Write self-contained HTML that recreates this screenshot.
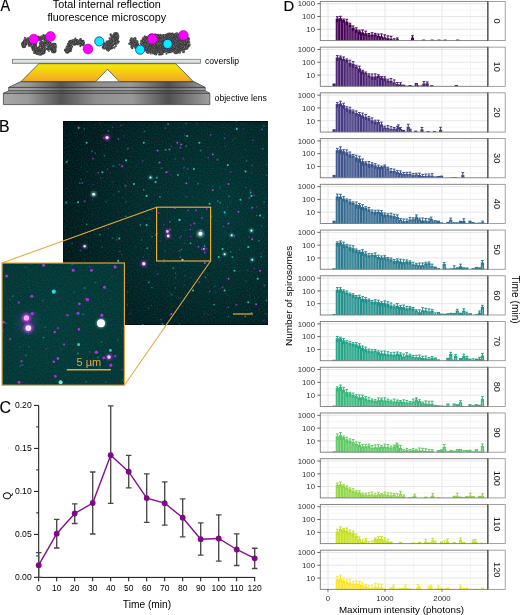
<!DOCTYPE html>
<html><head><meta charset="utf-8"><style>html,body{margin:0;padding:0;background:#fff;width:520px;height:615px;overflow:hidden}svg{display:block;will-change:transform}</style></head>
<body><svg width="520" height="615" viewBox="0 0 520 615" font-family="'Liberation Sans', sans-serif">
<text transform="translate(0.6,10.7) scale(0.9,1)" font-size="16" stroke="#000" stroke-width="0.15">A</text>
<text x="106.8" y="7.8" font-size="10.8" text-anchor="middle">Total internal reflection</text>
<text x="106.8" y="20.8" font-size="10.8" text-anchor="middle">fluorescence microscopy</text>
<defs>
<linearGradient id="yel" x1="0" y1="0" x2="0" y2="1"><stop offset="0" stop-color="#f4ea00"/><stop offset="0.45" stop-color="#f6cc15"/><stop offset="1" stop-color="#f3a327"/></linearGradient>
<linearGradient id="lens" x1="0" y1="0" x2="1" y2="0">
<stop offset="0" stop-color="#a8a8a8"/><stop offset="0.12" stop-color="#9a9a9a"/><stop offset="0.28" stop-color="#555"/><stop offset="0.45" stop-color="#8f8f8f"/><stop offset="0.62" stop-color="#9a9a9a"/><stop offset="0.8" stop-color="#505050"/><stop offset="1" stop-color="#a0a0a0"/></linearGradient>
<linearGradient id="cov" x1="0" y1="0" x2="0" y2="1"><stop offset="0" stop-color="#eef2f2"/><stop offset="1" stop-color="#c8d0d0"/></linearGradient>
<filter id="blobtex" x="-10%" y="-10%" width="120%" height="120%"><feTurbulence type="fractalNoise" baseFrequency="1.1" numOctaves="1" seed="3" result="n"/><feColorMatrix in="n" type="matrix" values="0 0 0 0 0.34  0 0 0 0 0.34  0 0 0 0 0.34  1.2 0 0 0 -0.55" result="c"/><feComposite in="c" in2="SourceAlpha" operator="in" result="t"/><feMerge><feMergeNode in="SourceGraphic"/><feMergeNode in="t"/></feMerge></filter>
</defs>
<rect x="12.5" y="59.3" width="188" height="4" fill="url(#cov)" stroke="#777" stroke-width="0.8"/>
<path d="M38.8,63.7 L175.8,63.7 L193.5,81.8 L119.5,81.8 L107.5,69.2 L95.5,81.8 L20.8,81.8 Z" fill="url(#yel)" stroke="#3a3a3a" stroke-width="0.7"/>
<path d="M20.3,81.8 L194.3,81.8 L205.2,87.4 L205.2,90.8 L209.8,93.3 L209.8,104.6 L3.4,104.6 L3.4,93.3 L8.7,90.8 L8.7,87.4 Z" fill="url(#lens)" stroke="#333" stroke-width="0.7"/>
<path d="M8.7,87.4 L205.2,87.4 M8.7,90.8 L205.2,90.8 M3.4,93.3 L209.8,93.3" stroke="#333" stroke-width="0.8" fill="none"/>
<path d="M8.7,89.2 L205.2,89.2" stroke="#bbb" stroke-width="0.6" opacity="0.6"/>
<g fill="#3d3d3d" filter="url(#blobtex)"><circle cx="23.9" cy="46.0" r="2.25"/><circle cx="23.9" cy="44.4" r="2.66"/><circle cx="24.2" cy="43.0" r="2.36"/><circle cx="26.0" cy="42.5" r="2.00"/><circle cx="26.6" cy="41.1" r="2.45"/><circle cx="28.2" cy="39.5" r="2.25"/><circle cx="28.2" cy="41.7" r="2.31"/><circle cx="29.1" cy="43.1" r="2.06"/><circle cx="30.2" cy="44.7" r="2.03"/><circle cx="24.0" cy="46.0" r="1.29"/><circle cx="24.8" cy="45.6" r="1.23"/><circle cx="23.7" cy="44.6" r="1.22"/><circle cx="22.2" cy="43.4" r="1.04"/><circle cx="25.9" cy="44.1" r="1.21"/><circle cx="24.6" cy="43.0" r="0.96"/><circle cx="23.8" cy="42.0" r="1.00"/><circle cx="24.5" cy="41.0" r="1.25"/><circle cx="24.5" cy="40.2" r="1.28"/><circle cx="28.1" cy="43.0" r="0.94"/><circle cx="26.1" cy="40.2" r="1.12"/><circle cx="24.9" cy="38.2" r="1.09"/><circle cx="25.3" cy="41.5" r="0.97"/><circle cx="27.3" cy="40.9" r="0.97"/><circle cx="27.7" cy="41.3" r="1.28"/><circle cx="30.1" cy="40.4" r="0.92"/><circle cx="31.1" cy="40.5" r="1.14"/><circle cx="31.8" cy="40.7" r="0.95"/><circle cx="29.5" cy="43.0" r="1.29"/><circle cx="30.1" cy="43.5" r="1.08"/><circle cx="28.8" cy="44.3" r="0.96"/><circle cx="29.2" cy="44.8" r="0.99"/><circle cx="29.1" cy="45.4" r="1.31"/><circle cx="32.8" cy="45.5" r="1.14"/><circle cx="32.8" cy="45.1" r="2.24"/><circle cx="34.0" cy="46.0" r="3.01"/><circle cx="33.6" cy="47.8" r="2.21"/><circle cx="34.7" cy="48.7" r="2.97"/><circle cx="36.2" cy="49.4" r="2.66"/><circle cx="37.3" cy="50.4" r="2.44"/><circle cx="37.4" cy="52.3" r="2.64"/><circle cx="38.8" cy="53.0" r="2.18"/><circle cx="40.3" cy="52.8" r="2.89"/><circle cx="41.9" cy="51.9" r="2.51"/><circle cx="42.8" cy="50.5" r="3.01"/><circle cx="43.1" cy="49.0" r="2.12"/><circle cx="43.5" cy="47.5" r="2.40"/><circle cx="42.9" cy="46.0" r="2.30"/><circle cx="42.6" cy="44.7" r="2.40"/><circle cx="41.6" cy="43.5" r="2.68"/><circle cx="35.3" cy="43.7" r="1.24"/><circle cx="36.0" cy="43.9" r="1.23"/><circle cx="31.8" cy="47.0" r="1.12"/><circle cx="32.7" cy="47.2" r="1.02"/><circle cx="32.8" cy="47.8" r="1.09"/><circle cx="36.0" cy="46.6" r="1.31"/><circle cx="35.3" cy="47.7" r="1.07"/><circle cx="33.1" cy="49.9" r="1.07"/><circle cx="34.5" cy="49.6" r="0.99"/><circle cx="33.9" cy="50.8" r="1.02"/><circle cx="38.5" cy="48.3" r="1.31"/><circle cx="38.2" cy="49.2" r="1.30"/><circle cx="34.2" cy="52.9" r="1.16"/><circle cx="39.8" cy="49.6" r="0.94"/><circle cx="38.1" cy="50.2" r="1.08"/><circle cx="37.9" cy="52.9" r="1.31"/><circle cx="39.0" cy="51.5" r="0.98"/><circle cx="39.2" cy="53.0" r="0.98"/><circle cx="40.8" cy="50.2" r="1.14"/><circle cx="41.4" cy="53.9" r="0.95"/><circle cx="40.7" cy="52.4" r="1.20"/><circle cx="42.6" cy="53.4" r="1.07"/><circle cx="43.6" cy="53.6" r="0.99"/><circle cx="43.2" cy="52.3" r="1.23"/><circle cx="44.4" cy="52.7" r="1.12"/><circle cx="40.4" cy="50.5" r="0.94"/><circle cx="43.2" cy="49.9" r="0.99"/><circle cx="43.9" cy="49.4" r="0.95"/><circle cx="44.8" cy="48.8" r="1.01"/><circle cx="39.8" cy="48.2" r="0.99"/><circle cx="42.7" cy="47.7" r="1.15"/><circle cx="42.3" cy="47.1" r="0.99"/><circle cx="42.9" cy="46.6" r="1.30"/><circle cx="43.2" cy="45.9" r="1.30"/><circle cx="39.8" cy="46.2" r="1.32"/><circle cx="45.2" cy="44.2" r="1.14"/><circle cx="42.7" cy="44.2" r="1.14"/><circle cx="45.1" cy="43.1" r="0.95"/><circle cx="43.2" cy="42.9" r="1.14"/><circle cx="40.9" cy="42.9" r="1.21"/><circle cx="39.1" cy="38.9" r="1.76"/><circle cx="40.6" cy="38.3" r="2.01"/><circle cx="42.0" cy="37.5" r="2.15"/><circle cx="43.6" cy="37.5" r="2.12"/><circle cx="44.4" cy="38.6" r="2.33"/><circle cx="38.4" cy="36.8" r="1.25"/><circle cx="40.1" cy="39.7" r="1.17"/><circle cx="41.0" cy="40.5" r="0.93"/><circle cx="41.0" cy="38.5" r="1.17"/><circle cx="41.8" cy="38.8" r="1.08"/><circle cx="43.4" cy="35.0" r="1.00"/><circle cx="42.1" cy="38.4" r="0.99"/><circle cx="44.4" cy="35.6" r="1.06"/><circle cx="43.6" cy="38.2" r="1.14"/><circle cx="45.6" cy="35.9" r="1.23"/><circle cx="45.0" cy="38.0" r="1.24"/><circle cx="46.6" cy="36.4" r="1.30"/><circle cx="46.9" cy="42.1" r="2.88"/><circle cx="46.9" cy="44.1" r="2.75"/><circle cx="49.1" cy="45.1" r="2.32"/><circle cx="49.9" cy="46.7" r="2.70"/><circle cx="50.8" cy="48.0" r="2.21"/><circle cx="52.1" cy="48.6" r="2.12"/><circle cx="53.7" cy="50.4" r="2.88"/><circle cx="53.5" cy="48.4" r="2.67"/><circle cx="54.4" cy="47.0" r="2.48"/><circle cx="53.5" cy="45.3" r="2.58"/><circle cx="48.6" cy="41.3" r="1.02"/><circle cx="47.1" cy="42.6" r="1.00"/><circle cx="47.9" cy="43.0" r="1.30"/><circle cx="50.6" cy="42.5" r="0.96"/><circle cx="46.2" cy="45.1" r="0.94"/><circle cx="49.8" cy="44.3" r="1.26"/><circle cx="47.9" cy="45.9" r="1.01"/><circle cx="51.3" cy="44.4" r="1.03"/><circle cx="50.3" cy="45.8" r="1.24"/><circle cx="46.9" cy="48.7" r="1.24"/><circle cx="47.6" cy="49.0" r="1.29"/><circle cx="48.1" cy="49.4" r="1.29"/><circle cx="48.9" cy="51.1" r="0.96"/><circle cx="51.6" cy="47.8" r="1.02"/><circle cx="51.1" cy="49.7" r="1.12"/><circle cx="52.5" cy="48.5" r="1.26"/><circle cx="52.8" cy="49.1" r="1.00"/><circle cx="51.7" cy="49.3" r="1.11"/><circle cx="53.9" cy="49.8" r="1.15"/><circle cx="53.1" cy="48.8" r="0.99"/><circle cx="53.2" cy="48.2" r="1.05"/><circle cx="52.1" cy="47.0" r="1.14"/><circle cx="52.4" cy="46.6" r="1.21"/><circle cx="55.5" cy="46.6" r="0.98"/><circle cx="55.0" cy="46.1" r="1.06"/><circle cx="53.7" cy="46.0" r="1.16"/><circle cx="55.3" cy="44.6" r="1.28"/><circle cx="54.9" cy="44.1" r="1.01"/><circle cx="53.5" cy="44.0" r="1.05"/><circle cx="67.3" cy="51.4" r="2.40"/><circle cx="68.3" cy="49.7" r="2.66"/><circle cx="68.2" cy="47.9" r="2.64"/><circle cx="69.2" cy="46.7" r="2.02"/><circle cx="70.2" cy="45.5" r="2.17"/><circle cx="70.5" cy="44.0" r="1.99"/><circle cx="70.9" cy="42.5" r="2.71"/><circle cx="72.0" cy="41.7" r="2.06"/><circle cx="73.4" cy="40.9" r="2.01"/><circle cx="75.3" cy="41.8" r="2.77"/><circle cx="76.9" cy="41.2" r="2.27"/><circle cx="78.5" cy="42.4" r="2.36"/><circle cx="80.9" cy="42.0" r="2.52"/><circle cx="81.7" cy="43.1" r="2.16"/><circle cx="82.7" cy="43.9" r="2.26"/><circle cx="66.1" cy="51.3" r="1.17"/><circle cx="70.7" cy="51.1" r="1.15"/><circle cx="65.1" cy="50.1" r="1.20"/><circle cx="65.2" cy="49.5" r="1.11"/><circle cx="70.8" cy="49.4" r="1.19"/><circle cx="71.1" cy="48.8" r="1.22"/><circle cx="67.2" cy="47.3" r="0.98"/><circle cx="68.5" cy="47.4" r="1.19"/><circle cx="67.4" cy="46.2" r="1.05"/><circle cx="70.7" cy="47.2" r="1.06"/><circle cx="70.1" cy="46.3" r="1.14"/><circle cx="72.3" cy="46.8" r="0.93"/><circle cx="68.1" cy="44.1" r="1.23"/><circle cx="71.2" cy="45.0" r="0.96"/><circle cx="69.0" cy="42.1" r="1.00"/><circle cx="71.1" cy="43.9" r="1.28"/><circle cx="70.2" cy="41.8" r="1.00"/><circle cx="72.6" cy="43.9" r="1.09"/><circle cx="73.7" cy="44.3" r="1.32"/><circle cx="74.5" cy="44.4" r="1.21"/><circle cx="73.1" cy="41.8" r="0.94"/><circle cx="73.8" cy="43.5" r="1.08"/><circle cx="74.0" cy="41.2" r="1.17"/><circle cx="75.1" cy="44.4" r="1.14"/><circle cx="75.6" cy="44.0" r="1.31"/><circle cx="75.4" cy="38.5" r="1.06"/><circle cx="76.8" cy="43.6" r="1.23"/><circle cx="75.8" cy="43.8" r="0.99"/><circle cx="77.5" cy="41.4" r="1.30"/><circle cx="78.1" cy="41.7" r="1.19"/><circle cx="77.5" cy="44.6" r="0.99"/><circle cx="80.5" cy="39.3" r="1.26"/><circle cx="79.7" cy="42.7" r="1.00"/><circle cx="79.1" cy="44.2" r="1.03"/><circle cx="82.5" cy="41.0" r="1.04"/><circle cx="83.3" cy="40.9" r="1.08"/><circle cx="80.6" cy="45.0" r="1.10"/><circle cx="80.3" cy="46.3" r="0.94"/><circle cx="84.0" cy="42.6" r="0.98"/><circle cx="82.8" cy="45.0" r="1.00"/><circle cx="104.1" cy="47.3" r="2.27"/><circle cx="105.2" cy="46.5" r="2.53"/><circle cx="106.6" cy="46.1" r="2.59"/><circle cx="107.2" cy="44.5" r="2.15"/><circle cx="109.5" cy="44.7" r="2.17"/><circle cx="110.2" cy="42.8" r="2.24"/><circle cx="111.0" cy="41.2" r="2.53"/><circle cx="112.7" cy="40.0" r="1.92"/><circle cx="113.6" cy="38.6" r="2.27"/><circle cx="112.6" cy="36.8" r="2.34"/><circle cx="114.4" cy="36.2" r="2.13"/><circle cx="115.1" cy="33.9" r="2.01"/><circle cx="116.1" cy="34.9" r="2.28"/><circle cx="116.8" cy="36.5" r="2.54"/><circle cx="117.0" cy="38.2" r="1.86"/><circle cx="116.6" cy="40.0" r="1.95"/><circle cx="115.9" cy="41.4" r="2.03"/><circle cx="115.3" cy="42.7" r="2.36"/><circle cx="113.5" cy="42.9" r="2.15"/><circle cx="112.5" cy="44.3" r="2.11"/><circle cx="110.9" cy="44.9" r="2.30"/><circle cx="110.4" cy="47.2" r="2.45"/><circle cx="109.1" cy="47.6" r="1.89"/><circle cx="108.1" cy="48.6" r="2.53"/><circle cx="104.7" cy="48.2" r="1.06"/><circle cx="104.7" cy="47.0" r="1.20"/><circle cx="103.6" cy="44.0" r="1.20"/><circle cx="106.2" cy="47.3" r="1.30"/><circle cx="104.6" cy="43.3" r="1.15"/><circle cx="106.5" cy="45.6" r="1.26"/><circle cx="106.6" cy="44.5" r="1.19"/><circle cx="109.0" cy="47.2" r="1.06"/><circle cx="108.1" cy="44.8" r="1.28"/><circle cx="106.8" cy="41.8" r="1.31"/><circle cx="108.3" cy="43.0" r="1.10"/><circle cx="108.7" cy="42.5" r="1.24"/><circle cx="110.1" cy="43.5" r="1.22"/><circle cx="108.3" cy="41.5" r="1.27"/><circle cx="112.6" cy="43.7" r="1.19"/><circle cx="109.6" cy="41.0" r="1.02"/><circle cx="111.2" cy="41.3" r="0.95"/><circle cx="114.3" cy="42.7" r="1.08"/><circle cx="114.7" cy="42.2" r="0.99"/><circle cx="113.5" cy="40.2" r="1.24"/><circle cx="113.5" cy="39.6" r="1.09"/><circle cx="109.6" cy="38.3" r="1.10"/><circle cx="112.1" cy="38.1" r="1.30"/><circle cx="116.0" cy="38.1" r="1.31"/><circle cx="115.7" cy="38.6" r="0.99"/><circle cx="110.6" cy="34.9" r="1.04"/><circle cx="110.8" cy="34.3" r="0.97"/><circle cx="114.3" cy="35.8" r="1.00"/><circle cx="114.8" cy="35.4" r="1.07"/><circle cx="115.6" cy="33.4" r="1.31"/><circle cx="116.4" cy="33.4" r="1.28"/><circle cx="115.2" cy="35.4" r="1.19"/><circle cx="117.4" cy="34.0" r="1.22"/><circle cx="114.3" cy="37.9" r="1.00"/><circle cx="116.7" cy="36.5" r="1.18"/><circle cx="116.7" cy="37.1" r="1.22"/><circle cx="115.5" cy="37.7" r="1.05"/><circle cx="115.3" cy="38.2" r="1.23"/><circle cx="116.7" cy="38.8" r="1.16"/><circle cx="115.6" cy="39.4" r="1.11"/><circle cx="118.7" cy="41.6" r="1.08"/><circle cx="114.6" cy="39.4" r="1.21"/><circle cx="118.1" cy="42.6" r="1.11"/><circle cx="115.0" cy="41.2" r="1.13"/><circle cx="117.0" cy="43.3" r="1.18"/><circle cx="113.7" cy="41.7" r="1.14"/><circle cx="112.0" cy="41.3" r="1.15"/><circle cx="115.9" cy="46.1" r="1.03"/><circle cx="112.8" cy="42.8" r="0.95"/><circle cx="111.3" cy="41.7" r="1.20"/><circle cx="111.6" cy="43.1" r="0.99"/><circle cx="114.2" cy="47.4" r="1.27"/><circle cx="111.7" cy="45.1" r="1.10"/><circle cx="111.3" cy="45.4" r="1.23"/><circle cx="111.4" cy="46.5" r="1.23"/><circle cx="111.8" cy="48.0" r="1.31"/><circle cx="109.4" cy="45.4" r="1.05"/><circle cx="109.6" cy="46.9" r="1.27"/><circle cx="109.6" cy="48.1" r="1.20"/><circle cx="107.2" cy="45.0" r="1.31"/><circle cx="108.8" cy="49.0" r="1.24"/><circle cx="107.1" cy="47.3" r="1.25"/><circle cx="108.4" cy="50.7" r="1.09"/><path d="M131,42 L132,40 L133,38.8 L134.8,39.8 L136.5,42 L137.5,44.5 L138,46.5 L135.5,46.5 L133,47.2 L131.5,46 L130.8,44.5Z"/><circle cx="130.9" cy="41.9" r="1.30"/><circle cx="131.2" cy="41.3" r="0.98"/><circle cx="130.8" cy="40.3" r="1.31"/><circle cx="132.9" cy="40.8" r="1.20"/><circle cx="131.5" cy="38.5" r="1.28"/><circle cx="132.4" cy="39.8" r="1.08"/><circle cx="133.6" cy="39.1" r="1.08"/><circle cx="134.9" cy="38.2" r="1.27"/><circle cx="135.7" cy="39.1" r="1.00"/><circle cx="134.2" cy="41.2" r="1.00"/><circle cx="135.0" cy="41.4" r="1.30"/><circle cx="136.7" cy="41.0" r="1.12"/><circle cx="137.3" cy="41.7" r="1.26"/><circle cx="135.3" cy="43.2" r="1.27"/><circle cx="137.0" cy="43.2" r="1.19"/><circle cx="137.5" cy="43.8" r="1.26"/><circle cx="138.2" cy="44.3" r="1.06"/><circle cx="137.1" cy="45.3" r="1.07"/><circle cx="136.3" cy="46.2" r="1.27"/><circle cx="138.0" cy="47.5" r="0.97"/><circle cx="137.4" cy="46.2" r="1.02"/><circle cx="136.8" cy="46.5" r="1.21"/><circle cx="136.1" cy="45.5" r="1.12"/><circle cx="135.5" cy="46.4" r="1.30"/><circle cx="135.2" cy="47.8" r="1.10"/><circle cx="134.0" cy="45.9" r="1.11"/><circle cx="133.3" cy="45.7" r="1.00"/><circle cx="132.2" cy="48.2" r="1.11"/><circle cx="132.4" cy="46.9" r="1.11"/><circle cx="131.4" cy="47.1" r="1.15"/><circle cx="132.6" cy="45.5" r="1.35"/><circle cx="131.5" cy="45.1" r="1.07"/><circle cx="131.1" cy="44.5" r="1.03"/><circle cx="129.5" cy="43.8" r="1.29"/><circle cx="130.2" cy="43.2" r="1.03"/><circle cx="132.0" cy="42.7" r="1.01"/><path d="M142,42 L143,38.5 L145,37.2 L148,36.8 L151,36.2 L155,35.8 L158,35.5 L160.5,36.5 L163,36.5 L165.5,35 L168,34 L171,34.5 L174,35.5 L177,35 L180,35 L184,34.5 L187,38.5 L188.5,41 L189,44 L188.5,46.5 L186,47.5 L184,50 L180,51.5 L176,51.5 L172,52 L168,52.5 L164,52 L161,53 L157,53 L153,52 L149,51.5 L146.5,50.5 L144.5,48 L143,45.5Z"/><circle cx="141.2" cy="41.8" r="1.02"/><circle cx="143.4" cy="41.8" r="1.25"/><circle cx="141.4" cy="40.6" r="0.99"/><circle cx="143.8" cy="40.6" r="1.01"/><circle cx="143.3" cy="39.9" r="1.25"/><circle cx="143.1" cy="39.2" r="1.16"/><circle cx="142.9" cy="38.3" r="1.08"/><circle cx="143.9" cy="38.5" r="1.02"/><circle cx="144.3" cy="37.6" r="1.07"/><circle cx="144.9" cy="36.8" r="1.33"/><circle cx="145.6" cy="37.3" r="1.23"/><circle cx="146.3" cy="37.5" r="0.96"/><circle cx="146.9" cy="37.9" r="1.33"/><circle cx="147.5" cy="37.7" r="1.18"/><circle cx="148.2" cy="37.9" r="1.36"/><circle cx="148.5" cy="36.0" r="1.03"/><circle cx="149.1" cy="36.1" r="0.97"/><circle cx="149.6" cy="35.6" r="0.99"/><circle cx="150.1" cy="34.8" r="1.13"/><circle cx="150.8" cy="34.6" r="1.16"/><circle cx="151.8" cy="37.2" r="1.26"/><circle cx="152.2" cy="34.6" r="1.27"/><circle cx="152.9" cy="35.0" r="1.30"/><circle cx="153.7" cy="36.4" r="1.19"/><circle cx="154.3" cy="35.7" r="1.37"/><circle cx="154.9" cy="34.9" r="1.34"/><circle cx="155.5" cy="34.8" r="1.00"/><circle cx="156.1" cy="34.8" r="0.98"/><circle cx="156.9" cy="36.7" r="1.04"/><circle cx="157.4" cy="35.8" r="1.08"/><circle cx="158.2" cy="35.1" r="1.29"/><circle cx="158.6" cy="35.9" r="1.07"/><circle cx="159.0" cy="36.7" r="1.02"/><circle cx="160.4" cy="34.9" r="1.25"/><circle cx="160.5" cy="37.6" r="1.28"/><circle cx="161.1" cy="37.1" r="1.35"/><circle cx="161.8" cy="37.9" r="1.20"/><circle cx="162.4" cy="35.5" r="1.20"/><circle cx="162.9" cy="36.3" r="1.26"/><circle cx="163.4" cy="35.7" r="0.99"/><circle cx="163.7" cy="34.9" r="1.02"/><circle cx="165.3" cy="36.0" r="1.25"/><circle cx="165.5" cy="35.1" r="1.09"/><circle cx="166.4" cy="35.4" r="1.15"/><circle cx="166.7" cy="34.5" r="1.04"/><circle cx="168.0" cy="35.7" r="1.15"/><circle cx="168.0" cy="33.9" r="1.05"/><circle cx="168.6" cy="33.9" r="1.16"/><circle cx="169.2" cy="34.0" r="1.27"/><circle cx="169.9" cy="33.8" r="1.22"/><circle cx="170.3" cy="34.9" r="1.02"/><circle cx="170.7" cy="35.5" r="0.99"/><circle cx="171.8" cy="34.0" r="1.31"/><circle cx="172.6" cy="33.7" r="1.08"/><circle cx="172.9" cy="34.8" r="1.36"/><circle cx="172.9" cy="36.7" r="1.05"/><circle cx="174.1" cy="35.9" r="1.31"/><circle cx="174.6" cy="35.4" r="1.09"/><circle cx="175.0" cy="34.2" r="0.99"/><circle cx="175.6" cy="33.8" r="0.98"/><circle cx="176.5" cy="35.8" r="1.21"/><circle cx="177.0" cy="33.6" r="1.35"/><circle cx="177.6" cy="36.6" r="1.13"/><circle cx="178.2" cy="34.6" r="1.33"/><circle cx="178.8" cy="35.5" r="1.27"/><circle cx="179.4" cy="34.0" r="1.27"/><circle cx="180.0" cy="34.8" r="0.98"/><circle cx="180.5" cy="33.5" r="1.07"/><circle cx="181.2" cy="34.0" r="1.07"/><circle cx="182.2" cy="36.1" r="1.13"/><circle cx="182.6" cy="33.7" r="1.00"/><circle cx="183.2" cy="33.2" r="1.13"/><circle cx="184.2" cy="34.3" r="0.99"/><circle cx="184.3" cy="35.0" r="1.10"/><circle cx="186.0" cy="34.6" r="1.16"/><circle cx="186.0" cy="35.3" r="1.04"/><circle cx="184.9" cy="37.0" r="1.14"/><circle cx="186.2" cy="36.7" r="1.19"/><circle cx="185.7" cy="37.9" r="1.22"/><circle cx="185.5" cy="38.9" r="1.26"/><circle cx="187.4" cy="38.2" r="1.36"/><circle cx="188.7" cy="38.3" r="1.04"/><circle cx="188.8" cy="39.1" r="1.12"/><circle cx="188.5" cy="40.1" r="1.12"/><circle cx="188.1" cy="41.1" r="1.11"/><circle cx="188.7" cy="41.6" r="1.24"/><circle cx="187.4" cy="42.4" r="1.36"/><circle cx="189.2" cy="42.7" r="1.12"/><circle cx="187.3" cy="43.7" r="1.31"/><circle cx="187.8" cy="43.8" r="1.01"/><circle cx="189.5" cy="44.8" r="1.14"/><circle cx="189.3" cy="45.4" r="1.15"/><circle cx="187.2" cy="45.6" r="1.12"/><circle cx="188.5" cy="46.5" r="1.10"/><circle cx="187.8" cy="46.5" r="1.19"/><circle cx="187.6" cy="47.9" r="0.98"/><circle cx="186.3" cy="46.5" r="1.31"/><circle cx="186.4" cy="47.8" r="1.04"/><circle cx="186.6" cy="48.8" r="1.22"/><circle cx="185.0" cy="48.3" r="1.35"/><circle cx="184.4" cy="48.6" r="1.20"/><circle cx="184.2" cy="49.3" r="1.34"/><circle cx="183.5" cy="48.7" r="1.03"/><circle cx="183.9" cy="51.3" r="1.01"/><circle cx="183.4" cy="51.9" r="1.32"/><circle cx="181.8" cy="49.3" r="1.17"/><circle cx="181.4" cy="50.1" r="1.24"/><circle cx="181.0" cy="50.6" r="1.12"/><circle cx="180.1" cy="49.9" r="1.09"/><circle cx="180.0" cy="52.8" r="0.98"/><circle cx="179.3" cy="50.6" r="1.29"/><circle cx="178.7" cy="50.4" r="1.30"/><circle cx="178.0" cy="52.4" r="1.11"/><circle cx="177.3" cy="52.2" r="1.32"/><circle cx="176.7" cy="53.1" r="1.09"/><circle cx="175.9" cy="51.0" r="1.23"/><circle cx="175.5" cy="53.2" r="1.01"/><circle cx="174.8" cy="52.7" r="1.05"/><circle cx="174.0" cy="51.7" r="0.97"/><circle cx="173.2" cy="50.8" r="1.16"/><circle cx="172.6" cy="51.4" r="1.11"/><circle cx="171.9" cy="50.9" r="1.00"/><circle cx="171.2" cy="50.9" r="1.06"/><circle cx="170.7" cy="52.1" r="1.20"/><circle cx="169.9" cy="51.7" r="1.19"/><circle cx="169.2" cy="51.6" r="0.98"/><circle cx="168.7" cy="52.3" r="1.17"/><circle cx="168.0" cy="52.1" r="1.00"/><circle cx="167.4" cy="51.8" r="0.99"/><circle cx="166.5" cy="53.8" r="0.98"/><circle cx="166.2" cy="50.7" r="1.03"/><circle cx="165.4" cy="51.6" r="0.98"/><circle cx="164.7" cy="51.7" r="1.05"/><circle cx="163.9" cy="51.7" r="1.27"/><circle cx="163.2" cy="51.7" r="1.19"/><circle cx="162.6" cy="51.7" r="0.96"/><circle cx="162.7" cy="54.0" r="1.06"/><circle cx="161.6" cy="52.9" r="1.28"/><circle cx="161.0" cy="54.5" r="1.05"/><circle cx="160.3" cy="52.9" r="1.10"/><circle cx="159.7" cy="54.3" r="1.08"/><circle cx="159.0" cy="54.5" r="0.97"/><circle cx="158.3" cy="51.9" r="1.09"/><circle cx="157.7" cy="52.3" r="1.06"/><circle cx="157.2" cy="52.3" r="1.33"/><circle cx="156.0" cy="54.3" r="1.21"/><circle cx="156.0" cy="51.4" r="1.28"/><circle cx="154.7" cy="53.7" r="1.27"/><circle cx="154.5" cy="51.5" r="1.03"/><circle cx="153.8" cy="51.7" r="1.22"/><circle cx="152.9" cy="53.0" r="1.30"/><circle cx="152.5" cy="50.8" r="0.99"/><circle cx="151.7" cy="51.9" r="1.21"/><circle cx="150.8" cy="53.3" r="1.18"/><circle cx="150.5" cy="50.3" r="1.10"/><circle cx="149.7" cy="51.6" r="1.35"/><circle cx="149.4" cy="50.4" r="1.36"/><circle cx="147.9" cy="52.5" r="1.38"/><circle cx="147.5" cy="51.5" r="1.11"/><circle cx="146.8" cy="51.7" r="1.30"/><circle cx="146.7" cy="50.3" r="1.15"/><circle cx="146.1" cy="50.0" r="1.18"/><circle cx="145.9" cy="49.3" r="1.02"/><circle cx="145.8" cy="48.6" r="1.07"/><circle cx="143.7" cy="49.5" r="1.36"/><circle cx="143.4" cy="48.7" r="1.30"/><circle cx="144.9" cy="46.9" r="1.14"/><circle cx="144.0" cy="46.6" r="1.06"/><circle cx="142.6" cy="46.6" r="1.33"/><circle cx="143.8" cy="45.3" r="1.28"/><circle cx="142.7" cy="45.0" r="0.97"/><circle cx="143.5" cy="44.1" r="1.36"/><circle cx="141.9" cy="43.9" r="1.22"/><circle cx="141.2" cy="43.5" r="1.36"/><circle cx="142.8" cy="42.4" r="0.99"/></g>
<circle cx="33.8" cy="39.1" r="4.9" fill="#ff00ff" stroke="#a000b0" stroke-width="0.6"/>
<circle cx="50.5" cy="36.5" r="4.9" fill="#ff00ff" stroke="#a000b0" stroke-width="0.6"/>
<circle cx="88" cy="49" r="4.9" fill="#ff00ff" stroke="#a000b0" stroke-width="0.6"/>
<circle cx="152.4" cy="39" r="4.9" fill="#ff00ff" stroke="#a000b0" stroke-width="0.6"/>
<circle cx="183.4" cy="35.4" r="4.9" fill="#ff00ff" stroke="#a000b0" stroke-width="0.6"/>
<circle cx="99.3" cy="41.4" r="4.6" fill="#00f0ff" stroke="#2020a0" stroke-width="0.8"/>
<circle cx="140.2" cy="49.7" r="4.6" fill="#00f0ff" stroke="#2020a0" stroke-width="0.8"/>
<circle cx="167.6" cy="43.9" r="4.6" fill="#00f0ff" stroke="#2020a0" stroke-width="0.8"/>
<text x="205" y="63.5" font-size="8.65">coverslip</text>
<text x="214.6" y="101.2" font-size="8.65">objective lens</text>
<text x="-1.1" y="131.6" font-size="15.8" stroke="#000" stroke-width="0.15">B</text>
<defs>
<radialGradient id="bgB" cx="0.75" cy="0.45" r="0.9"><stop offset="0" stop-color="#053232"/><stop offset="0.5" stop-color="#052223"/><stop offset="1" stop-color="#020c0e"/></radialGradient>
<radialGradient id="bgI" cx="0.5" cy="0.5" r="0.8"><stop offset="0" stop-color="#063634"/><stop offset="1" stop-color="#05302f"/></radialGradient>
<filter id="grain" x="0" y="0" width="100%" height="100%"><feTurbulence type="fractalNoise" baseFrequency="0.7" numOctaves="1" seed="5" result="n"/><feColorMatrix in="n" type="matrix" values="0 0 0 0 0  0 0 0 0 0.24  0 0 0 0 0.24  0 0 0 0.55 -0.18"/></filter>
<filter id="bl0" x="-1" y="-1" width="3" height="3"><feGaussianBlur stdDeviation="0.35"/></filter>
<filter id="bl1" x="-1" y="-1" width="3" height="3"><feGaussianBlur stdDeviation="0.6"/></filter>
<filter id="bl2" x="-1" y="-1" width="3" height="3"><feGaussianBlur stdDeviation="1.3"/></filter>
<filter id="bl3" x="-1" y="-1" width="3" height="3"><feGaussianBlur stdDeviation="3"/></filter>
<clipPath id="clipB"><rect x="63" y="121" width="205" height="204"/></clipPath>
<clipPath id="clipI"><rect x="2" y="263" width="122.4" height="122.2"/></clipPath>
</defs>
<rect x="63" y="121" width="205" height="204" fill="url(#bgB)"/>
<rect x="63" y="121" width="205" height="204" filter="url(#grain)"/>
<rect x="63" y="121" width="205" height="1.2" fill="#010c0c" opacity="0.85"/><rect x="63" y="323.8" width="205" height="1.2" fill="#010c0c" opacity="0.6"/><rect x="63" y="121" width="1" height="204" fill="#010c0c" opacity="0.5"/>
<g clip-path="url(#clipB)">
<g filter="url(#bl0)">
<circle cx="155.7" cy="235.2" r="0.83" fill="#30d0c0" opacity="0.45"/>
<circle cx="183.4" cy="158.7" r="0.91" fill="#a838e0" opacity="0.60"/>
<circle cx="82.3" cy="182.9" r="1.00" fill="#a838e0" opacity="0.55"/>
<circle cx="71.6" cy="321.4" r="0.93" fill="#30d0c0" opacity="0.51"/>
<circle cx="95.3" cy="124.1" r="0.63" fill="#a838e0" opacity="0.30"/>
<circle cx="112.6" cy="127.1" r="0.82" fill="#a838e0" opacity="0.62"/>
<circle cx="156.8" cy="177.7" r="1.10" fill="#30d0c0" opacity="0.62"/>
<circle cx="208.1" cy="185.3" r="0.74" fill="#a838e0" opacity="0.24"/>
<circle cx="220.1" cy="202.7" r="0.79" fill="#30d0c0" opacity="0.68"/>
<circle cx="236.7" cy="121.1" r="1.06" fill="#a838e0" opacity="0.43"/>
<circle cx="264.0" cy="202.1" r="0.91" fill="#a838e0" opacity="0.59"/>
<circle cx="118.3" cy="138.8" r="1.08" fill="#a838e0" opacity="0.58"/>
<circle cx="87.2" cy="171.3" r="0.63" fill="#a838e0" opacity="0.60"/>
<circle cx="99.4" cy="235.1" r="0.70" fill="#a838e0" opacity="0.57"/>
<circle cx="89.8" cy="252.3" r="0.81" fill="#a838e0" opacity="0.31"/>
<circle cx="118.3" cy="319.1" r="0.75" fill="#30d0c0" opacity="0.64"/>
<circle cx="106.2" cy="201.4" r="0.92" fill="#30d0c0" opacity="0.25"/>
<circle cx="265.8" cy="164.5" r="0.99" fill="#a838e0" opacity="0.36"/>
<circle cx="123.7" cy="136.0" r="0.89" fill="#a838e0" opacity="0.32"/>
<circle cx="186.3" cy="196.8" r="1.08" fill="#a838e0" opacity="0.44"/>
<circle cx="180.8" cy="297.8" r="0.68" fill="#a838e0" opacity="0.65"/>
<circle cx="230.6" cy="171.9" r="0.97" fill="#a838e0" opacity="0.67"/>
<circle cx="103.3" cy="314.8" r="0.90" fill="#30d0c0" opacity="0.41"/>
<circle cx="84.3" cy="128.9" r="0.72" fill="#30d0c0" opacity="0.55"/>
<circle cx="115.7" cy="289.0" r="0.75" fill="#a838e0" opacity="0.29"/>
<circle cx="210.7" cy="135.0" r="0.88" fill="#a838e0" opacity="0.63"/>
<circle cx="188.9" cy="178.2" r="0.70" fill="#30d0c0" opacity="0.21"/>
<circle cx="118.2" cy="211.9" r="0.69" fill="#a838e0" opacity="0.38"/>
<circle cx="180.3" cy="147.8" r="1.05" fill="#a838e0" opacity="0.69"/>
<circle cx="197.7" cy="262.0" r="0.67" fill="#a838e0" opacity="0.22"/>
<circle cx="66.7" cy="306.7" r="1.08" fill="#30d0c0" opacity="0.21"/>
<circle cx="212.8" cy="186.1" r="0.64" fill="#30d0c0" opacity="0.47"/>
<circle cx="214.1" cy="304.6" r="0.95" fill="#30d0c0" opacity="0.60"/>
<circle cx="250.6" cy="192.8" r="1.05" fill="#30d0c0" opacity="0.64"/>
<circle cx="148.5" cy="282.3" r="0.89" fill="#30d0c0" opacity="0.51"/>
<circle cx="141.4" cy="239.9" r="0.64" fill="#30d0c0" opacity="0.52"/>
<circle cx="266.6" cy="300.5" r="0.79" fill="#30d0c0" opacity="0.57"/>
<circle cx="234.9" cy="138.1" r="0.61" fill="#30d0c0" opacity="0.50"/>
<circle cx="161.6" cy="168.0" r="0.85" fill="#30d0c0" opacity="0.51"/>
<circle cx="251.7" cy="173.2" r="0.75" fill="#a838e0" opacity="0.54"/>
<circle cx="104.5" cy="155.6" r="0.93" fill="#30d0c0" opacity="0.42"/>
<circle cx="245.8" cy="187.7" r="0.70" fill="#30d0c0" opacity="0.42"/>
<circle cx="228.2" cy="307.5" r="0.79" fill="#30d0c0" opacity="0.49"/>
<circle cx="127.9" cy="148.8" r="1.02" fill="#a838e0" opacity="0.62"/>
<circle cx="208.8" cy="314.8" r="0.68" fill="#a838e0" opacity="0.43"/>
<circle cx="119.4" cy="164.7" r="0.91" fill="#a838e0" opacity="0.45"/>
<circle cx="127.7" cy="292.2" r="0.83" fill="#30d0c0" opacity="0.24"/>
<circle cx="69.5" cy="299.1" r="0.95" fill="#a838e0" opacity="0.49"/>
<circle cx="126.4" cy="282.5" r="0.67" fill="#a838e0" opacity="0.43"/>
<circle cx="68.1" cy="290.3" r="0.67" fill="#a838e0" opacity="0.22"/>
<circle cx="228.5" cy="316.5" r="0.70" fill="#30d0c0" opacity="0.44"/>
<circle cx="99.6" cy="123.2" r="0.96" fill="#a838e0" opacity="0.29"/>
<circle cx="118.8" cy="191.5" r="0.86" fill="#30d0c0" opacity="0.51"/>
<circle cx="218.0" cy="201.3" r="1.05" fill="#30d0c0" opacity="0.24"/>
<circle cx="254.2" cy="268.4" r="0.83" fill="#a838e0" opacity="0.51"/>
<circle cx="249.5" cy="197.9" r="1.04" fill="#a838e0" opacity="0.60"/>
<circle cx="256.6" cy="215.6" r="0.70" fill="#30d0c0" opacity="0.56"/>
<circle cx="230.8" cy="251.9" r="0.71" fill="#30d0c0" opacity="0.65"/>
<circle cx="264.0" cy="320.4" r="1.00" fill="#a838e0" opacity="0.36"/>
<circle cx="249.5" cy="295.6" r="0.64" fill="#a838e0" opacity="0.42"/>
<circle cx="175.8" cy="277.7" r="0.61" fill="#a838e0" opacity="0.60"/>
<circle cx="76.1" cy="284.2" r="0.77" fill="#a838e0" opacity="0.59"/>
<circle cx="91.8" cy="151.3" r="0.96" fill="#a838e0" opacity="0.62"/>
<circle cx="204.3" cy="313.9" r="1.07" fill="#a838e0" opacity="0.24"/>
<circle cx="108.4" cy="228.4" r="0.96" fill="#a838e0" opacity="0.52"/>
<circle cx="170.2" cy="293.1" r="0.76" fill="#a838e0" opacity="0.39"/>
<circle cx="236.3" cy="304.7" r="1.03" fill="#a838e0" opacity="0.68"/>
<circle cx="104.2" cy="230.3" r="0.90" fill="#a838e0" opacity="0.21"/>
<circle cx="261.7" cy="226.3" r="1.00" fill="#a838e0" opacity="0.48"/>
<circle cx="163.7" cy="262.0" r="0.87" fill="#a838e0" opacity="0.41"/>
<circle cx="259.2" cy="309.4" r="0.84" fill="#a838e0" opacity="0.26"/>
<circle cx="151.9" cy="287.4" r="0.84" fill="#30d0c0" opacity="0.36"/>
<circle cx="102.2" cy="247.1" r="0.66" fill="#30d0c0" opacity="0.59"/>
<circle cx="67.7" cy="160.6" r="0.94" fill="#a838e0" opacity="0.36"/>
<circle cx="135.8" cy="247.4" r="0.97" fill="#a838e0" opacity="0.26"/>
<circle cx="167.6" cy="172.1" r="0.87" fill="#a838e0" opacity="0.42"/>
<circle cx="140.0" cy="205.3" r="0.68" fill="#a838e0" opacity="0.30"/>
<circle cx="171.6" cy="294.7" r="1.03" fill="#30d0c0" opacity="0.32"/>
<circle cx="214.9" cy="286.3" r="0.76" fill="#30d0c0" opacity="0.36"/>
<circle cx="252.2" cy="165.5" r="1.04" fill="#30d0c0" opacity="0.27"/>
<circle cx="112.1" cy="269.2" r="0.65" fill="#a838e0" opacity="0.62"/>
<circle cx="149.4" cy="282.1" r="0.80" fill="#a838e0" opacity="0.54"/>
<circle cx="66.6" cy="162.0" r="1.06" fill="#30d0c0" opacity="0.68"/>
<circle cx="86.7" cy="224.2" r="0.85" fill="#30d0c0" opacity="0.54"/>
<circle cx="101.7" cy="135.4" r="0.62" fill="#a838e0" opacity="0.48"/>
<circle cx="93.0" cy="158.6" r="1.02" fill="#a838e0" opacity="0.70"/>
<circle cx="253.0" cy="140.4" r="1.08" fill="#a838e0" opacity="0.43"/>
<circle cx="219.8" cy="187.7" r="0.86" fill="#a838e0" opacity="0.42"/>
<circle cx="186.2" cy="123.7" r="1.02" fill="#30d0c0" opacity="0.29"/>
<circle cx="156.1" cy="271.8" r="0.70" fill="#a838e0" opacity="0.28"/>
<circle cx="168.1" cy="124.1" r="1.00" fill="#30d0c0" opacity="0.55"/>
<circle cx="239.5" cy="249.4" r="0.90" fill="#a838e0" opacity="0.45"/>
<circle cx="264.4" cy="285.2" r="1.06" fill="#a838e0" opacity="0.57"/>
<circle cx="222.5" cy="287.2" r="1.05" fill="#a838e0" opacity="0.64"/>
<circle cx="205.4" cy="277.5" r="0.80" fill="#30d0c0" opacity="0.56"/>
<circle cx="77.5" cy="190.7" r="0.61" fill="#a838e0" opacity="0.38"/>
<circle cx="110.6" cy="313.7" r="0.77" fill="#30d0c0" opacity="0.53"/>
<circle cx="142.9" cy="325.0" r="0.95" fill="#30d0c0" opacity="0.58"/>
<circle cx="263.9" cy="125.7" r="0.97" fill="#30d0c0" opacity="0.33"/>
<circle cx="145.3" cy="131.3" r="0.79" fill="#a838e0" opacity="0.25"/>
<circle cx="114.4" cy="305.8" r="0.85" fill="#a838e0" opacity="0.68"/>
<circle cx="179.4" cy="324.0" r="1.00" fill="#30d0c0" opacity="0.24"/>
<circle cx="185.5" cy="275.9" r="1.07" fill="#a838e0" opacity="0.28"/>
<circle cx="159.7" cy="155.5" r="0.91" fill="#a838e0" opacity="0.23"/>
<circle cx="256.8" cy="206.8" r="0.90" fill="#a838e0" opacity="0.38"/>
<circle cx="121.6" cy="254.6" r="0.74" fill="#a838e0" opacity="0.56"/>
<circle cx="123.7" cy="123.9" r="0.62" fill="#a838e0" opacity="0.28"/>
<circle cx="217.7" cy="200.6" r="0.97" fill="#30d0c0" opacity="0.23"/>
<circle cx="265.7" cy="313.7" r="1.05" fill="#a838e0" opacity="0.41"/>
<circle cx="160.9" cy="319.5" r="0.86" fill="#a838e0" opacity="0.67"/>
<circle cx="211.2" cy="216.5" r="1.01" fill="#30d0c0" opacity="0.50"/>
<circle cx="86.6" cy="248.3" r="0.70" fill="#a838e0" opacity="0.23"/>
<circle cx="171.3" cy="146.4" r="0.93" fill="#a838e0" opacity="0.43"/>
<circle cx="116.7" cy="239.8" r="0.99" fill="#a838e0" opacity="0.47"/>
<circle cx="267.5" cy="315.3" r="0.72" fill="#30d0c0" opacity="0.26"/>
<circle cx="246.0" cy="281.0" r="0.78" fill="#30d0c0" opacity="0.34"/>
<circle cx="217.4" cy="159.7" r="1.09" fill="#a838e0" opacity="0.66"/>
<circle cx="243.1" cy="129.1" r="0.74" fill="#a838e0" opacity="0.41"/>
<circle cx="190.8" cy="141.9" r="0.64" fill="#a838e0" opacity="0.24"/>
<circle cx="192.4" cy="197.1" r="0.71" fill="#a838e0" opacity="0.37"/>
<circle cx="215.7" cy="292.1" r="0.66" fill="#a838e0" opacity="0.60"/>
<circle cx="190.9" cy="277.8" r="0.81" fill="#a838e0" opacity="0.33"/>
<circle cx="229.0" cy="196.3" r="1.09" fill="#30d0c0" opacity="0.36"/>
<circle cx="175.5" cy="273.2" r="0.81" fill="#30d0c0" opacity="0.38"/>
<circle cx="82.9" cy="299.5" r="0.64" fill="#a838e0" opacity="0.48"/>
<circle cx="124.3" cy="279.2" r="0.71" fill="#a838e0" opacity="0.53"/>
<circle cx="79.8" cy="183.0" r="0.95" fill="#30d0c0" opacity="0.34"/>
<circle cx="92.3" cy="194.0" r="0.78" fill="#30d0c0" opacity="0.26"/>
<circle cx="251.3" cy="312.7" r="0.82" fill="#30d0c0" opacity="0.60"/>
<circle cx="125.5" cy="185.8" r="1.07" fill="#a838e0" opacity="0.65"/>
<circle cx="113.9" cy="194.8" r="0.78" fill="#a838e0" opacity="0.40"/>
<circle cx="142.5" cy="160.8" r="1.00" fill="#a838e0" opacity="0.47"/>
<circle cx="234.5" cy="235.8" r="0.98" fill="#a838e0" opacity="0.64"/>
<circle cx="120.7" cy="125.5" r="0.87" fill="#a838e0" opacity="0.48"/>
<circle cx="261.1" cy="253.8" r="0.63" fill="#30d0c0" opacity="0.47"/>
<circle cx="224.6" cy="138.1" r="0.97" fill="#a838e0" opacity="0.65"/>
<circle cx="80.4" cy="250.4" r="0.97" fill="#a838e0" opacity="0.52"/>
<circle cx="113.3" cy="166.0" r="0.86" fill="#30d0c0" opacity="0.58"/>
<circle cx="143.8" cy="189.9" r="0.94" fill="#30d0c0" opacity="0.45"/>
<circle cx="173.2" cy="268.1" r="1.06" fill="#30d0c0" opacity="0.41"/>
<circle cx="232.4" cy="257.0" r="1.00" fill="#30d0c0" opacity="0.62"/>
<circle cx="245.2" cy="316.4" r="0.86" fill="#30d0c0" opacity="0.56"/>
<circle cx="227.5" cy="207.0" r="0.67" fill="#a838e0" opacity="0.57"/>
<circle cx="266.2" cy="197.6" r="0.70" fill="#a838e0" opacity="0.41"/>
<circle cx="122.9" cy="318.8" r="0.75" fill="#a838e0" opacity="0.26"/>
<circle cx="195.8" cy="279.3" r="0.63" fill="#a838e0" opacity="0.43"/>
<circle cx="182.7" cy="306.5" r="0.65" fill="#a838e0" opacity="0.29"/>
<circle cx="107.6" cy="169.0" r="0.90" fill="#30d0c0" opacity="0.31"/>
<circle cx="100.9" cy="178.3" r="0.98" fill="#a838e0" opacity="0.36"/>
<circle cx="175.4" cy="287.7" r="0.73" fill="#a838e0" opacity="0.64"/>
<circle cx="250.4" cy="190.8" r="1.08" fill="#a838e0" opacity="0.44"/>
<circle cx="108.3" cy="131.1" r="1.00" fill="#30d0c0" opacity="0.39"/>
<circle cx="119.3" cy="323.0" r="0.72" fill="#30d0c0" opacity="0.21"/>
<circle cx="159.9" cy="196.8" r="0.96" fill="#30d0c0" opacity="0.50"/>
<circle cx="95.2" cy="153.0" r="0.73" fill="#a838e0" opacity="0.63"/>
<circle cx="266.6" cy="175.4" r="0.68" fill="#a838e0" opacity="0.59"/>
<circle cx="63.3" cy="288.6" r="1.01" fill="#30d0c0" opacity="0.24"/>
<circle cx="118.3" cy="267.2" r="0.84" fill="#a838e0" opacity="0.43"/>
<circle cx="258.9" cy="240.7" r="0.75" fill="#30d0c0" opacity="0.59"/>
<circle cx="148.5" cy="308.0" r="1.01" fill="#a838e0" opacity="0.30"/>
<circle cx="95.3" cy="290.7" r="0.76" fill="#a838e0" opacity="0.24"/>
<circle cx="125.7" cy="216.3" r="0.78" fill="#30d0c0" opacity="0.54"/>
<circle cx="84.7" cy="201.4" r="1.08" fill="#a838e0" opacity="0.61"/>
<circle cx="197.1" cy="123.5" r="0.96" fill="#a838e0" opacity="0.32"/>
<circle cx="65.1" cy="323.3" r="0.70" fill="#30d0c0" opacity="0.51"/>
<circle cx="122.5" cy="197.7" r="0.75" fill="#a838e0" opacity="0.37"/>
<circle cx="143.4" cy="257.0" r="0.70" fill="#a838e0" opacity="0.57"/>
<circle cx="130.5" cy="313.8" r="0.96" fill="#a838e0" opacity="0.37"/>
<circle cx="232.5" cy="139.8" r="0.65" fill="#a838e0" opacity="0.54"/>
<circle cx="208.2" cy="157.7" r="1.02" fill="#a838e0" opacity="0.50"/>
<circle cx="81.5" cy="167.2" r="0.66" fill="#a838e0" opacity="0.40"/>
<circle cx="77.9" cy="308.8" r="0.86" fill="#a838e0" opacity="0.52"/>
<circle cx="220.2" cy="288.5" r="0.77" fill="#a838e0" opacity="0.41"/>
<circle cx="66.2" cy="202.7" r="1.09" fill="#30d0c0" opacity="0.59"/>
<circle cx="66.8" cy="188.5" r="0.93" fill="#a838e0" opacity="0.25"/>
<circle cx="140.4" cy="224.9" r="1.01" fill="#30d0c0" opacity="0.51"/>
<circle cx="95.5" cy="277.4" r="0.87" fill="#30d0c0" opacity="0.38"/>
<circle cx="165.6" cy="149.9" r="1.09" fill="#30d0c0" opacity="0.46"/>
<circle cx="209.7" cy="291.4" r="1.07" fill="#a838e0" opacity="0.51"/>
<circle cx="103.6" cy="138.0" r="0.89" fill="#a838e0" opacity="0.55"/>
<circle cx="130.5" cy="310.5" r="0.83" fill="#a838e0" opacity="0.26"/>
<circle cx="262.6" cy="148.7" r="0.87" fill="#30d0c0" opacity="0.48"/>
<circle cx="177.9" cy="174.9" r="1.10" fill="#30d0c0" opacity="0.61"/>
<circle cx="186.3" cy="146.0" r="0.74" fill="#30d0c0" opacity="0.65"/>
<circle cx="112.4" cy="238.0" r="0.69" fill="#30d0c0" opacity="0.47"/>
<circle cx="78.6" cy="127.5" r="1.09" fill="#a838e0" opacity="0.67"/>
<circle cx="198.0" cy="183.8" r="0.97" fill="#30d0c0" opacity="0.39"/>
<circle cx="184.3" cy="285.0" r="0.70" fill="#a838e0" opacity="0.43"/>
<circle cx="92.3" cy="199.8" r="0.69" fill="#a838e0" opacity="0.46"/>
<circle cx="117.0" cy="236.9" r="0.92" fill="#a838e0" opacity="0.22"/>
<circle cx="200.6" cy="150.5" r="0.90" fill="#30d0c0" opacity="0.43"/>
<circle cx="147.3" cy="248.3" r="0.98" fill="#30d0c0" opacity="0.58"/>
<circle cx="162.6" cy="323.9" r="1.03" fill="#30d0c0" opacity="0.40"/>
<circle cx="152.0" cy="236.5" r="0.86" fill="#30d0c0" opacity="0.46"/>
<circle cx="151.6" cy="305.5" r="0.63" fill="#a838e0" opacity="0.56"/>
<circle cx="247.5" cy="270.3" r="0.98" fill="#a838e0" opacity="0.35"/>
<circle cx="184.7" cy="135.2" r="0.82" fill="#a838e0" opacity="0.45"/>
<circle cx="144.3" cy="131.6" r="0.86" fill="#30d0c0" opacity="0.32"/>
<circle cx="125.8" cy="201.7" r="0.63" fill="#a838e0" opacity="0.66"/>
<circle cx="261.1" cy="256.8" r="0.81" fill="#30d0c0" opacity="0.60"/>
<circle cx="108.5" cy="273.3" r="1.05" fill="#a838e0" opacity="0.25"/>
<circle cx="225.4" cy="146.3" r="1.08" fill="#a838e0" opacity="0.20"/>
<circle cx="113.0" cy="182.1" r="0.63" fill="#a838e0" opacity="0.65"/>
<circle cx="230.2" cy="202.0" r="0.89" fill="#a838e0" opacity="0.22"/>
<circle cx="69.4" cy="304.3" r="0.85" fill="#a838e0" opacity="0.67"/>
<circle cx="263.3" cy="217.4" r="0.75" fill="#a838e0" opacity="0.66"/>
<circle cx="246.8" cy="160.9" r="0.78" fill="#30d0c0" opacity="0.44"/>
<circle cx="98.2" cy="300.5" r="0.70" fill="#30d0c0" opacity="0.52"/>
<circle cx="102.3" cy="300.6" r="0.65" fill="#a838e0" opacity="0.56"/>
<circle cx="127.2" cy="304.7" r="0.96" fill="#30d0c0" opacity="0.27"/>
<circle cx="205.7" cy="312.3" r="0.64" fill="#a838e0" opacity="0.31"/>
<circle cx="126.0" cy="265.9" r="0.69" fill="#a838e0" opacity="0.32"/>
<circle cx="199.2" cy="282.3" r="0.93" fill="#a838e0" opacity="0.64"/>
<circle cx="183.9" cy="167.7" r="1.06" fill="#a838e0" opacity="0.53"/>
<circle cx="119.8" cy="251.5" r="1.09" fill="#a838e0" opacity="0.42"/>
<circle cx="72.3" cy="243.3" r="0.73" fill="#a838e0" opacity="0.60"/>
<circle cx="80.9" cy="179.2" r="0.72" fill="#30d0c0" opacity="0.34"/>
<circle cx="175.4" cy="159.0" r="1.09" fill="#30d0c0" opacity="0.22"/>
<circle cx="157.6" cy="274.1" r="1.06" fill="#a838e0" opacity="0.45"/>
<circle cx="99.9" cy="234.4" r="0.78" fill="#30d0c0" opacity="0.53"/>
<circle cx="223.5" cy="226.4" r="1.02" fill="#a838e0" opacity="0.54"/>
<circle cx="169.7" cy="315.1" r="0.99" fill="#a838e0" opacity="0.28"/>
<circle cx="187.7" cy="169.0" r="0.99" fill="#a838e0" opacity="0.59"/>
<circle cx="225.2" cy="169.1" r="0.71" fill="#a838e0" opacity="0.49"/>
<circle cx="165.3" cy="128.2" r="0.96" fill="#a838e0" opacity="0.49"/>
<circle cx="241.9" cy="157.7" r="0.61" fill="#a838e0" opacity="0.45"/>
<circle cx="152.1" cy="211.1" r="1.00" fill="#a838e0" opacity="0.24"/>
<circle cx="249.0" cy="237.1" r="1.00" fill="#a838e0" opacity="0.32"/>
<circle cx="93.0" cy="184.4" r="0.76" fill="#a838e0" opacity="0.51"/>
<circle cx="170.7" cy="175.0" r="0.64" fill="#a838e0" opacity="0.61"/>
<circle cx="98.2" cy="173.0" r="0.95" fill="#a838e0" opacity="0.62"/>
<circle cx="224.3" cy="133.5" r="0.78" fill="#a838e0" opacity="0.31"/>
<circle cx="262.0" cy="129.6" r="0.98" fill="#a838e0" opacity="0.69"/>
<circle cx="92.6" cy="213.9" r="0.62" fill="#30d0c0" opacity="0.32"/>
<circle cx="245.5" cy="149.9" r="0.75" fill="#a838e0" opacity="0.41"/>
<circle cx="78.7" cy="128.0" r="0.98" fill="#30d0c0" opacity="0.57"/>
<circle cx="110.1" cy="172.7" r="0.72" fill="#a838e0" opacity="0.43"/>
<circle cx="254.2" cy="195.3" r="1.09" fill="#a838e0" opacity="0.51"/>
</g>
<circle cx="187.2" cy="136.0" r="1.05" fill="#40e0d8" opacity="0.8" filter="url(#bl0)"/>
<circle cx="236.8" cy="128.9" r="1.05" fill="#40e0d8" opacity="0.8" filter="url(#bl0)"/>
<circle cx="199.4" cy="142.7" r="1.05" fill="#40e0d8" opacity="0.8" filter="url(#bl0)"/>
<circle cx="143.8" cy="142.7" r="1.05" fill="#40e0d8" opacity="0.8" filter="url(#bl0)"/>
<circle cx="86.6" cy="142.7" r="1.05" fill="#40e0d8" opacity="0.8" filter="url(#bl0)"/>
<circle cx="102.4" cy="172.2" r="1.05" fill="#40e0d8" opacity="0.8" filter="url(#bl0)"/>
<circle cx="126.1" cy="160.4" r="1.05" fill="#40e0d8" opacity="0.8" filter="url(#bl0)"/>
<circle cx="193.9" cy="169.1" r="1.05" fill="#40e0d8" opacity="0.8" filter="url(#bl0)"/>
<circle cx="245.5" cy="171.5" r="1.05" fill="#40e0d8" opacity="0.8" filter="url(#bl0)"/>
<circle cx="227.8" cy="165.1" r="1.05" fill="#40e0d8" opacity="0.8" filter="url(#bl0)"/>
<circle cx="155.6" cy="182.1" r="1.05" fill="#40e0d8" opacity="0.8" filter="url(#bl0)"/>
<circle cx="146.6" cy="195.9" r="1.05" fill="#40e0d8" opacity="0.8" filter="url(#bl0)"/>
<circle cx="146.6" cy="225.1" r="1.05" fill="#40e0d8" opacity="0.8" filter="url(#bl0)"/>
<circle cx="209.6" cy="203.8" r="1.05" fill="#40e0d8" opacity="0.8" filter="url(#bl0)"/>
<circle cx="224.6" cy="212.4" r="1.05" fill="#40e0d8" opacity="0.8" filter="url(#bl0)"/>
<circle cx="240.4" cy="199.8" r="1.05" fill="#40e0d8" opacity="0.8" filter="url(#bl0)"/>
<circle cx="251.4" cy="195.9" r="1.05" fill="#40e0d8" opacity="0.8" filter="url(#bl0)"/>
<circle cx="260.1" cy="215.6" r="1.05" fill="#40e0d8" opacity="0.8" filter="url(#bl0)"/>
<circle cx="119.4" cy="238.5" r="1.05" fill="#40e0d8" opacity="0.8" filter="url(#bl0)"/>
<circle cx="97.7" cy="263.7" r="1.05" fill="#40e0d8" opacity="0.8" filter="url(#bl0)"/>
<circle cx="118.2" cy="260.9" r="1.05" fill="#40e0d8" opacity="0.8" filter="url(#bl0)"/>
<circle cx="222.6" cy="249.1" r="1.05" fill="#40e0d8" opacity="0.8" filter="url(#bl0)"/>
<circle cx="218.7" cy="257.0" r="1.05" fill="#40e0d8" opacity="0.8" filter="url(#bl0)"/>
<circle cx="234.5" cy="270.8" r="1.05" fill="#40e0d8" opacity="0.8" filter="url(#bl0)"/>
<circle cx="248.3" cy="247.1" r="1.05" fill="#40e0d8" opacity="0.8" filter="url(#bl0)"/>
<circle cx="257.7" cy="278.7" r="1.05" fill="#40e0d8" opacity="0.8" filter="url(#bl0)"/>
<circle cx="193.1" cy="290.5" r="1.05" fill="#40e0d8" opacity="0.8" filter="url(#bl0)"/>
<circle cx="248.3" cy="302.3" r="1.05" fill="#40e0d8" opacity="0.8" filter="url(#bl0)"/>
<circle cx="224.6" cy="290.5" r="1.05" fill="#40e0d8" opacity="0.8" filter="url(#bl0)"/>
<circle cx="78.0" cy="202.2" r="1.05" fill="#40e0d8" opacity="0.8" filter="url(#bl0)"/>
<circle cx="133.9" cy="184.1" r="1.05" fill="#40e0d8" opacity="0.8" filter="url(#bl0)"/>
<circle cx="169.4" cy="149.4" r="1.0" fill="#c048f0" opacity="0.9" filter="url(#bl0)"/>
<circle cx="181.2" cy="144.6" r="1.0" fill="#c048f0" opacity="0.9" filter="url(#bl0)"/>
<circle cx="177.3" cy="142.7" r="1.0" fill="#c048f0" opacity="0.9" filter="url(#bl0)"/>
<circle cx="157.6" cy="150.6" r="1.0" fill="#c048f0" opacity="0.9" filter="url(#bl0)"/>
<circle cx="212.8" cy="154.5" r="1.0" fill="#c048f0" opacity="0.9" filter="url(#bl0)"/>
<circle cx="122.1" cy="166.3" r="1.0" fill="#c048f0" opacity="0.9" filter="url(#bl0)"/>
<circle cx="159.6" cy="162.4" r="1.0" fill="#c048f0" opacity="0.9" filter="url(#bl0)"/>
<circle cx="166.3" cy="172.2" r="1.0" fill="#c048f0" opacity="0.9" filter="url(#bl0)"/>
<circle cx="186.4" cy="183.3" r="1.0" fill="#c048f0" opacity="0.9" filter="url(#bl0)"/>
<circle cx="212.8" cy="190.0" r="1.0" fill="#c048f0" opacity="0.9" filter="url(#bl0)"/>
<circle cx="228.5" cy="184.1" r="1.0" fill="#c048f0" opacity="0.9" filter="url(#bl0)"/>
<circle cx="238.4" cy="211.7" r="1.0" fill="#c048f0" opacity="0.9" filter="url(#bl0)"/>
<circle cx="252.2" cy="207.7" r="1.0" fill="#c048f0" opacity="0.9" filter="url(#bl0)"/>
<circle cx="228.5" cy="223.5" r="1.0" fill="#c048f0" opacity="0.9" filter="url(#bl0)"/>
<circle cx="228.5" cy="278.7" r="1.0" fill="#c048f0" opacity="0.9" filter="url(#bl0)"/>
<circle cx="204.9" cy="262.9" r="1.0" fill="#c048f0" opacity="0.9" filter="url(#bl0)"/>
<circle cx="260.1" cy="270.8" r="1.0" fill="#c048f0" opacity="0.9" filter="url(#bl0)"/>
<circle cx="252.2" cy="239.2" r="1.0" fill="#c048f0" opacity="0.9" filter="url(#bl0)"/>
<circle cx="256.1" cy="304.3" r="1.0" fill="#c048f0" opacity="0.9" filter="url(#bl0)"/>
<circle cx="171.4" cy="314.1" r="1.0" fill="#c048f0" opacity="0.9" filter="url(#bl0)"/>
<circle cx="107.1" cy="137.6" r="3.2" fill="#d040ff" opacity="0.5" filter="url(#bl2)"/>
<circle cx="107.1" cy="137.6" r="1.7" fill="#ffd0ff" filter="url(#bl1)"/>
<circle cx="93.7" cy="194.3" r="2.7" fill="#80ffff" opacity="0.5" filter="url(#bl2)"/>
<circle cx="93.7" cy="194.3" r="1.4" fill="#ffffff" filter="url(#bl1)"/>
<circle cx="84.7" cy="246.3" r="2.3" fill="#a0a0ff" opacity="0.5" filter="url(#bl2)"/>
<circle cx="84.7" cy="246.3" r="1.2" fill="#f0f0ff" filter="url(#bl1)"/>
<circle cx="143.8" cy="263.7" r="3.2" fill="#d040ff" opacity="0.5" filter="url(#bl2)"/>
<circle cx="143.8" cy="263.7" r="1.7" fill="#ffe0ff" filter="url(#bl1)"/>
<circle cx="231.7" cy="235.3" r="1.9" fill="#60ffff" opacity="0.5" filter="url(#bl2)"/>
<circle cx="231.7" cy="235.3" r="1.0" fill="#e0ffff" filter="url(#bl1)"/>
<circle cx="251.4" cy="230.6" r="2.1" fill="#60ffff" opacity="0.5" filter="url(#bl2)"/>
<circle cx="251.4" cy="230.6" r="1.1" fill="#c0ffff" filter="url(#bl1)"/>
<circle cx="224.6" cy="254.2" r="1.9" fill="#60ffff" opacity="0.5" filter="url(#bl2)"/>
<circle cx="224.6" cy="254.2" r="1.0" fill="#ffffff" filter="url(#bl1)"/>
<circle cx="150.5" cy="177.4" r="1.9" fill="#60ffff" opacity="0.5" filter="url(#bl2)"/>
<circle cx="150.5" cy="177.4" r="1.0" fill="#c0ffff" filter="url(#bl1)"/>
<circle cx="252.2" cy="259.7" r="1.9" fill="#60ffff" opacity="0.5" filter="url(#bl2)"/>
<circle cx="252.2" cy="259.7" r="1.0" fill="#a0ffff" filter="url(#bl1)"/>
<circle cx="175.0" cy="208.2" r="0.80" fill="#c030f0" opacity="0.9"/>
<circle cx="158.7" cy="213.0" r="0.80" fill="#c030f0" opacity="0.9"/>
<circle cx="188.1" cy="210.4" r="0.80" fill="#c030f0" opacity="0.9"/>
<circle cx="196.2" cy="210.4" r="0.80" fill="#c030f0" opacity="0.9"/>
<circle cx="206.7" cy="209.0" r="0.85" fill="#c030f0" opacity="0.9"/>
<circle cx="202.0" cy="217.9" r="0.80" fill="#c030f0" opacity="0.9"/>
<circle cx="169.8" cy="221.9" r="0.80" fill="#c030f0" opacity="0.9"/>
<circle cx="194.4" cy="223.5" r="0.96" fill="#c030f0" opacity="0.9"/>
<circle cx="190.8" cy="225.3" r="0.74" fill="#c030f0" opacity="0.9"/>
<circle cx="164.0" cy="224.7" r="0.64" fill="#9a30c8" opacity="0.9"/>
<circle cx="170.0" cy="229.7" r="0.90" fill="#c030f0" opacity="0.9"/>
<circle cx="190.3" cy="229.5" r="0.80" fill="#c030f0" opacity="0.9"/>
<circle cx="185.5" cy="230.3" r="0.69" fill="#9a30c8" opacity="0.9"/>
<circle cx="200.8" cy="230.3" r="0.85" fill="#c030f0" opacity="0.9"/>
<circle cx="157.3" cy="233.4" r="0.74" fill="#c030f0" opacity="0.9"/>
<circle cx="179.9" cy="237.8" r="0.69" fill="#c030f0" opacity="0.9"/>
<circle cx="181.3" cy="236.0" r="0.64" fill="#9a30c8" opacity="0.9"/>
<circle cx="190.6" cy="236.6" r="0.69" fill="#c030f0" opacity="0.9"/>
<circle cx="198.4" cy="246.7" r="0.90" fill="#c030f0" opacity="0.9"/>
<circle cx="201.6" cy="249.2" r="0.74" fill="#c030f0" opacity="0.9"/>
<circle cx="206.7" cy="248.5" r="0.69" fill="#9a30c8" opacity="0.9"/>
<circle cx="204.8" cy="252.4" r="0.85" fill="#c030f0" opacity="0.9"/>
<circle cx="181.3" cy="249.5" r="0.74" fill="#c030f0" opacity="0.9"/>
<circle cx="179.5" cy="250.9" r="0.69" fill="#c030f0" opacity="0.9"/>
<circle cx="184.1" cy="243.3" r="0.64" fill="#9a30c8" opacity="0.9"/>
<circle cx="160.2" cy="240.9" r="0.64" fill="#9a30c8" opacity="0.9"/>
<circle cx="165.2" cy="250.7" r="0.64" fill="#9a30c8" opacity="0.9"/>
<circle cx="164.1" cy="259.9" r="0.80" fill="#c030f0" opacity="0.9"/>
<circle cx="180.2" cy="257.3" r="0.74" fill="#c030f0" opacity="0.9"/>
<circle cx="179.5" cy="219.9" r="1.12" fill="#30f0e0" opacity="0.9"/>
<circle cx="190.5" cy="243.3" r="0.80" fill="#30e0c8" opacity="0.9"/>
<circle cx="204.6" cy="245.9" r="0.74" fill="#30e0c8" opacity="0.9"/>
<circle cx="182.5" cy="259.9" r="1.06" fill="#80fff0" opacity="0.9"/>
<circle cx="167.4" cy="231.5" r="2.4" fill="#ee30ff" opacity="0.5" filter="url(#bl2)"/>
<circle cx="167.4" cy="231.5" r="1.4" fill="#ffa8ff" filter="url(#bl1)"/>
<circle cx="168.2" cy="236.0" r="2.6" fill="#e040ff" opacity="0.5" filter="url(#bl2)"/>
<circle cx="168.2" cy="236.0" r="1.4" fill="#ffe8ff" filter="url(#bl1)"/>
<circle cx="200.4" cy="233.8" r="3.6" fill="#c0ffff" opacity="0.5" filter="url(#bl2)"/>
<circle cx="200.4" cy="233.8" r="2.0" fill="#ffffff" filter="url(#bl1)"/>
<circle cx="203.9" cy="248.8" r="1.6" fill="#c040ff" opacity="0.5" filter="url(#bl2)"/>
<circle cx="203.9" cy="248.8" r="0.9" fill="#ffc0ff" filter="url(#bl1)"/>
</g>
<line x1="233" y1="314" x2="253" y2="314" stroke="#e0a030" stroke-width="1.3"/>
<rect x="156.6" y="207.2" width="54" height="53.8" fill="none" stroke="#e8a83c" stroke-width="1.2"/>
<line x1="2" y1="263" x2="156.6" y2="207.2" stroke="#e8a83c" stroke-width="1.1"/>
<line x1="124.4" y1="385.2" x2="210.6" y2="261" stroke="#e8a83c" stroke-width="1.1"/>
<rect x="2" y="263" width="122.4" height="122.2" fill="url(#bgI)"/>
<rect x="2" y="263" width="122.4" height="122.2" filter="url(#grain)"/>
<g clip-path="url(#clipI)">
<circle cx="78.0" cy="353.5" r="1.18" fill="#28b8a8" opacity="0.42" filter="url(#bl1)"/>
<circle cx="114.5" cy="266.5" r="1.18" fill="#9038c8" opacity="0.39" filter="url(#bl1)"/>
<circle cx="111.9" cy="276.8" r="0.90" fill="#9038c8" opacity="0.36" filter="url(#bl1)"/>
<circle cx="72.0" cy="264.6" r="0.91" fill="#9038c8" opacity="0.47" filter="url(#bl1)"/>
<circle cx="95.4" cy="282.5" r="0.86" fill="#28b8a8" opacity="0.39" filter="url(#bl1)"/>
<circle cx="17.5" cy="263.2" r="0.88" fill="#28b8a8" opacity="0.26" filter="url(#bl1)"/>
<circle cx="121.9" cy="369.4" r="1.18" fill="#9038c8" opacity="0.36" filter="url(#bl1)"/>
<circle cx="84.7" cy="288.0" r="1.08" fill="#28b8a8" opacity="0.49" filter="url(#bl1)"/>
<circle cx="111.0" cy="299.5" r="0.87" fill="#9038c8" opacity="0.24" filter="url(#bl1)"/>
<circle cx="9.9" cy="299.8" r="0.80" fill="#28b8a8" opacity="0.40" filter="url(#bl1)"/>
<circle cx="43.2" cy="300.8" r="0.99" fill="#28b8a8" opacity="0.29" filter="url(#bl1)"/>
<circle cx="60.7" cy="349.0" r="1.19" fill="#9038c8" opacity="0.21" filter="url(#bl1)"/>
<circle cx="93.5" cy="366.1" r="1.12" fill="#9038c8" opacity="0.31" filter="url(#bl1)"/>
<circle cx="72.6" cy="264.1" r="0.87" fill="#9038c8" opacity="0.49" filter="url(#bl1)"/>
<circle cx="26.0" cy="355.2" r="1.18" fill="#28b8a8" opacity="0.30" filter="url(#bl1)"/>
<circle cx="45.3" cy="327.0" r="0.84" fill="#28b8a8" opacity="0.42" filter="url(#bl1)"/>
<circle cx="99.3" cy="367.9" r="1.18" fill="#9038c8" opacity="0.23" filter="url(#bl1)"/>
<circle cx="43.6" cy="337.5" r="0.94" fill="#28b8a8" opacity="0.48" filter="url(#bl1)"/>
<circle cx="68.5" cy="301.1" r="0.87" fill="#9038c8" opacity="0.22" filter="url(#bl1)"/>
<circle cx="20.2" cy="347.1" r="0.86" fill="#28b8a8" opacity="0.21" filter="url(#bl1)"/>
<circle cx="122.4" cy="328.1" r="0.89" fill="#9038c8" opacity="0.38" filter="url(#bl1)"/>
<circle cx="102.8" cy="318.6" r="0.82" fill="#9038c8" opacity="0.47" filter="url(#bl1)"/>
<circle cx="6.0" cy="323.2" r="0.85" fill="#28b8a8" opacity="0.42" filter="url(#bl1)"/>
<circle cx="117.9" cy="339.9" r="0.84" fill="#28b8a8" opacity="0.33" filter="url(#bl1)"/>
<circle cx="20.2" cy="366.1" r="0.98" fill="#9038c8" opacity="0.50" filter="url(#bl1)"/>
<circle cx="106.0" cy="382.1" r="1.00" fill="#9038c8" opacity="0.42" filter="url(#bl1)"/>
<circle cx="60.4" cy="298.5" r="0.86" fill="#9038c8" opacity="0.31" filter="url(#bl1)"/>
<circle cx="122.6" cy="380.1" r="1.00" fill="#28b8a8" opacity="0.30" filter="url(#bl1)"/>
<circle cx="12.9" cy="296.2" r="1.15" fill="#28b8a8" opacity="0.31" filter="url(#bl1)"/>
<circle cx="97.9" cy="357.5" r="1.07" fill="#28b8a8" opacity="0.43" filter="url(#bl1)"/>
<circle cx="46.3" cy="348.9" r="0.99" fill="#9038c8" opacity="0.43" filter="url(#bl1)"/>
<circle cx="86.3" cy="298.8" r="1.06" fill="#28b8a8" opacity="0.37" filter="url(#bl1)"/>
<circle cx="3.4" cy="329.7" r="1.07" fill="#9038c8" opacity="0.34" filter="url(#bl1)"/>
<circle cx="101.6" cy="342.0" r="0.94" fill="#28b8a8" opacity="0.39" filter="url(#bl1)"/>
<circle cx="92.0" cy="364.0" r="1.14" fill="#9038c8" opacity="0.46" filter="url(#bl1)"/>
<circle cx="86.0" cy="382.1" r="1.01" fill="#28b8a8" opacity="0.36" filter="url(#bl1)"/>
<circle cx="22.3" cy="365.1" r="0.99" fill="#28b8a8" opacity="0.41" filter="url(#bl1)"/>
<circle cx="89.8" cy="352.1" r="1.11" fill="#9038c8" opacity="0.37" filter="url(#bl1)"/>
<circle cx="83.2" cy="314.3" r="1.11" fill="#28b8a8" opacity="0.39" filter="url(#bl1)"/>
<circle cx="89.9" cy="266.4" r="0.98" fill="#9038c8" opacity="0.40" filter="url(#bl1)"/>
<circle cx="28.7" cy="346.7" r="0.82" fill="#28b8a8" opacity="0.34" filter="url(#bl1)"/>
<circle cx="29.6" cy="269.6" r="0.93" fill="#9038c8" opacity="0.25" filter="url(#bl1)"/>
<circle cx="25.6" cy="267.4" r="0.95" fill="#9038c8" opacity="0.38" filter="url(#bl1)"/>
<circle cx="74.0" cy="292.0" r="0.80" fill="#28b8a8" opacity="0.32" filter="url(#bl1)"/>
<circle cx="36.0" cy="313.0" r="1.13" fill="#9038c8" opacity="0.31" filter="url(#bl1)"/>
<circle cx="43.6" cy="265.3" r="1.5" fill="#c030f0" opacity="0.9" filter="url(#bl1)"/>
<circle cx="6.7" cy="276.1" r="1.5" fill="#c030f0" opacity="0.9" filter="url(#bl1)"/>
<circle cx="73.2" cy="270.2" r="1.5" fill="#c030f0" opacity="0.9" filter="url(#bl1)"/>
<circle cx="91.5" cy="270.2" r="1.5" fill="#c030f0" opacity="0.9" filter="url(#bl1)"/>
<circle cx="115.2" cy="267" r="1.6" fill="#c030f0" opacity="0.9" filter="url(#bl1)"/>
<circle cx="104.5" cy="287.2" r="1.5" fill="#c030f0" opacity="0.9" filter="url(#bl1)"/>
<circle cx="31.8" cy="296.3" r="1.5" fill="#c030f0" opacity="0.9" filter="url(#bl1)"/>
<circle cx="87.5" cy="299.8" r="1.8" fill="#c030f0" opacity="0.9" filter="url(#bl1)"/>
<circle cx="79.4" cy="303.8" r="1.4" fill="#c030f0" opacity="0.9" filter="url(#bl1)"/>
<circle cx="18.8" cy="302.5" r="1.2" fill="#9a30c8" opacity="0.9" filter="url(#bl1)"/>
<circle cx="32.3" cy="313.8" r="1.7" fill="#c030f0" opacity="0.9" filter="url(#bl1)"/>
<circle cx="78.1" cy="313.3" r="1.5" fill="#c030f0" opacity="0.9" filter="url(#bl1)"/>
<circle cx="67.3" cy="315.2" r="1.3" fill="#9a30c8" opacity="0.9" filter="url(#bl1)"/>
<circle cx="101.8" cy="315.2" r="1.6" fill="#c030f0" opacity="0.9" filter="url(#bl1)"/>
<circle cx="3.5" cy="322.2" r="1.4" fill="#c030f0" opacity="0.9" filter="url(#bl1)"/>
<circle cx="54.7" cy="332.1" r="1.3" fill="#c030f0" opacity="0.9" filter="url(#bl1)"/>
<circle cx="57.9" cy="328.1" r="1.2" fill="#9a30c8" opacity="0.9" filter="url(#bl1)"/>
<circle cx="78.9" cy="329.4" r="1.3" fill="#c030f0" opacity="0.9" filter="url(#bl1)"/>
<circle cx="96.4" cy="352.3" r="1.7" fill="#c030f0" opacity="0.9" filter="url(#bl1)"/>
<circle cx="103.7" cy="357.9" r="1.4" fill="#c030f0" opacity="0.9" filter="url(#bl1)"/>
<circle cx="115.2" cy="356.3" r="1.3" fill="#9a30c8" opacity="0.9" filter="url(#bl1)"/>
<circle cx="110.9" cy="365.2" r="1.6" fill="#c030f0" opacity="0.9" filter="url(#bl1)"/>
<circle cx="57.9" cy="358.5" r="1.4" fill="#c030f0" opacity="0.9" filter="url(#bl1)"/>
<circle cx="53.8" cy="361.7" r="1.3" fill="#c030f0" opacity="0.9" filter="url(#bl1)"/>
<circle cx="64.1" cy="344.5" r="1.2" fill="#9a30c8" opacity="0.9" filter="url(#bl1)"/>
<circle cx="10.2" cy="339.1" r="1.2" fill="#9a30c8" opacity="0.9" filter="url(#bl1)"/>
<circle cx="21.5" cy="361.2" r="1.2" fill="#9a30c8" opacity="0.9" filter="url(#bl1)"/>
<circle cx="19" cy="382.2" r="1.5" fill="#c030f0" opacity="0.9" filter="url(#bl1)"/>
<circle cx="55.4" cy="376.3" r="1.4" fill="#c030f0" opacity="0.9" filter="url(#bl1)"/>
<circle cx="53.8" cy="291.7" r="2.1" fill="#30f0e0" opacity="0.9" filter="url(#bl1)"/>
<circle cx="78.6" cy="344.5" r="1.5" fill="#30e0c8" opacity="0.9" filter="url(#bl1)"/>
<circle cx="110.4" cy="350.4" r="1.4" fill="#30e0c8" opacity="0.9" filter="url(#bl1)"/>
<circle cx="60.6" cy="382.2" r="2.0" fill="#80fff0" opacity="0.9" filter="url(#bl1)"/>
<circle cx="27.5" cy="323" r="11" fill="#7050d0" opacity="0.22" filter="url(#bl3)"/>
<circle cx="26.4" cy="317.9" r="4.6" fill="#ee30ff" opacity="0.7" filter="url(#bl2)"/>
<circle cx="26.4" cy="317.9" r="2.7" fill="#ffa8ff" filter="url(#bl1)"/>
<circle cx="28.3" cy="328.1" r="4.9" fill="#e040ff" opacity="0.7" filter="url(#bl2)"/>
<circle cx="28.3" cy="328.1" r="2.9" fill="#ffe8ff" filter="url(#bl1)"/>
<circle cx="101" cy="323.2" r="4.8" fill="#c0ffff" opacity="0.45" filter="url(#bl2)"/>
<circle cx="101" cy="323.2" r="4.0" fill="#ffffff" filter="url(#bl1)"/>
<circle cx="109" cy="357.1" r="3.1" fill="#c040ff" opacity="0.6" filter="url(#bl2)"/>
<circle cx="109" cy="357.1" r="1.8" fill="#ffc0ff" filter="url(#bl1)"/>
</g>
<rect x="2" y="263" width="122.4" height="122.2" fill="none" stroke="#e8a83c" stroke-width="1.15"/>
<text x="76.5" y="365.6" font-size="11" fill="#e0a840">5 µm</text>
<line x1="66.8" y1="369.8" x2="110.9" y2="369.8" stroke="#e0a840" stroke-width="1.4"/>
<text x="-0.5" y="412.6" font-size="16" stroke="#000" stroke-width="0.15">C</text>
<line x1="38.7" y1="405.4" x2="38.7" y2="577.4" stroke="#111" stroke-width="1"/>
<line x1="38.7" y1="577.4" x2="255.2" y2="577.4" stroke="#111" stroke-width="1"/>
<line x1="34.0" y1="577.4" x2="38.7" y2="577.4" stroke="#111" stroke-width="1"/>
<text x="31.7" y="580.4" font-size="8.6" text-anchor="end">0.00</text>
<line x1="34.0" y1="534.4" x2="38.7" y2="534.4" stroke="#111" stroke-width="1"/>
<text x="31.7" y="537.4" font-size="8.6" text-anchor="end">0.05</text>
<line x1="34.0" y1="491.4" x2="38.7" y2="491.4" stroke="#111" stroke-width="1"/>
<text x="31.7" y="494.4" font-size="8.6" text-anchor="end">0.10</text>
<line x1="34.0" y1="448.4" x2="38.7" y2="448.4" stroke="#111" stroke-width="1"/>
<text x="31.7" y="451.4" font-size="8.6" text-anchor="end">0.15</text>
<line x1="34.0" y1="405.4" x2="38.7" y2="405.4" stroke="#111" stroke-width="1"/>
<text x="31.7" y="408.4" font-size="8.6" text-anchor="end">0.20</text>
<line x1="36.2" y1="555.9" x2="38.7" y2="555.9" stroke="#111" stroke-width="1"/>
<line x1="36.2" y1="512.9" x2="38.7" y2="512.9" stroke="#111" stroke-width="1"/>
<line x1="36.2" y1="469.9" x2="38.7" y2="469.9" stroke="#111" stroke-width="1"/>
<line x1="36.2" y1="426.9" x2="38.7" y2="426.9" stroke="#111" stroke-width="1"/>
<line x1="38.7" y1="577.4" x2="38.7" y2="581.4" stroke="#111" stroke-width="1"/>
<text x="38.7" y="591.3" font-size="8.5" text-anchor="middle">0</text>
<line x1="56.7" y1="577.4" x2="56.7" y2="581.4" stroke="#111" stroke-width="1"/>
<text x="56.7" y="591.3" font-size="8.5" text-anchor="middle">10</text>
<line x1="74.7" y1="577.4" x2="74.7" y2="581.4" stroke="#111" stroke-width="1"/>
<text x="74.7" y="591.3" font-size="8.5" text-anchor="middle">20</text>
<line x1="92.7" y1="577.4" x2="92.7" y2="581.4" stroke="#111" stroke-width="1"/>
<text x="92.7" y="591.3" font-size="8.5" text-anchor="middle">30</text>
<line x1="110.7" y1="577.4" x2="110.7" y2="581.4" stroke="#111" stroke-width="1"/>
<text x="110.7" y="591.3" font-size="8.5" text-anchor="middle">40</text>
<line x1="128.7" y1="577.4" x2="128.7" y2="581.4" stroke="#111" stroke-width="1"/>
<text x="128.7" y="591.3" font-size="8.5" text-anchor="middle">50</text>
<line x1="146.7" y1="577.4" x2="146.7" y2="581.4" stroke="#111" stroke-width="1"/>
<text x="146.7" y="591.3" font-size="8.5" text-anchor="middle">60</text>
<line x1="164.7" y1="577.4" x2="164.7" y2="581.4" stroke="#111" stroke-width="1"/>
<text x="164.7" y="591.3" font-size="8.5" text-anchor="middle">70</text>
<line x1="182.7" y1="577.4" x2="182.7" y2="581.4" stroke="#111" stroke-width="1"/>
<text x="182.7" y="591.3" font-size="8.5" text-anchor="middle">80</text>
<line x1="200.7" y1="577.4" x2="200.7" y2="581.4" stroke="#111" stroke-width="1"/>
<text x="200.7" y="591.3" font-size="8.5" text-anchor="middle">90</text>
<line x1="218.7" y1="577.4" x2="218.7" y2="581.4" stroke="#111" stroke-width="1"/>
<text x="218.7" y="591.3" font-size="8.5" text-anchor="middle">100</text>
<line x1="236.7" y1="577.4" x2="236.7" y2="581.4" stroke="#111" stroke-width="1"/>
<text x="236.7" y="591.3" font-size="8.5" text-anchor="middle">110</text>
<line x1="254.7" y1="577.4" x2="254.7" y2="581.4" stroke="#111" stroke-width="1"/>
<text x="254.7" y="591.3" font-size="8.5" text-anchor="middle">120</text>
<text x="147" y="607.5" font-size="10.2" text-anchor="middle">Time (min)</text>
<text transform="translate(11.3,495.8) rotate(-90)" font-size="10.2" text-anchor="middle">Q</text>
<path d="M38.7,552.6 V577.4 M35.900000000000006,552.6 H41.5 M35.900000000000006,577.4 H41.5" stroke="#484848" stroke-width="1.35" fill="none"/>
<path d="M56.7,519.4 V548 M53.900000000000006,519.4 H59.5 M53.900000000000006,548 H59.5" stroke="#484848" stroke-width="1.35" fill="none"/>
<path d="M74.7,503.9 V523.5 M71.9,503.9 H77.5 M71.9,523.5 H77.5" stroke="#484848" stroke-width="1.35" fill="none"/>
<path d="M92.7,472 V534 M89.9,472 H95.5 M89.9,534 H95.5" stroke="#484848" stroke-width="1.35" fill="none"/>
<path d="M110.7,405.9 V503.3 M107.9,405.9 H113.5 M107.9,503.3 H113.5" stroke="#484848" stroke-width="1.35" fill="none"/>
<path d="M128.7,455.3 V487.8 M125.89999999999999,455.3 H131.5 M125.89999999999999,487.8 H131.5" stroke="#484848" stroke-width="1.35" fill="none"/>
<path d="M146.7,473.8 V522.3 M143.89999999999998,473.8 H149.5 M143.89999999999998,522.3 H149.5" stroke="#484848" stroke-width="1.35" fill="none"/>
<path d="M164.7,481.9 V525.1 M161.89999999999998,481.9 H167.5 M161.89999999999998,525.1 H167.5" stroke="#484848" stroke-width="1.35" fill="none"/>
<path d="M182.7,498.8 V536.9 M179.89999999999998,498.8 H185.5 M179.89999999999998,536.9 H185.5" stroke="#484848" stroke-width="1.35" fill="none"/>
<path d="M200.7,522.8 V555.1 M197.89999999999998,522.8 H203.5 M197.89999999999998,555.1 H203.5" stroke="#484848" stroke-width="1.35" fill="none"/>
<path d="M218.7,514.9 V561.1 M215.89999999999998,514.9 H221.5 M215.89999999999998,561.1 H221.5" stroke="#484848" stroke-width="1.35" fill="none"/>
<path d="M236.7,533.8 V565.5 M233.89999999999998,533.8 H239.5 M233.89999999999998,565.5 H239.5" stroke="#484848" stroke-width="1.35" fill="none"/>
<path d="M254.7,548.2 V568.5 M251.89999999999998,548.2 H257.5 M251.89999999999998,568.5 H257.5" stroke="#484848" stroke-width="1.35" fill="none"/>
<path d="M38.7,565.2 L56.7,533.7 L74.7,513.5 L92.7,503 L110.7,455.2 L128.7,471.7 L146.7,498.1 L164.7,503.2 L182.7,517.7 L200.7,539.2 L218.7,538.5 L236.7,549.5 L254.7,558.3" stroke="#8a0a92" stroke-width="1.4" fill="none"/>
<circle cx="38.7" cy="565.2" r="2.9" fill="#7f0a88"/>
<circle cx="56.7" cy="533.7" r="2.9" fill="#7f0a88"/>
<circle cx="74.7" cy="513.5" r="2.9" fill="#7f0a88"/>
<circle cx="92.7" cy="503" r="2.9" fill="#7f0a88"/>
<circle cx="110.7" cy="455.2" r="2.9" fill="#7f0a88"/>
<circle cx="128.7" cy="471.7" r="2.9" fill="#7f0a88"/>
<circle cx="146.7" cy="498.1" r="2.9" fill="#7f0a88"/>
<circle cx="164.7" cy="503.2" r="2.9" fill="#7f0a88"/>
<circle cx="182.7" cy="517.7" r="2.9" fill="#7f0a88"/>
<circle cx="200.7" cy="539.2" r="2.9" fill="#7f0a88"/>
<circle cx="218.7" cy="538.5" r="2.9" fill="#7f0a88"/>
<circle cx="236.7" cy="549.5" r="2.9" fill="#7f0a88"/>
<circle cx="254.7" cy="558.3" r="2.9" fill="#7f0a88"/>
<text x="283.6" y="10.6" font-size="14.8" stroke="#000" stroke-width="0.15">D</text>
<defs>
<clipPath id="cp0"><rect x="320.3" y="1.4" width="167.5" height="39.2"/></clipPath>
<clipPath id="cp1"><rect x="320.3" y="47.129999999999995" width="167.5" height="39.2"/></clipPath>
<clipPath id="cp2"><rect x="320.3" y="92.86" width="167.5" height="39.2"/></clipPath>
<clipPath id="cp3"><rect x="320.3" y="138.59" width="167.5" height="39.2"/></clipPath>
<clipPath id="cp4"><rect x="320.3" y="184.32" width="167.5" height="39.2"/></clipPath>
<clipPath id="cp5"><rect x="320.3" y="230.04999999999998" width="167.5" height="39.2"/></clipPath>
<clipPath id="cp6"><rect x="320.3" y="275.78" width="167.5" height="39.2"/></clipPath>
<clipPath id="cp7"><rect x="320.3" y="321.50999999999993" width="167.5" height="39.2"/></clipPath>
<clipPath id="cp8"><rect x="320.3" y="367.23999999999995" width="167.5" height="39.2"/></clipPath>
<clipPath id="cp9"><rect x="320.3" y="412.96999999999997" width="167.5" height="39.2"/></clipPath>
<clipPath id="cp10"><rect x="320.3" y="458.69999999999993" width="167.5" height="39.2"/></clipPath>
<clipPath id="cp11"><rect x="320.3" y="504.42999999999995" width="167.5" height="39.2"/></clipPath>
<clipPath id="cp12"><rect x="320.3" y="550.16" width="167.5" height="39.2"/></clipPath>
</defs>
<rect x="320.3" y="1.4" width="167.5" height="39.2" fill="#fff"/>
<line x1="328.00" y1="1.4" x2="328.00" y2="40.6" stroke="#e6e6e6" stroke-width="1"/>
<line x1="356.50" y1="1.4" x2="356.50" y2="40.6" stroke="#f1f1f1" stroke-width="0.7"/>
<line x1="385.00" y1="1.4" x2="385.00" y2="40.6" stroke="#e6e6e6" stroke-width="1"/>
<line x1="413.50" y1="1.4" x2="413.50" y2="40.6" stroke="#f1f1f1" stroke-width="0.7"/>
<line x1="442.00" y1="1.4" x2="442.00" y2="40.6" stroke="#e6e6e6" stroke-width="1"/>
<line x1="470.50" y1="1.4" x2="470.50" y2="40.6" stroke="#f1f1f1" stroke-width="0.7"/>
<line x1="320.3" y1="3.70" x2="487.8" y2="3.70" stroke="#e6e6e6" stroke-width="1"/>
<line x1="320.3" y1="10.10" x2="487.8" y2="10.10" stroke="#f1f1f1" stroke-width="0.7"/>
<line x1="320.3" y1="16.50" x2="487.8" y2="16.50" stroke="#e6e6e6" stroke-width="1"/>
<line x1="320.3" y1="22.90" x2="487.8" y2="22.90" stroke="#f1f1f1" stroke-width="0.7"/>
<line x1="320.3" y1="29.30" x2="487.8" y2="29.30" stroke="#e6e6e6" stroke-width="1"/>
<line x1="320.3" y1="35.70" x2="487.8" y2="35.70" stroke="#f1f1f1" stroke-width="0.7"/>
<g clip-path="url(#cp0)">
<rect x="335.72" y="18.50" width="3.16" height="23.10" fill="#440154"/>
<rect x="336.85" y="22.08" width="0.9" height="18.52" fill="#fff" opacity="0.36"/>
<path d="M337.30,19.00 V16.68 M335.95,16.68 H338.65" stroke="#440154" stroke-width="1" fill="none"/>
<rect x="338.88" y="18.22" width="3.16" height="23.38" fill="#440154"/>
<rect x="340.01" y="21.25" width="0.9" height="19.35" fill="#fff" opacity="0.36"/>
<path d="M340.46,18.72 V16.29 M339.11,16.29 H341.81" stroke="#440154" stroke-width="1" fill="none"/>
<rect x="342.04" y="20.06" width="3.16" height="21.54" fill="#440154"/>
<rect x="343.17" y="22.58" width="0.9" height="18.02" fill="#fff" opacity="0.36"/>
<path d="M343.62,20.56 V19.05 M342.27,19.05 H344.97" stroke="#440154" stroke-width="1" fill="none"/>
<rect x="345.20" y="21.56" width="3.16" height="20.04" fill="#440154"/>
<rect x="346.33" y="25.16" width="0.9" height="15.44" fill="#fff" opacity="0.36"/>
<path d="M346.78,22.06 V19.24 M345.43,19.24 H348.13" stroke="#440154" stroke-width="1" fill="none"/>
<rect x="348.36" y="24.52" width="3.16" height="17.08" fill="#440154"/>
<rect x="349.49" y="27.02" width="0.9" height="13.58" fill="#fff" opacity="0.36"/>
<path d="M349.94,25.02 V23.22 M348.59,23.22 H351.29" stroke="#440154" stroke-width="1" fill="none"/>
<rect x="351.52" y="27.68" width="3.16" height="13.92" fill="#440154"/>
<rect x="352.65" y="31.05" width="0.9" height="9.55" fill="#fff" opacity="0.36"/>
<path d="M353.10,28.18 V25.98 M351.75,25.98 H354.45" stroke="#440154" stroke-width="1" fill="none"/>
<rect x="354.68" y="29.54" width="3.16" height="12.06" fill="#440154"/>
<rect x="355.81" y="32.92" width="0.9" height="7.68" fill="#fff" opacity="0.36"/>
<path d="M356.26,30.04 V27.83 M354.91,27.83 H357.61" stroke="#440154" stroke-width="1" fill="none"/>
<rect x="357.84" y="31.27" width="3.16" height="10.33" fill="#440154"/>
<rect x="358.97" y="34.53" width="0.9" height="6.07" fill="#fff" opacity="0.36"/>
<path d="M359.42,31.77 V30.11 M358.07,30.11 H360.77" stroke="#440154" stroke-width="1" fill="none"/>
<rect x="361.00" y="32.36" width="3.16" height="9.24" fill="#440154"/>
<rect x="362.13" y="35.24" width="0.9" height="5.36" fill="#fff" opacity="0.36"/>
<path d="M362.58,32.86 V29.98 M361.23,29.98 H363.93" stroke="#440154" stroke-width="1" fill="none"/>
<rect x="364.16" y="33.26" width="3.16" height="8.34" fill="#440154"/>
<rect x="365.29" y="35.83" width="0.9" height="4.77" fill="#fff" opacity="0.36"/>
<path d="M365.74,33.76 V31.10 M364.39,31.10 H367.09" stroke="#440154" stroke-width="1" fill="none"/>
<rect x="367.32" y="34.50" width="3.16" height="7.10" fill="#440154"/>
<rect x="368.45" y="36.64" width="0.9" height="3.96" fill="#fff" opacity="0.36"/>
<path d="M368.90,35.00 V33.49 M367.55,33.49 H370.25" stroke="#440154" stroke-width="1" fill="none"/>
<rect x="370.48" y="34.66" width="3.16" height="6.94" fill="#440154"/>
<rect x="371.61" y="36.74" width="0.9" height="3.86" fill="#fff" opacity="0.36"/>
<path d="M372.06,35.16 V32.76 M370.71,32.76 H373.41" stroke="#440154" stroke-width="1" fill="none"/>
<rect x="373.64" y="34.29" width="3.16" height="7.31" fill="#440154"/>
<rect x="374.77" y="36.50" width="0.9" height="4.10" fill="#fff" opacity="0.36"/>
<path d="M375.22,34.79 V33.33 M373.87,33.33 H376.57" stroke="#440154" stroke-width="1" fill="none"/>
<rect x="376.80" y="35.72" width="3.16" height="5.88" fill="#440154"/>
<rect x="377.93" y="37.43" width="0.9" height="3.17" fill="#fff" opacity="0.36"/>
<path d="M378.38,36.22 V34.02 M377.03,34.02 H379.73" stroke="#440154" stroke-width="1" fill="none"/>
<rect x="379.96" y="36.33" width="3.16" height="5.27" fill="#440154"/>
<rect x="381.09" y="37.82" width="0.9" height="2.78" fill="#fff" opacity="0.36"/>
<path d="M381.54,36.83 V33.93 M380.19,33.93 H382.89" stroke="#440154" stroke-width="1" fill="none"/>
<rect x="383.12" y="37.30" width="3.16" height="4.30" fill="#440154"/>
<rect x="384.25" y="38.45" width="0.9" height="2.15" fill="#fff" opacity="0.36"/>
<path d="M384.70,37.80 V34.83 M383.35,34.83 H386.05" stroke="#440154" stroke-width="1" fill="none"/>
<rect x="386.28" y="38.14" width="3.16" height="3.46" fill="#440154"/>
<path d="M387.86,38.64 V35.88 M386.51,35.88 H389.21" stroke="#440154" stroke-width="1" fill="none"/>
<rect x="389.44" y="38.82" width="3.16" height="2.78" fill="#440154"/>
<path d="M391.02,39.32 V36.32 M389.67,36.32 H392.37" stroke="#440154" stroke-width="1" fill="none"/>
<rect x="392.60" y="39.82" width="3.16" height="1.78" fill="#440154"/>
<path d="M394.18,40.32 V38.76 M392.83,38.76 H395.53" stroke="#440154" stroke-width="1" fill="none"/>
<rect x="395.76" y="39.23" width="3.16" height="2.37" fill="#440154"/>
<path d="M397.34,39.73 V37.97 M395.99,37.97 H398.69" stroke="#440154" stroke-width="1" fill="none"/>
<rect x="410.90" y="37.60" width="3.16" height="4.00" fill="#440154"/>
<path d="M412.48,38.10 V35.73 M411.13,35.73 H413.83" stroke="#440154" stroke-width="1" fill="none"/>
<rect x="422.01" y="39.60" width="3.16" height="2.00" fill="#440154"/>
<rect x="430.51" y="39.60" width="3.16" height="2.00" fill="#440154"/>
<rect x="437.37" y="39.60" width="3.16" height="2.00" fill="#440154"/>
<rect x="443.58" y="39.60" width="3.16" height="2.00" fill="#440154"/>
<rect x="456.00" y="39.60" width="3.16" height="2.00" fill="#440154"/>
</g>
<rect x="320.3" y="1.4" width="167.5" height="39.2" fill="none" stroke="#7a7a7a" stroke-width="0.9"/>
<line x1="487.8" y1="0.9999999999999999" x2="487.8" y2="41.0" stroke="#555" stroke-width="1.3"/>
<rect x="488.40000000000003" y="1.4" width="16.80" height="39.2" fill="#fff" stroke="#8a8a8a" stroke-width="0.8"/>
<text transform="translate(493.6,21.00) rotate(90)" font-size="9.2" text-anchor="middle" fill="#1a1a1a">0</text>
<line x1="317.3" y1="3.70" x2="320.3" y2="3.70" stroke="#555" stroke-width="0.9"/>
<text x="315.0" y="6.45" font-size="7.8" text-anchor="end" fill="#333">1000</text>
<line x1="317.3" y1="16.50" x2="320.3" y2="16.50" stroke="#555" stroke-width="0.9"/>
<text x="315.0" y="19.25" font-size="7.8" text-anchor="end" fill="#333">100</text>
<line x1="317.3" y1="29.30" x2="320.3" y2="29.30" stroke="#555" stroke-width="0.9"/>
<text x="315.0" y="32.05" font-size="7.8" text-anchor="end" fill="#333">10</text>
<rect x="320.3" y="47.129999999999995" width="167.5" height="39.2" fill="#fff"/>
<line x1="328.00" y1="47.129999999999995" x2="328.00" y2="86.33" stroke="#e6e6e6" stroke-width="1"/>
<line x1="356.50" y1="47.129999999999995" x2="356.50" y2="86.33" stroke="#f1f1f1" stroke-width="0.7"/>
<line x1="385.00" y1="47.129999999999995" x2="385.00" y2="86.33" stroke="#e6e6e6" stroke-width="1"/>
<line x1="413.50" y1="47.129999999999995" x2="413.50" y2="86.33" stroke="#f1f1f1" stroke-width="0.7"/>
<line x1="442.00" y1="47.129999999999995" x2="442.00" y2="86.33" stroke="#e6e6e6" stroke-width="1"/>
<line x1="470.50" y1="47.129999999999995" x2="470.50" y2="86.33" stroke="#f1f1f1" stroke-width="0.7"/>
<line x1="320.3" y1="49.43" x2="487.8" y2="49.43" stroke="#e6e6e6" stroke-width="1"/>
<line x1="320.3" y1="55.83" x2="487.8" y2="55.83" stroke="#f1f1f1" stroke-width="0.7"/>
<line x1="320.3" y1="62.23" x2="487.8" y2="62.23" stroke="#e6e6e6" stroke-width="1"/>
<line x1="320.3" y1="68.63" x2="487.8" y2="68.63" stroke="#f1f1f1" stroke-width="0.7"/>
<line x1="320.3" y1="75.03" x2="487.8" y2="75.03" stroke="#e6e6e6" stroke-width="1"/>
<line x1="320.3" y1="81.43" x2="487.8" y2="81.43" stroke="#f1f1f1" stroke-width="0.7"/>
<g clip-path="url(#cp1)">
<rect x="332.52" y="83.43" width="3.16" height="3.90" fill="#481F70"/>
<rect x="335.72" y="57.47" width="3.16" height="29.86" fill="#481F70"/>
<rect x="336.85" y="61.07" width="0.9" height="25.26" fill="#fff" opacity="0.36"/>
<path d="M337.30,57.97 V55.60 M335.95,55.60 H338.65" stroke="#481F70" stroke-width="1" fill="none"/>
<rect x="338.88" y="57.29" width="3.16" height="30.04" fill="#481F70"/>
<rect x="340.01" y="60.32" width="0.9" height="26.01" fill="#fff" opacity="0.36"/>
<path d="M340.46,57.79 V56.04 M339.11,56.04 H341.81" stroke="#481F70" stroke-width="1" fill="none"/>
<rect x="342.04" y="58.81" width="3.16" height="28.52" fill="#481F70"/>
<rect x="343.17" y="61.31" width="0.9" height="25.02" fill="#fff" opacity="0.36"/>
<path d="M343.62,59.31 V56.94 M342.27,56.94 H344.97" stroke="#481F70" stroke-width="1" fill="none"/>
<rect x="345.20" y="59.91" width="3.16" height="27.42" fill="#481F70"/>
<rect x="346.33" y="62.67" width="0.9" height="23.66" fill="#fff" opacity="0.36"/>
<path d="M346.78,60.41 V58.90 M345.43,58.90 H348.13" stroke="#481F70" stroke-width="1" fill="none"/>
<rect x="348.36" y="62.78" width="3.16" height="24.55" fill="#481F70"/>
<rect x="349.49" y="66.80" width="0.9" height="19.53" fill="#fff" opacity="0.36"/>
<path d="M349.94,63.28 V60.20 M348.59,60.20 H351.29" stroke="#481F70" stroke-width="1" fill="none"/>
<rect x="351.52" y="63.84" width="3.16" height="23.49" fill="#481F70"/>
<rect x="352.65" y="67.96" width="0.9" height="18.37" fill="#fff" opacity="0.36"/>
<path d="M353.10,64.34 V61.58 M351.75,61.58 H354.45" stroke="#481F70" stroke-width="1" fill="none"/>
<rect x="354.68" y="66.41" width="3.16" height="20.92" fill="#481F70"/>
<rect x="355.81" y="68.78" width="0.9" height="17.55" fill="#fff" opacity="0.36"/>
<path d="M356.26,66.91 V65.26 M354.91,65.26 H357.61" stroke="#481F70" stroke-width="1" fill="none"/>
<rect x="357.84" y="68.37" width="3.16" height="18.96" fill="#481F70"/>
<rect x="358.97" y="72.50" width="0.9" height="13.83" fill="#fff" opacity="0.36"/>
<path d="M359.42,68.87 V66.17 M358.07,66.17 H360.77" stroke="#481F70" stroke-width="1" fill="none"/>
<rect x="361.00" y="71.25" width="3.16" height="16.08" fill="#481F70"/>
<rect x="362.13" y="74.20" width="0.9" height="12.13" fill="#fff" opacity="0.36"/>
<path d="M362.58,71.75 V70.27 M361.23,70.27 H363.93" stroke="#481F70" stroke-width="1" fill="none"/>
<rect x="364.16" y="72.98" width="3.16" height="14.35" fill="#481F70"/>
<rect x="365.29" y="74.50" width="0.9" height="11.83" fill="#fff" opacity="0.36"/>
<path d="M365.74,73.48 V72.01 M364.39,72.01 H367.09" stroke="#481F70" stroke-width="1" fill="none"/>
<rect x="367.32" y="75.26" width="3.16" height="12.07" fill="#481F70"/>
<rect x="368.45" y="77.34" width="0.9" height="8.99" fill="#fff" opacity="0.36"/>
<path d="M368.90,75.76 V73.79 M367.55,73.79 H370.25" stroke="#481F70" stroke-width="1" fill="none"/>
<rect x="370.48" y="76.56" width="3.16" height="10.77" fill="#481F70"/>
<rect x="371.61" y="79.98" width="0.9" height="6.35" fill="#fff" opacity="0.36"/>
<path d="M372.06,77.06 V73.99 M370.71,73.99 H373.41" stroke="#481F70" stroke-width="1" fill="none"/>
<rect x="373.64" y="76.48" width="3.16" height="10.85" fill="#481F70"/>
<rect x="374.77" y="79.93" width="0.9" height="6.40" fill="#fff" opacity="0.36"/>
<path d="M375.22,76.98 V73.88 M373.87,73.88 H376.57" stroke="#481F70" stroke-width="1" fill="none"/>
<rect x="376.80" y="75.82" width="3.16" height="11.51" fill="#481F70"/>
<rect x="377.93" y="77.85" width="0.9" height="8.48" fill="#fff" opacity="0.36"/>
<path d="M378.38,76.32 V74.79 M377.03,74.79 H379.73" stroke="#481F70" stroke-width="1" fill="none"/>
<rect x="379.96" y="77.44" width="3.16" height="9.89" fill="#481F70"/>
<rect x="381.09" y="79.81" width="0.9" height="6.52" fill="#fff" opacity="0.36"/>
<path d="M381.54,77.94 V76.49 M380.19,76.49 H382.89" stroke="#481F70" stroke-width="1" fill="none"/>
<rect x="383.12" y="78.36" width="3.16" height="8.97" fill="#481F70"/>
<rect x="384.25" y="81.15" width="0.9" height="5.18" fill="#fff" opacity="0.36"/>
<path d="M384.70,78.86 V76.77 M383.35,76.77 H386.05" stroke="#481F70" stroke-width="1" fill="none"/>
<rect x="386.28" y="80.42" width="3.16" height="6.91" fill="#481F70"/>
<rect x="387.41" y="82.49" width="0.9" height="3.84" fill="#fff" opacity="0.36"/>
<path d="M387.86,80.92 V79.26 M386.51,79.26 H389.21" stroke="#481F70" stroke-width="1" fill="none"/>
<rect x="389.44" y="80.92" width="3.16" height="6.41" fill="#481F70"/>
<rect x="390.57" y="82.81" width="0.9" height="3.52" fill="#fff" opacity="0.36"/>
<path d="M391.02,81.42 V78.54 M389.67,78.54 H392.37" stroke="#481F70" stroke-width="1" fill="none"/>
<rect x="392.60" y="82.44" width="3.16" height="4.89" fill="#481F70"/>
<rect x="393.73" y="83.80" width="0.9" height="2.53" fill="#fff" opacity="0.36"/>
<path d="M394.18,82.94 V79.91 M392.83,79.91 H395.53" stroke="#481F70" stroke-width="1" fill="none"/>
<rect x="395.76" y="84.10" width="3.16" height="3.23" fill="#481F70"/>
<path d="M397.34,84.60 V82.55 M395.99,82.55 H398.69" stroke="#481F70" stroke-width="1" fill="none"/>
<rect x="398.92" y="84.49" width="3.16" height="2.84" fill="#481F70"/>
<path d="M400.50,84.99 V82.71 M399.15,82.71 H401.85" stroke="#481F70" stroke-width="1" fill="none"/>
<rect x="402.08" y="84.66" width="3.16" height="2.67" fill="#481F70"/>
<rect x="405.24" y="85.66" width="3.16" height="1.67" fill="#481F70"/>
<rect x="408.40" y="85.02" width="3.16" height="2.31" fill="#481F70"/>
<rect x="411.56" y="85.77" width="3.16" height="1.56" fill="#481F70"/>
<rect x="414.72" y="82.96" width="3.16" height="4.37" fill="#481F70"/>
<rect x="415.85" y="84.14" width="0.9" height="2.19" fill="#fff" opacity="0.36"/>
<rect x="416.46" y="85.33" width="3.16" height="2.00" fill="#481F70"/>
<rect x="420.38" y="85.33" width="3.16" height="2.00" fill="#481F70"/>
<rect x="422.34" y="83.63" width="3.16" height="3.70" fill="#481F70"/>
<path d="M423.92,84.13 V81.58 M422.57,81.58 H425.27" stroke="#481F70" stroke-width="1" fill="none"/>
<rect x="425.61" y="83.33" width="3.16" height="4.00" fill="#481F70"/>
<path d="M427.19,83.83 V82.00 M425.84,82.00 H428.54" stroke="#481F70" stroke-width="1" fill="none"/>
<rect x="430.18" y="85.13" width="3.16" height="2.20" fill="#481F70"/>
<rect x="454.69" y="84.93" width="3.16" height="2.40" fill="#481F70"/>
</g>
<rect x="320.3" y="47.129999999999995" width="167.5" height="39.2" fill="none" stroke="#7a7a7a" stroke-width="0.9"/>
<line x1="487.8" y1="46.73" x2="487.8" y2="86.73" stroke="#555" stroke-width="1.3"/>
<rect x="488.40000000000003" y="47.129999999999995" width="16.80" height="39.2" fill="#fff" stroke="#8a8a8a" stroke-width="0.8"/>
<text transform="translate(493.6,66.73) rotate(90)" font-size="9.2" text-anchor="middle" fill="#1a1a1a">10</text>
<line x1="317.3" y1="49.43" x2="320.3" y2="49.43" stroke="#555" stroke-width="0.9"/>
<text x="315.0" y="52.18" font-size="7.8" text-anchor="end" fill="#333">1000</text>
<line x1="317.3" y1="62.23" x2="320.3" y2="62.23" stroke="#555" stroke-width="0.9"/>
<text x="315.0" y="64.98" font-size="7.8" text-anchor="end" fill="#333">100</text>
<line x1="317.3" y1="75.03" x2="320.3" y2="75.03" stroke="#555" stroke-width="0.9"/>
<text x="315.0" y="77.78" font-size="7.8" text-anchor="end" fill="#333">10</text>
<rect x="320.3" y="92.86" width="167.5" height="39.2" fill="#fff"/>
<line x1="328.00" y1="92.86" x2="328.00" y2="132.06" stroke="#e6e6e6" stroke-width="1"/>
<line x1="356.50" y1="92.86" x2="356.50" y2="132.06" stroke="#f1f1f1" stroke-width="0.7"/>
<line x1="385.00" y1="92.86" x2="385.00" y2="132.06" stroke="#e6e6e6" stroke-width="1"/>
<line x1="413.50" y1="92.86" x2="413.50" y2="132.06" stroke="#f1f1f1" stroke-width="0.7"/>
<line x1="442.00" y1="92.86" x2="442.00" y2="132.06" stroke="#e6e6e6" stroke-width="1"/>
<line x1="470.50" y1="92.86" x2="470.50" y2="132.06" stroke="#f1f1f1" stroke-width="0.7"/>
<line x1="320.3" y1="95.16" x2="487.8" y2="95.16" stroke="#e6e6e6" stroke-width="1"/>
<line x1="320.3" y1="101.56" x2="487.8" y2="101.56" stroke="#f1f1f1" stroke-width="0.7"/>
<line x1="320.3" y1="107.96" x2="487.8" y2="107.96" stroke="#e6e6e6" stroke-width="1"/>
<line x1="320.3" y1="114.36" x2="487.8" y2="114.36" stroke="#f1f1f1" stroke-width="0.7"/>
<line x1="320.3" y1="120.76" x2="487.8" y2="120.76" stroke="#e6e6e6" stroke-width="1"/>
<line x1="320.3" y1="127.16" x2="487.8" y2="127.16" stroke="#f1f1f1" stroke-width="0.7"/>
<g clip-path="url(#cp2)">
<rect x="332.52" y="129.16" width="3.16" height="3.90" fill="#443A83"/>
<rect x="335.72" y="104.06" width="3.16" height="29.00" fill="#443A83"/>
<rect x="336.85" y="107.83" width="0.9" height="24.23" fill="#fff" opacity="0.36"/>
<path d="M337.30,104.56 V102.65 M335.95,102.65 H338.65" stroke="#443A83" stroke-width="1" fill="none"/>
<rect x="338.88" y="103.46" width="3.16" height="29.60" fill="#443A83"/>
<rect x="340.01" y="106.62" width="0.9" height="25.44" fill="#fff" opacity="0.36"/>
<path d="M340.46,103.96 V101.25 M339.11,101.25 H341.81" stroke="#443A83" stroke-width="1" fill="none"/>
<rect x="342.04" y="105.10" width="3.16" height="27.96" fill="#443A83"/>
<rect x="343.17" y="108.96" width="0.9" height="23.10" fill="#fff" opacity="0.36"/>
<path d="M343.62,105.60 V103.23 M342.27,103.23 H344.97" stroke="#443A83" stroke-width="1" fill="none"/>
<rect x="345.20" y="108.17" width="3.16" height="24.89" fill="#443A83"/>
<rect x="346.33" y="111.77" width="0.9" height="20.29" fill="#fff" opacity="0.36"/>
<path d="M346.78,108.67 V106.74 M345.43,106.74 H348.13" stroke="#443A83" stroke-width="1" fill="none"/>
<rect x="348.36" y="109.46" width="3.16" height="23.60" fill="#443A83"/>
<rect x="349.49" y="113.55" width="0.9" height="18.51" fill="#fff" opacity="0.36"/>
<path d="M349.94,109.96 V107.20 M348.59,107.20 H351.29" stroke="#443A83" stroke-width="1" fill="none"/>
<rect x="351.52" y="111.23" width="3.16" height="21.83" fill="#443A83"/>
<rect x="352.65" y="113.98" width="0.9" height="18.08" fill="#fff" opacity="0.36"/>
<path d="M353.10,111.73 V110.01 M351.75,110.01 H354.45" stroke="#443A83" stroke-width="1" fill="none"/>
<rect x="354.68" y="113.04" width="3.16" height="20.02" fill="#443A83"/>
<rect x="355.81" y="116.21" width="0.9" height="15.85" fill="#fff" opacity="0.36"/>
<path d="M356.26,113.54 V110.96 M354.91,110.96 H357.61" stroke="#443A83" stroke-width="1" fill="none"/>
<rect x="357.84" y="113.97" width="3.16" height="19.09" fill="#443A83"/>
<rect x="358.97" y="116.60" width="0.9" height="15.46" fill="#fff" opacity="0.36"/>
<path d="M359.42,114.47 V112.53 M358.07,112.53 H360.77" stroke="#443A83" stroke-width="1" fill="none"/>
<rect x="361.00" y="115.39" width="3.16" height="17.67" fill="#443A83"/>
<rect x="362.13" y="118.67" width="0.9" height="13.39" fill="#fff" opacity="0.36"/>
<path d="M362.58,115.89 V113.08 M361.23,113.08 H363.93" stroke="#443A83" stroke-width="1" fill="none"/>
<rect x="364.16" y="116.84" width="3.16" height="16.22" fill="#443A83"/>
<rect x="365.29" y="119.83" width="0.9" height="12.23" fill="#fff" opacity="0.36"/>
<path d="M365.74,117.34 V114.48 M364.39,114.48 H367.09" stroke="#443A83" stroke-width="1" fill="none"/>
<rect x="367.32" y="117.94" width="3.16" height="15.12" fill="#443A83"/>
<rect x="368.45" y="121.09" width="0.9" height="10.97" fill="#fff" opacity="0.36"/>
<path d="M368.90,118.44 V116.47 M367.55,116.47 H370.25" stroke="#443A83" stroke-width="1" fill="none"/>
<rect x="370.48" y="120.28" width="3.16" height="12.78" fill="#443A83"/>
<rect x="371.61" y="123.76" width="0.9" height="8.30" fill="#fff" opacity="0.36"/>
<path d="M372.06,120.78 V117.88 M370.71,117.88 H373.41" stroke="#443A83" stroke-width="1" fill="none"/>
<rect x="373.64" y="121.42" width="3.16" height="11.64" fill="#443A83"/>
<rect x="374.77" y="124.82" width="0.9" height="7.24" fill="#fff" opacity="0.36"/>
<path d="M375.22,121.92 V120.13 M373.87,120.13 H376.57" stroke="#443A83" stroke-width="1" fill="none"/>
<rect x="376.80" y="121.98" width="3.16" height="11.08" fill="#443A83"/>
<rect x="377.93" y="124.38" width="0.9" height="7.68" fill="#fff" opacity="0.36"/>
<path d="M378.38,122.48 V120.18 M377.03,120.18 H379.73" stroke="#443A83" stroke-width="1" fill="none"/>
<rect x="379.96" y="124.39" width="3.16" height="8.67" fill="#443A83"/>
<rect x="381.09" y="127.07" width="0.9" height="4.99" fill="#fff" opacity="0.36"/>
<path d="M381.54,124.89 V122.12 M380.19,122.12 H382.89" stroke="#443A83" stroke-width="1" fill="none"/>
<rect x="383.12" y="127.43" width="3.16" height="5.63" fill="#443A83"/>
<rect x="384.25" y="129.05" width="0.9" height="3.01" fill="#fff" opacity="0.36"/>
<path d="M384.70,127.93 V126.22 M383.35,126.22 H386.05" stroke="#443A83" stroke-width="1" fill="none"/>
<rect x="386.28" y="127.94" width="3.16" height="5.12" fill="#443A83"/>
<rect x="387.41" y="129.38" width="0.9" height="2.68" fill="#fff" opacity="0.36"/>
<path d="M387.86,128.44 V125.66 M386.51,125.66 H389.21" stroke="#443A83" stroke-width="1" fill="none"/>
<rect x="389.44" y="128.91" width="3.16" height="4.15" fill="#443A83"/>
<rect x="390.57" y="130.01" width="0.9" height="2.05" fill="#fff" opacity="0.36"/>
<path d="M391.02,129.41 V126.63 M389.67,126.63 H392.37" stroke="#443A83" stroke-width="1" fill="none"/>
<rect x="392.60" y="128.64" width="3.16" height="4.42" fill="#443A83"/>
<rect x="393.73" y="129.84" width="0.9" height="2.22" fill="#fff" opacity="0.36"/>
<path d="M394.18,129.14 V127.52 M392.83,127.52 H395.53" stroke="#443A83" stroke-width="1" fill="none"/>
<rect x="395.76" y="128.57" width="3.16" height="4.49" fill="#443A83"/>
<rect x="396.89" y="129.79" width="0.9" height="2.27" fill="#fff" opacity="0.36"/>
<path d="M397.34,129.07 V126.32 M395.99,126.32 H398.69" stroke="#443A83" stroke-width="1" fill="none"/>
<rect x="398.92" y="128.96" width="3.16" height="4.10" fill="#443A83"/>
<rect x="400.05" y="130.05" width="0.9" height="2.01" fill="#fff" opacity="0.36"/>
<path d="M400.50,129.46 V127.47 M399.15,127.47 H401.85" stroke="#443A83" stroke-width="1" fill="none"/>
<rect x="402.08" y="129.88" width="3.16" height="3.18" fill="#443A83"/>
<rect x="408.40" y="128.67" width="3.16" height="4.39" fill="#443A83"/>
<rect x="409.53" y="129.86" width="0.9" height="2.20" fill="#fff" opacity="0.36"/>
<rect x="396.85" y="127.36" width="3.16" height="5.70" fill="#443A83"/>
<rect x="397.98" y="129.00" width="0.9" height="3.06" fill="#fff" opacity="0.36"/>
<path d="M398.43,127.86 V124.92 M397.08,124.92 H399.78" stroke="#443A83" stroke-width="1" fill="none"/>
<rect x="406.66" y="126.86" width="3.16" height="6.20" fill="#443A83"/>
<rect x="407.79" y="128.68" width="0.9" height="3.38" fill="#fff" opacity="0.36"/>
<path d="M408.24,127.36 V124.28 M406.89,124.28 H409.59" stroke="#443A83" stroke-width="1" fill="none"/>
<rect x="414.17" y="130.66" width="3.16" height="2.40" fill="#443A83"/>
<rect x="420.38" y="129.36" width="3.16" height="3.70" fill="#443A83"/>
<path d="M421.96,129.86 V127.50 M420.61,127.50 H423.31" stroke="#443A83" stroke-width="1" fill="none"/>
<rect x="426.59" y="131.06" width="3.16" height="2.00" fill="#443A83"/>
<rect x="432.80" y="131.06" width="3.16" height="2.00" fill="#443A83"/>
<rect x="439.01" y="129.86" width="3.16" height="3.20" fill="#443A83"/>
<path d="M440.59,130.36 V127.32 M439.24,127.32 H441.94" stroke="#443A83" stroke-width="1" fill="none"/>
</g>
<rect x="320.3" y="92.86" width="167.5" height="39.2" fill="none" stroke="#7a7a7a" stroke-width="0.9"/>
<line x1="487.8" y1="92.46" x2="487.8" y2="132.46" stroke="#555" stroke-width="1.3"/>
<rect x="488.40000000000003" y="92.86" width="16.80" height="39.2" fill="#fff" stroke="#8a8a8a" stroke-width="0.8"/>
<text transform="translate(493.6,112.46) rotate(90)" font-size="9.2" text-anchor="middle" fill="#1a1a1a">20</text>
<line x1="317.3" y1="95.16" x2="320.3" y2="95.16" stroke="#555" stroke-width="0.9"/>
<text x="315.0" y="97.91" font-size="7.8" text-anchor="end" fill="#333">1000</text>
<line x1="317.3" y1="107.96" x2="320.3" y2="107.96" stroke="#555" stroke-width="0.9"/>
<text x="315.0" y="110.71" font-size="7.8" text-anchor="end" fill="#333">100</text>
<line x1="317.3" y1="120.76" x2="320.3" y2="120.76" stroke="#555" stroke-width="0.9"/>
<text x="315.0" y="123.51" font-size="7.8" text-anchor="end" fill="#333">10</text>
<rect x="320.3" y="138.59" width="167.5" height="39.2" fill="#fff"/>
<line x1="328.00" y1="138.59" x2="328.00" y2="177.79000000000002" stroke="#e6e6e6" stroke-width="1"/>
<line x1="356.50" y1="138.59" x2="356.50" y2="177.79000000000002" stroke="#f1f1f1" stroke-width="0.7"/>
<line x1="385.00" y1="138.59" x2="385.00" y2="177.79000000000002" stroke="#e6e6e6" stroke-width="1"/>
<line x1="413.50" y1="138.59" x2="413.50" y2="177.79000000000002" stroke="#f1f1f1" stroke-width="0.7"/>
<line x1="442.00" y1="138.59" x2="442.00" y2="177.79000000000002" stroke="#e6e6e6" stroke-width="1"/>
<line x1="470.50" y1="138.59" x2="470.50" y2="177.79000000000002" stroke="#f1f1f1" stroke-width="0.7"/>
<line x1="320.3" y1="140.89" x2="487.8" y2="140.89" stroke="#e6e6e6" stroke-width="1"/>
<line x1="320.3" y1="147.29" x2="487.8" y2="147.29" stroke="#f1f1f1" stroke-width="0.7"/>
<line x1="320.3" y1="153.69" x2="487.8" y2="153.69" stroke="#e6e6e6" stroke-width="1"/>
<line x1="320.3" y1="160.09" x2="487.8" y2="160.09" stroke="#f1f1f1" stroke-width="0.7"/>
<line x1="320.3" y1="166.49" x2="487.8" y2="166.49" stroke="#e6e6e6" stroke-width="1"/>
<line x1="320.3" y1="172.89" x2="487.8" y2="172.89" stroke="#f1f1f1" stroke-width="0.7"/>
<g clip-path="url(#cp3)">
<rect x="332.52" y="174.89" width="3.16" height="3.90" fill="#3B528B"/>
<rect x="335.72" y="150.19" width="3.16" height="28.60" fill="#3B528B"/>
<rect x="336.85" y="153.23" width="0.9" height="24.56" fill="#fff" opacity="0.36"/>
<path d="M337.30,150.69 V148.39 M335.95,148.39 H338.65" stroke="#3B528B" stroke-width="1" fill="none"/>
<rect x="338.88" y="149.37" width="3.16" height="29.42" fill="#3B528B"/>
<rect x="340.01" y="154.16" width="0.9" height="23.63" fill="#fff" opacity="0.36"/>
<path d="M340.46,149.87 V146.87 M339.11,146.87 H341.81" stroke="#3B528B" stroke-width="1" fill="none"/>
<rect x="342.04" y="151.13" width="3.16" height="27.66" fill="#3B528B"/>
<rect x="343.17" y="154.69" width="0.9" height="23.10" fill="#fff" opacity="0.36"/>
<path d="M343.62,151.63 V149.65 M342.27,149.65 H344.97" stroke="#3B528B" stroke-width="1" fill="none"/>
<rect x="345.20" y="152.25" width="3.16" height="26.54" fill="#3B528B"/>
<rect x="346.33" y="155.64" width="0.9" height="22.15" fill="#fff" opacity="0.36"/>
<path d="M346.78,152.75 V149.88 M345.43,149.88 H348.13" stroke="#3B528B" stroke-width="1" fill="none"/>
<rect x="348.36" y="154.24" width="3.16" height="24.55" fill="#3B528B"/>
<rect x="349.49" y="157.90" width="0.9" height="19.89" fill="#fff" opacity="0.36"/>
<path d="M349.94,154.74 V152.01 M348.59,152.01 H351.29" stroke="#3B528B" stroke-width="1" fill="none"/>
<rect x="351.52" y="155.74" width="3.16" height="23.05" fill="#3B528B"/>
<rect x="352.65" y="157.72" width="0.9" height="20.07" fill="#fff" opacity="0.36"/>
<path d="M353.10,156.24 V154.50 M351.75,154.50 H354.45" stroke="#3B528B" stroke-width="1" fill="none"/>
<rect x="354.68" y="157.55" width="3.16" height="21.24" fill="#3B528B"/>
<rect x="355.81" y="161.97" width="0.9" height="15.82" fill="#fff" opacity="0.36"/>
<path d="M356.26,158.05 V155.26 M354.91,155.26 H357.61" stroke="#3B528B" stroke-width="1" fill="none"/>
<rect x="357.84" y="158.54" width="3.16" height="20.25" fill="#3B528B"/>
<rect x="358.97" y="162.61" width="0.9" height="15.18" fill="#fff" opacity="0.36"/>
<path d="M359.42,159.04 V156.29 M358.07,156.29 H360.77" stroke="#3B528B" stroke-width="1" fill="none"/>
<rect x="361.00" y="161.26" width="3.16" height="17.53" fill="#3B528B"/>
<rect x="362.13" y="165.81" width="0.9" height="11.98" fill="#fff" opacity="0.36"/>
<path d="M362.58,161.76 V158.99 M361.23,158.99 H363.93" stroke="#3B528B" stroke-width="1" fill="none"/>
<rect x="364.16" y="162.70" width="3.16" height="16.09" fill="#3B528B"/>
<rect x="365.29" y="165.70" width="0.9" height="12.09" fill="#fff" opacity="0.36"/>
<path d="M365.74,163.20 V161.79 M364.39,161.79 H367.09" stroke="#3B528B" stroke-width="1" fill="none"/>
<rect x="367.32" y="163.91" width="3.16" height="14.88" fill="#3B528B"/>
<rect x="368.45" y="168.12" width="0.9" height="9.67" fill="#fff" opacity="0.36"/>
<path d="M368.90,164.41 V161.55 M367.55,161.55 H370.25" stroke="#3B528B" stroke-width="1" fill="none"/>
<rect x="370.48" y="164.15" width="3.16" height="14.64" fill="#3B528B"/>
<rect x="371.61" y="167.48" width="0.9" height="10.31" fill="#fff" opacity="0.36"/>
<path d="M372.06,164.65 V162.79 M370.71,162.79 H373.41" stroke="#3B528B" stroke-width="1" fill="none"/>
<rect x="373.64" y="165.52" width="3.16" height="13.27" fill="#3B528B"/>
<rect x="374.77" y="168.94" width="0.9" height="8.85" fill="#fff" opacity="0.36"/>
<path d="M375.22,166.02 V163.72 M373.87,163.72 H376.57" stroke="#3B528B" stroke-width="1" fill="none"/>
<rect x="376.80" y="166.83" width="3.16" height="11.96" fill="#3B528B"/>
<rect x="377.93" y="169.24" width="0.9" height="8.55" fill="#fff" opacity="0.36"/>
<path d="M378.38,167.33 V165.12 M377.03,165.12 H379.73" stroke="#3B528B" stroke-width="1" fill="none"/>
<rect x="379.96" y="166.92" width="3.16" height="11.87" fill="#3B528B"/>
<rect x="381.09" y="169.50" width="0.9" height="8.29" fill="#fff" opacity="0.36"/>
<path d="M381.54,167.42 V166.02 M380.19,166.02 H382.89" stroke="#3B528B" stroke-width="1" fill="none"/>
<rect x="383.12" y="166.12" width="3.16" height="12.67" fill="#3B528B"/>
<rect x="384.25" y="167.75" width="0.9" height="10.04" fill="#fff" opacity="0.36"/>
<path d="M384.70,166.62 V165.01 M383.35,165.01 H386.05" stroke="#3B528B" stroke-width="1" fill="none"/>
<rect x="386.28" y="168.35" width="3.16" height="10.44" fill="#3B528B"/>
<rect x="387.41" y="170.15" width="0.9" height="7.64" fill="#fff" opacity="0.36"/>
<path d="M387.86,168.85 V167.33 M386.51,167.33 H389.21" stroke="#3B528B" stroke-width="1" fill="none"/>
<rect x="389.44" y="170.98" width="3.16" height="7.81" fill="#3B528B"/>
<rect x="390.57" y="173.36" width="0.9" height="4.43" fill="#fff" opacity="0.36"/>
<path d="M391.02,171.48 V168.63 M389.67,168.63 H392.37" stroke="#3B528B" stroke-width="1" fill="none"/>
<rect x="392.60" y="170.88" width="3.16" height="7.91" fill="#3B528B"/>
<rect x="393.73" y="173.23" width="0.9" height="4.56" fill="#fff" opacity="0.36"/>
<path d="M394.18,171.38 V169.13 M392.83,169.13 H395.53" stroke="#3B528B" stroke-width="1" fill="none"/>
<rect x="395.76" y="172.04" width="3.16" height="6.75" fill="#3B528B"/>
<rect x="396.89" y="174.05" width="0.9" height="3.74" fill="#fff" opacity="0.36"/>
<path d="M397.34,172.54 V170.61 M395.99,170.61 H398.69" stroke="#3B528B" stroke-width="1" fill="none"/>
<rect x="398.92" y="172.93" width="3.16" height="5.86" fill="#3B528B"/>
<rect x="400.05" y="174.63" width="0.9" height="3.16" fill="#fff" opacity="0.36"/>
<path d="M400.50,173.43 V170.93 M399.15,170.93 H401.85" stroke="#3B528B" stroke-width="1" fill="none"/>
<rect x="402.08" y="174.04" width="3.16" height="4.75" fill="#3B528B"/>
<rect x="403.21" y="175.36" width="0.9" height="2.43" fill="#fff" opacity="0.36"/>
<path d="M403.66,174.54 V172.53 M402.31,172.53 H405.01" stroke="#3B528B" stroke-width="1" fill="none"/>
<rect x="405.24" y="173.81" width="3.16" height="4.98" fill="#3B528B"/>
<rect x="406.37" y="175.21" width="0.9" height="2.58" fill="#fff" opacity="0.36"/>
<path d="M406.82,174.31 V172.35 M405.47,172.35 H408.17" stroke="#3B528B" stroke-width="1" fill="none"/>
<rect x="408.40" y="174.01" width="3.16" height="4.78" fill="#3B528B"/>
<rect x="409.53" y="175.33" width="0.9" height="2.46" fill="#fff" opacity="0.36"/>
<path d="M409.98,174.51 V172.16 M408.63,172.16 H411.33" stroke="#3B528B" stroke-width="1" fill="none"/>
<rect x="411.56" y="175.09" width="3.16" height="3.70" fill="#3B528B"/>
<path d="M413.14,175.59 V173.55 M411.79,173.55 H414.49" stroke="#3B528B" stroke-width="1" fill="none"/>
<rect x="414.72" y="174.40" width="3.16" height="4.39" fill="#3B528B"/>
<rect x="415.85" y="175.58" width="0.9" height="2.21" fill="#fff" opacity="0.36"/>
<path d="M416.30,174.90 V173.19 M414.95,173.19 H417.65" stroke="#3B528B" stroke-width="1" fill="none"/>
<rect x="417.88" y="175.06" width="3.16" height="3.73" fill="#3B528B"/>
<path d="M419.46,175.56 V173.13 M418.11,173.13 H420.81" stroke="#3B528B" stroke-width="1" fill="none"/>
<rect x="421.04" y="175.95" width="3.16" height="2.84" fill="#3B528B"/>
<path d="M422.62,176.45 V174.41 M421.27,174.41 H423.97" stroke="#3B528B" stroke-width="1" fill="none"/>
<rect x="424.20" y="176.01" width="3.16" height="2.78" fill="#3B528B"/>
<path d="M425.78,176.51 V174.05 M424.43,174.05 H427.13" stroke="#3B528B" stroke-width="1" fill="none"/>
<rect x="427.36" y="175.54" width="3.16" height="3.25" fill="#3B528B"/>
<path d="M428.94,176.04 V174.01 M427.59,174.01 H430.29" stroke="#3B528B" stroke-width="1" fill="none"/>
<rect x="430.52" y="175.76" width="3.16" height="3.03" fill="#3B528B"/>
<path d="M432.10,176.26 V173.66 M430.75,173.66 H433.45" stroke="#3B528B" stroke-width="1" fill="none"/>
<rect x="433.68" y="176.40" width="3.16" height="2.39" fill="#3B528B"/>
<rect x="436.84" y="175.94" width="3.16" height="2.85" fill="#3B528B"/>
<rect x="440.00" y="175.62" width="3.16" height="3.17" fill="#3B528B"/>
<rect x="461.23" y="175.09" width="3.16" height="3.70" fill="#3B528B"/>
<path d="M462.81,175.59 V172.57 M461.46,172.57 H464.16" stroke="#3B528B" stroke-width="1" fill="none"/>
<rect x="450.77" y="177.09" width="3.16" height="1.70" fill="#3B528B"/>
<rect x="454.04" y="177.09" width="3.16" height="1.70" fill="#3B528B"/>
</g>
<rect x="320.3" y="138.59" width="167.5" height="39.2" fill="none" stroke="#7a7a7a" stroke-width="0.9"/>
<line x1="487.8" y1="138.19" x2="487.8" y2="178.19000000000003" stroke="#555" stroke-width="1.3"/>
<rect x="488.40000000000003" y="138.59" width="16.80" height="39.2" fill="#fff" stroke="#8a8a8a" stroke-width="0.8"/>
<text transform="translate(493.6,158.19) rotate(90)" font-size="9.2" text-anchor="middle" fill="#1a1a1a">30</text>
<line x1="317.3" y1="140.89" x2="320.3" y2="140.89" stroke="#555" stroke-width="0.9"/>
<text x="315.0" y="143.64" font-size="7.8" text-anchor="end" fill="#333">1000</text>
<line x1="317.3" y1="153.69" x2="320.3" y2="153.69" stroke="#555" stroke-width="0.9"/>
<text x="315.0" y="156.44" font-size="7.8" text-anchor="end" fill="#333">100</text>
<line x1="317.3" y1="166.49" x2="320.3" y2="166.49" stroke="#555" stroke-width="0.9"/>
<text x="315.0" y="169.24" font-size="7.8" text-anchor="end" fill="#333">10</text>
<rect x="320.3" y="184.32" width="167.5" height="39.2" fill="#fff"/>
<line x1="328.00" y1="184.32" x2="328.00" y2="223.51999999999998" stroke="#e6e6e6" stroke-width="1"/>
<line x1="356.50" y1="184.32" x2="356.50" y2="223.51999999999998" stroke="#f1f1f1" stroke-width="0.7"/>
<line x1="385.00" y1="184.32" x2="385.00" y2="223.51999999999998" stroke="#e6e6e6" stroke-width="1"/>
<line x1="413.50" y1="184.32" x2="413.50" y2="223.51999999999998" stroke="#f1f1f1" stroke-width="0.7"/>
<line x1="442.00" y1="184.32" x2="442.00" y2="223.51999999999998" stroke="#e6e6e6" stroke-width="1"/>
<line x1="470.50" y1="184.32" x2="470.50" y2="223.51999999999998" stroke="#f1f1f1" stroke-width="0.7"/>
<line x1="320.3" y1="186.62" x2="487.8" y2="186.62" stroke="#e6e6e6" stroke-width="1"/>
<line x1="320.3" y1="193.02" x2="487.8" y2="193.02" stroke="#f1f1f1" stroke-width="0.7"/>
<line x1="320.3" y1="199.42" x2="487.8" y2="199.42" stroke="#e6e6e6" stroke-width="1"/>
<line x1="320.3" y1="205.82" x2="487.8" y2="205.82" stroke="#f1f1f1" stroke-width="0.7"/>
<line x1="320.3" y1="212.22" x2="487.8" y2="212.22" stroke="#e6e6e6" stroke-width="1"/>
<line x1="320.3" y1="218.62" x2="487.8" y2="218.62" stroke="#f1f1f1" stroke-width="0.7"/>
<g clip-path="url(#cp4)">
<rect x="332.52" y="220.62" width="3.16" height="3.90" fill="#31688E"/>
<rect x="335.72" y="196.41" width="3.16" height="28.11" fill="#31688E"/>
<rect x="336.85" y="200.60" width="0.9" height="22.92" fill="#fff" opacity="0.36"/>
<path d="M337.30,196.91 V194.08 M335.95,194.08 H338.65" stroke="#31688E" stroke-width="1" fill="none"/>
<rect x="338.88" y="196.66" width="3.16" height="27.86" fill="#31688E"/>
<rect x="340.01" y="199.50" width="0.9" height="24.02" fill="#fff" opacity="0.36"/>
<path d="M340.46,197.16 V194.34 M339.11,194.34 H341.81" stroke="#31688E" stroke-width="1" fill="none"/>
<rect x="342.04" y="198.54" width="3.16" height="25.98" fill="#31688E"/>
<rect x="343.17" y="201.59" width="0.9" height="21.93" fill="#fff" opacity="0.36"/>
<path d="M343.62,199.04 V196.65 M342.27,196.65 H344.97" stroke="#31688E" stroke-width="1" fill="none"/>
<rect x="345.20" y="199.94" width="3.16" height="24.58" fill="#31688E"/>
<rect x="346.33" y="202.28" width="0.9" height="21.24" fill="#fff" opacity="0.36"/>
<path d="M346.78,200.44 V198.98 M345.43,198.98 H348.13" stroke="#31688E" stroke-width="1" fill="none"/>
<rect x="348.36" y="201.54" width="3.16" height="22.98" fill="#31688E"/>
<rect x="349.49" y="204.78" width="0.9" height="18.74" fill="#fff" opacity="0.36"/>
<path d="M349.94,202.04 V199.77 M348.59,199.77 H351.29" stroke="#31688E" stroke-width="1" fill="none"/>
<rect x="351.52" y="202.95" width="3.16" height="21.57" fill="#31688E"/>
<rect x="352.65" y="204.95" width="0.9" height="18.57" fill="#fff" opacity="0.36"/>
<path d="M353.10,203.45 V201.87 M351.75,201.87 H354.45" stroke="#31688E" stroke-width="1" fill="none"/>
<rect x="354.68" y="204.48" width="3.16" height="20.04" fill="#31688E"/>
<rect x="355.81" y="208.64" width="0.9" height="14.88" fill="#fff" opacity="0.36"/>
<path d="M356.26,204.98 V201.99 M354.91,201.99 H357.61" stroke="#31688E" stroke-width="1" fill="none"/>
<rect x="357.84" y="204.99" width="3.16" height="19.53" fill="#31688E"/>
<rect x="358.97" y="208.85" width="0.9" height="14.67" fill="#fff" opacity="0.36"/>
<path d="M359.42,205.49 V203.54 M358.07,203.54 H360.77" stroke="#31688E" stroke-width="1" fill="none"/>
<rect x="361.00" y="206.98" width="3.16" height="17.54" fill="#31688E"/>
<rect x="362.13" y="210.57" width="0.9" height="12.95" fill="#fff" opacity="0.36"/>
<path d="M362.58,207.48 V204.67 M361.23,204.67 H363.93" stroke="#31688E" stroke-width="1" fill="none"/>
<rect x="364.16" y="207.92" width="3.16" height="16.60" fill="#31688E"/>
<rect x="365.29" y="210.71" width="0.9" height="12.81" fill="#fff" opacity="0.36"/>
<path d="M365.74,208.42 V206.71 M364.39,206.71 H367.09" stroke="#31688E" stroke-width="1" fill="none"/>
<rect x="367.32" y="209.41" width="3.16" height="15.11" fill="#31688E"/>
<rect x="368.45" y="212.10" width="0.9" height="11.42" fill="#fff" opacity="0.36"/>
<path d="M368.90,209.91 V207.47 M367.55,207.47 H370.25" stroke="#31688E" stroke-width="1" fill="none"/>
<rect x="370.48" y="211.54" width="3.16" height="12.98" fill="#31688E"/>
<rect x="371.61" y="214.16" width="0.9" height="9.36" fill="#fff" opacity="0.36"/>
<path d="M372.06,212.04 V209.97 M370.71,209.97 H373.41" stroke="#31688E" stroke-width="1" fill="none"/>
<rect x="373.64" y="211.83" width="3.16" height="12.69" fill="#31688E"/>
<rect x="374.77" y="215.24" width="0.9" height="8.28" fill="#fff" opacity="0.36"/>
<path d="M375.22,212.33 V210.26 M373.87,210.26 H376.57" stroke="#31688E" stroke-width="1" fill="none"/>
<rect x="376.80" y="211.81" width="3.16" height="12.71" fill="#31688E"/>
<rect x="377.93" y="214.15" width="0.9" height="9.37" fill="#fff" opacity="0.36"/>
<path d="M378.38,212.31 V210.20 M377.03,210.20 H379.73" stroke="#31688E" stroke-width="1" fill="none"/>
<rect x="379.96" y="212.38" width="3.16" height="12.14" fill="#31688E"/>
<rect x="381.09" y="216.28" width="0.9" height="7.24" fill="#fff" opacity="0.36"/>
<path d="M381.54,212.88 V210.63 M380.19,210.63 H382.89" stroke="#31688E" stroke-width="1" fill="none"/>
<rect x="383.12" y="214.58" width="3.16" height="9.94" fill="#31688E"/>
<rect x="384.25" y="217.71" width="0.9" height="5.81" fill="#fff" opacity="0.36"/>
<path d="M384.70,215.08 V212.98 M383.35,212.98 H386.05" stroke="#31688E" stroke-width="1" fill="none"/>
<rect x="386.28" y="214.91" width="3.16" height="9.61" fill="#31688E"/>
<rect x="387.41" y="216.78" width="0.9" height="6.74" fill="#fff" opacity="0.36"/>
<path d="M387.86,215.41 V213.74 M386.51,213.74 H389.21" stroke="#31688E" stroke-width="1" fill="none"/>
<rect x="389.44" y="215.43" width="3.16" height="9.09" fill="#31688E"/>
<rect x="390.57" y="218.26" width="0.9" height="5.26" fill="#fff" opacity="0.36"/>
<path d="M391.02,215.93 V213.24 M389.67,213.24 H392.37" stroke="#31688E" stroke-width="1" fill="none"/>
<rect x="392.60" y="216.09" width="3.16" height="8.43" fill="#31688E"/>
<rect x="393.73" y="218.69" width="0.9" height="4.83" fill="#fff" opacity="0.36"/>
<path d="M394.18,216.59 V214.31 M392.83,214.31 H395.53" stroke="#31688E" stroke-width="1" fill="none"/>
<rect x="395.76" y="216.92" width="3.16" height="7.60" fill="#31688E"/>
<rect x="396.89" y="219.23" width="0.9" height="4.29" fill="#fff" opacity="0.36"/>
<path d="M397.34,217.42 V214.93 M395.99,214.93 H398.69" stroke="#31688E" stroke-width="1" fill="none"/>
<rect x="398.92" y="219.82" width="3.16" height="4.70" fill="#31688E"/>
<rect x="400.05" y="221.11" width="0.9" height="2.41" fill="#fff" opacity="0.36"/>
<path d="M400.50,220.32 V218.66 M399.15,218.66 H401.85" stroke="#31688E" stroke-width="1" fill="none"/>
<rect x="402.08" y="221.20" width="3.16" height="3.32" fill="#31688E"/>
<path d="M403.66,221.70 V219.03 M402.31,219.03 H405.01" stroke="#31688E" stroke-width="1" fill="none"/>
<rect x="405.24" y="220.87" width="3.16" height="3.65" fill="#31688E"/>
<path d="M406.82,221.37 V219.09 M405.47,219.09 H408.17" stroke="#31688E" stroke-width="1" fill="none"/>
<rect x="408.40" y="219.54" width="3.16" height="4.98" fill="#31688E"/>
<rect x="409.53" y="220.93" width="0.9" height="2.59" fill="#fff" opacity="0.36"/>
<path d="M409.98,220.04 V217.42 M408.63,217.42 H411.33" stroke="#31688E" stroke-width="1" fill="none"/>
<rect x="411.56" y="219.18" width="3.16" height="5.34" fill="#31688E"/>
<rect x="412.69" y="220.70" width="0.9" height="2.82" fill="#fff" opacity="0.36"/>
<path d="M413.14,219.68 V217.83 M411.79,217.83 H414.49" stroke="#31688E" stroke-width="1" fill="none"/>
<rect x="414.72" y="219.01" width="3.16" height="5.51" fill="#31688E"/>
<rect x="415.85" y="220.59" width="0.9" height="2.93" fill="#fff" opacity="0.36"/>
<path d="M416.30,219.51 V217.11 M414.95,217.11 H417.65" stroke="#31688E" stroke-width="1" fill="none"/>
<rect x="417.88" y="219.35" width="3.16" height="5.17" fill="#31688E"/>
<rect x="419.01" y="220.81" width="0.9" height="2.71" fill="#fff" opacity="0.36"/>
<path d="M419.46,219.85 V218.06 M418.11,218.06 H420.81" stroke="#31688E" stroke-width="1" fill="none"/>
<rect x="421.04" y="220.52" width="3.16" height="4.00" fill="#31688E"/>
<path d="M422.62,221.02 V218.00 M421.27,218.00 H423.97" stroke="#31688E" stroke-width="1" fill="none"/>
<rect x="424.20" y="220.61" width="3.16" height="3.91" fill="#31688E"/>
<path d="M425.78,221.11 V218.51 M424.43,218.51 H427.13" stroke="#31688E" stroke-width="1" fill="none"/>
<rect x="427.36" y="221.20" width="3.16" height="3.32" fill="#31688E"/>
<path d="M428.94,221.70 V218.85 M427.59,218.85 H430.29" stroke="#31688E" stroke-width="1" fill="none"/>
<rect x="430.52" y="221.44" width="3.16" height="3.08" fill="#31688E"/>
<path d="M432.10,221.94 V220.08 M430.75,220.08 H433.45" stroke="#31688E" stroke-width="1" fill="none"/>
<rect x="433.68" y="220.19" width="3.16" height="4.33" fill="#31688E"/>
<rect x="434.81" y="221.22" width="0.9" height="2.30" fill="#fff" opacity="0.36"/>
<rect x="436.84" y="220.62" width="3.16" height="3.90" fill="#31688E"/>
<rect x="440.00" y="222.37" width="3.16" height="2.15" fill="#31688E"/>
<rect x="446.32" y="221.86" width="3.16" height="2.66" fill="#31688E"/>
<rect x="449.48" y="222.50" width="3.16" height="2.02" fill="#31688E"/>
<rect x="452.64" y="222.21" width="3.16" height="2.31" fill="#31688E"/>
<rect x="455.80" y="222.25" width="3.16" height="2.27" fill="#31688E"/>
<rect x="458.96" y="220.79" width="3.16" height="3.73" fill="#31688E"/>
<rect x="462.12" y="222.08" width="3.16" height="2.44" fill="#31688E"/>
<rect x="468.44" y="220.67" width="3.16" height="3.85" fill="#31688E"/>
<rect x="471.60" y="222.16" width="3.16" height="2.36" fill="#31688E"/>
<rect x="477.92" y="222.63" width="3.16" height="1.89" fill="#31688E"/>
<rect x="481.08" y="222.23" width="3.16" height="2.29" fill="#31688E"/>
<path d="M482.66,222.73 V221.10 M481.31,221.10 H484.01" stroke="#31688E" stroke-width="1" fill="none"/>
<rect x="414.83" y="217.32" width="3.16" height="7.20" fill="#31688E"/>
<rect x="415.96" y="219.49" width="0.9" height="4.03" fill="#fff" opacity="0.36"/>
<path d="M416.41,217.82 V214.94 M415.06,214.94 H417.76" stroke="#31688E" stroke-width="1" fill="none"/>
<rect x="429.53" y="218.82" width="3.16" height="5.70" fill="#31688E"/>
<rect x="430.66" y="220.46" width="0.9" height="3.06" fill="#fff" opacity="0.36"/>
<path d="M431.11,219.32 V217.14 M429.76,217.14 H432.46" stroke="#31688E" stroke-width="1" fill="none"/>
<rect x="449.14" y="219.82" width="3.16" height="4.70" fill="#31688E"/>
<rect x="450.27" y="221.11" width="0.9" height="2.41" fill="#fff" opacity="0.36"/>
<path d="M450.72,220.32 V218.06 M449.37,218.06 H452.07" stroke="#31688E" stroke-width="1" fill="none"/>
<rect x="462.21" y="220.82" width="3.16" height="3.70" fill="#31688E"/>
<path d="M463.79,221.32 V218.77 M462.44,218.77 H465.14" stroke="#31688E" stroke-width="1" fill="none"/>
<rect x="470.38" y="222.82" width="3.16" height="1.70" fill="#31688E"/>
<rect x="475.28" y="222.82" width="3.16" height="1.70" fill="#31688E"/>
<rect x="480.18" y="222.82" width="3.16" height="1.70" fill="#31688E"/>
</g>
<rect x="320.3" y="184.32" width="167.5" height="39.2" fill="none" stroke="#7a7a7a" stroke-width="0.9"/>
<line x1="487.8" y1="183.92" x2="487.8" y2="223.92" stroke="#555" stroke-width="1.3"/>
<rect x="488.40000000000003" y="184.32" width="16.80" height="39.2" fill="#fff" stroke="#8a8a8a" stroke-width="0.8"/>
<text transform="translate(493.6,203.92) rotate(90)" font-size="9.2" text-anchor="middle" fill="#1a1a1a">40</text>
<line x1="317.3" y1="186.62" x2="320.3" y2="186.62" stroke="#555" stroke-width="0.9"/>
<text x="315.0" y="189.37" font-size="7.8" text-anchor="end" fill="#333">1000</text>
<line x1="317.3" y1="199.42" x2="320.3" y2="199.42" stroke="#555" stroke-width="0.9"/>
<text x="315.0" y="202.17" font-size="7.8" text-anchor="end" fill="#333">100</text>
<line x1="317.3" y1="212.22" x2="320.3" y2="212.22" stroke="#555" stroke-width="0.9"/>
<text x="315.0" y="214.97" font-size="7.8" text-anchor="end" fill="#333">10</text>
<rect x="320.3" y="230.04999999999998" width="167.5" height="39.2" fill="#fff"/>
<line x1="328.00" y1="230.04999999999998" x2="328.00" y2="269.25" stroke="#e6e6e6" stroke-width="1"/>
<line x1="356.50" y1="230.04999999999998" x2="356.50" y2="269.25" stroke="#f1f1f1" stroke-width="0.7"/>
<line x1="385.00" y1="230.04999999999998" x2="385.00" y2="269.25" stroke="#e6e6e6" stroke-width="1"/>
<line x1="413.50" y1="230.04999999999998" x2="413.50" y2="269.25" stroke="#f1f1f1" stroke-width="0.7"/>
<line x1="442.00" y1="230.04999999999998" x2="442.00" y2="269.25" stroke="#e6e6e6" stroke-width="1"/>
<line x1="470.50" y1="230.04999999999998" x2="470.50" y2="269.25" stroke="#f1f1f1" stroke-width="0.7"/>
<line x1="320.3" y1="232.35" x2="487.8" y2="232.35" stroke="#e6e6e6" stroke-width="1"/>
<line x1="320.3" y1="238.75" x2="487.8" y2="238.75" stroke="#f1f1f1" stroke-width="0.7"/>
<line x1="320.3" y1="245.15" x2="487.8" y2="245.15" stroke="#e6e6e6" stroke-width="1"/>
<line x1="320.3" y1="251.55" x2="487.8" y2="251.55" stroke="#f1f1f1" stroke-width="0.7"/>
<line x1="320.3" y1="257.95" x2="487.8" y2="257.95" stroke="#e6e6e6" stroke-width="1"/>
<line x1="320.3" y1="264.35" x2="487.8" y2="264.35" stroke="#f1f1f1" stroke-width="0.7"/>
<g clip-path="url(#cp5)">
<rect x="332.52" y="268.25" width="3.16" height="2.00" fill="#287C8E"/>
<rect x="335.72" y="242.97" width="3.16" height="27.28" fill="#287C8E"/>
<rect x="336.85" y="246.42" width="0.9" height="22.83" fill="#fff" opacity="0.36"/>
<path d="M337.30,243.47 V241.88 M335.95,241.88 H338.65" stroke="#287C8E" stroke-width="1" fill="none"/>
<rect x="338.88" y="242.44" width="3.16" height="27.81" fill="#287C8E"/>
<rect x="340.01" y="245.87" width="0.9" height="23.38" fill="#fff" opacity="0.36"/>
<path d="M340.46,242.94 V240.94 M339.11,240.94 H341.81" stroke="#287C8E" stroke-width="1" fill="none"/>
<rect x="342.04" y="244.24" width="3.16" height="26.01" fill="#287C8E"/>
<rect x="343.17" y="248.27" width="0.9" height="20.98" fill="#fff" opacity="0.36"/>
<path d="M343.62,244.74 V242.18 M342.27,242.18 H344.97" stroke="#287C8E" stroke-width="1" fill="none"/>
<rect x="345.20" y="245.51" width="3.16" height="24.74" fill="#287C8E"/>
<rect x="346.33" y="247.90" width="0.9" height="21.35" fill="#fff" opacity="0.36"/>
<path d="M346.78,246.01 V244.30 M345.43,244.30 H348.13" stroke="#287C8E" stroke-width="1" fill="none"/>
<rect x="348.36" y="247.13" width="3.16" height="23.12" fill="#287C8E"/>
<rect x="349.49" y="251.22" width="0.9" height="18.03" fill="#fff" opacity="0.36"/>
<path d="M349.94,247.63 V245.16 M348.59,245.16 H351.29" stroke="#287C8E" stroke-width="1" fill="none"/>
<rect x="351.52" y="248.16" width="3.16" height="22.09" fill="#287C8E"/>
<rect x="352.65" y="252.93" width="0.9" height="16.32" fill="#fff" opacity="0.36"/>
<path d="M353.10,248.66 V245.74 M351.75,245.74 H354.45" stroke="#287C8E" stroke-width="1" fill="none"/>
<rect x="354.68" y="250.10" width="3.16" height="20.15" fill="#287C8E"/>
<rect x="355.81" y="253.44" width="0.9" height="15.81" fill="#fff" opacity="0.36"/>
<path d="M356.26,250.60 V248.99 M354.91,248.99 H357.61" stroke="#287C8E" stroke-width="1" fill="none"/>
<rect x="357.84" y="251.53" width="3.16" height="18.72" fill="#287C8E"/>
<rect x="358.97" y="254.04" width="0.9" height="15.21" fill="#fff" opacity="0.36"/>
<path d="M359.42,252.03 V250.39 M358.07,250.39 H360.77" stroke="#287C8E" stroke-width="1" fill="none"/>
<rect x="361.00" y="251.78" width="3.16" height="18.47" fill="#287C8E"/>
<rect x="362.13" y="255.92" width="0.9" height="13.33" fill="#fff" opacity="0.36"/>
<path d="M362.58,252.28 V249.66 M361.23,249.66 H363.93" stroke="#287C8E" stroke-width="1" fill="none"/>
<rect x="364.16" y="253.55" width="3.16" height="16.70" fill="#287C8E"/>
<rect x="365.29" y="256.86" width="0.9" height="12.39" fill="#fff" opacity="0.36"/>
<path d="M365.74,254.05 V251.70 M364.39,251.70 H367.09" stroke="#287C8E" stroke-width="1" fill="none"/>
<rect x="367.32" y="255.29" width="3.16" height="14.96" fill="#287C8E"/>
<rect x="368.45" y="257.69" width="0.9" height="11.56" fill="#fff" opacity="0.36"/>
<path d="M368.90,255.79 V253.61 M367.55,253.61 H370.25" stroke="#287C8E" stroke-width="1" fill="none"/>
<rect x="370.48" y="254.89" width="3.16" height="15.36" fill="#287C8E"/>
<rect x="371.61" y="256.67" width="0.9" height="12.58" fill="#fff" opacity="0.36"/>
<path d="M372.06,255.39 V253.69 M370.71,253.69 H373.41" stroke="#287C8E" stroke-width="1" fill="none"/>
<rect x="373.64" y="254.97" width="3.16" height="15.28" fill="#287C8E"/>
<rect x="374.77" y="257.74" width="0.9" height="11.51" fill="#fff" opacity="0.36"/>
<path d="M375.22,255.47 V252.85 M373.87,252.85 H376.57" stroke="#287C8E" stroke-width="1" fill="none"/>
<rect x="376.80" y="256.96" width="3.16" height="13.29" fill="#287C8E"/>
<rect x="377.93" y="259.69" width="0.9" height="9.56" fill="#fff" opacity="0.36"/>
<path d="M378.38,257.46 V255.14 M377.03,255.14 H379.73" stroke="#287C8E" stroke-width="1" fill="none"/>
<rect x="379.96" y="257.47" width="3.16" height="12.78" fill="#287C8E"/>
<rect x="381.09" y="259.81" width="0.9" height="9.44" fill="#fff" opacity="0.36"/>
<path d="M381.54,257.97 V255.96 M380.19,255.96 H382.89" stroke="#287C8E" stroke-width="1" fill="none"/>
<rect x="383.12" y="257.24" width="3.16" height="13.01" fill="#287C8E"/>
<rect x="384.25" y="260.29" width="0.9" height="8.96" fill="#fff" opacity="0.36"/>
<path d="M384.70,257.74 V255.69 M383.35,255.69 H386.05" stroke="#287C8E" stroke-width="1" fill="none"/>
<rect x="386.28" y="258.48" width="3.16" height="11.77" fill="#287C8E"/>
<rect x="387.41" y="261.35" width="0.9" height="7.90" fill="#fff" opacity="0.36"/>
<path d="M387.86,258.98 V257.51 M386.51,257.51 H389.21" stroke="#287C8E" stroke-width="1" fill="none"/>
<rect x="389.44" y="259.33" width="3.16" height="10.92" fill="#287C8E"/>
<rect x="390.57" y="262.22" width="0.9" height="7.03" fill="#fff" opacity="0.36"/>
<path d="M391.02,259.83 V258.01 M389.67,258.01 H392.37" stroke="#287C8E" stroke-width="1" fill="none"/>
<rect x="392.60" y="261.03" width="3.16" height="9.22" fill="#287C8E"/>
<rect x="393.73" y="263.87" width="0.9" height="5.38" fill="#fff" opacity="0.36"/>
<path d="M394.18,261.53 V259.52 M392.83,259.52 H395.53" stroke="#287C8E" stroke-width="1" fill="none"/>
<rect x="395.76" y="260.42" width="3.16" height="9.83" fill="#287C8E"/>
<rect x="396.89" y="263.51" width="0.9" height="5.74" fill="#fff" opacity="0.36"/>
<path d="M397.34,260.92 V258.83 M395.99,258.83 H398.69" stroke="#287C8E" stroke-width="1" fill="none"/>
<rect x="398.92" y="261.43" width="3.16" height="8.82" fill="#287C8E"/>
<rect x="400.05" y="264.16" width="0.9" height="5.09" fill="#fff" opacity="0.36"/>
<path d="M400.50,261.93 V259.21 M399.15,259.21 H401.85" stroke="#287C8E" stroke-width="1" fill="none"/>
<rect x="402.08" y="262.10" width="3.16" height="8.15" fill="#287C8E"/>
<rect x="403.21" y="264.60" width="0.9" height="4.65" fill="#fff" opacity="0.36"/>
<path d="M403.66,262.60 V259.76 M402.31,259.76 H405.01" stroke="#287C8E" stroke-width="1" fill="none"/>
<rect x="405.24" y="261.31" width="3.16" height="8.94" fill="#287C8E"/>
<rect x="406.37" y="264.09" width="0.9" height="5.16" fill="#fff" opacity="0.36"/>
<path d="M406.82,261.81 V259.95 M405.47,259.95 H408.17" stroke="#287C8E" stroke-width="1" fill="none"/>
<rect x="408.40" y="261.91" width="3.16" height="8.34" fill="#287C8E"/>
<rect x="409.53" y="264.30" width="0.9" height="4.95" fill="#fff" opacity="0.36"/>
<path d="M409.98,262.41 V260.82 M408.63,260.82 H411.33" stroke="#287C8E" stroke-width="1" fill="none"/>
<rect x="411.56" y="264.34" width="3.16" height="5.91" fill="#287C8E"/>
<rect x="412.69" y="266.06" width="0.9" height="3.19" fill="#fff" opacity="0.36"/>
<path d="M413.14,264.84 V262.21 M411.79,262.21 H414.49" stroke="#287C8E" stroke-width="1" fill="none"/>
<rect x="414.72" y="264.54" width="3.16" height="5.71" fill="#287C8E"/>
<rect x="415.85" y="266.19" width="0.9" height="3.06" fill="#fff" opacity="0.36"/>
<path d="M416.30,265.04 V263.32 M414.95,263.32 H417.65" stroke="#287C8E" stroke-width="1" fill="none"/>
<rect x="417.88" y="265.17" width="3.16" height="5.08" fill="#287C8E"/>
<rect x="419.01" y="266.60" width="0.9" height="2.65" fill="#fff" opacity="0.36"/>
<path d="M419.46,265.67 V263.01 M418.11,263.01 H420.81" stroke="#287C8E" stroke-width="1" fill="none"/>
<rect x="421.04" y="265.15" width="3.16" height="5.10" fill="#287C8E"/>
<rect x="422.17" y="266.59" width="0.9" height="2.66" fill="#fff" opacity="0.36"/>
<path d="M422.62,265.65 V262.98 M421.27,262.98 H423.97" stroke="#287C8E" stroke-width="1" fill="none"/>
<rect x="424.20" y="263.45" width="3.16" height="6.80" fill="#287C8E"/>
<rect x="425.33" y="265.48" width="0.9" height="3.77" fill="#fff" opacity="0.36"/>
<path d="M425.78,263.95 V262.30 M424.43,262.30 H427.13" stroke="#287C8E" stroke-width="1" fill="none"/>
<rect x="427.36" y="263.15" width="3.16" height="7.10" fill="#287C8E"/>
<rect x="428.49" y="265.28" width="0.9" height="3.97" fill="#fff" opacity="0.36"/>
<path d="M428.94,263.65 V261.92 M427.59,261.92 H430.29" stroke="#287C8E" stroke-width="1" fill="none"/>
<rect x="430.52" y="266.04" width="3.16" height="4.21" fill="#287C8E"/>
<rect x="431.65" y="267.16" width="0.9" height="2.09" fill="#fff" opacity="0.36"/>
<path d="M432.10,266.54 V264.17 M430.75,264.17 H433.45" stroke="#287C8E" stroke-width="1" fill="none"/>
<rect x="433.68" y="266.58" width="3.16" height="3.67" fill="#287C8E"/>
<rect x="436.84" y="268.18" width="3.16" height="2.07" fill="#287C8E"/>
<rect x="443.16" y="267.45" width="3.16" height="2.80" fill="#287C8E"/>
<rect x="446.32" y="268.68" width="3.16" height="1.57" fill="#287C8E"/>
<rect x="449.48" y="268.34" width="3.16" height="1.91" fill="#287C8E"/>
<rect x="452.64" y="267.96" width="3.16" height="2.29" fill="#287C8E"/>
<path d="M454.22,268.46 V265.80 M452.87,265.80 H455.57" stroke="#287C8E" stroke-width="1" fill="none"/>
<rect x="455.80" y="267.28" width="3.16" height="2.97" fill="#287C8E"/>
<rect x="458.96" y="266.41" width="3.16" height="3.84" fill="#287C8E"/>
<rect x="462.12" y="267.30" width="3.16" height="2.95" fill="#287C8E"/>
<rect x="465.28" y="267.49" width="3.16" height="2.76" fill="#287C8E"/>
<rect x="471.60" y="268.15" width="3.16" height="2.10" fill="#287C8E"/>
<rect x="474.76" y="266.89" width="3.16" height="3.36" fill="#287C8E"/>
<rect x="477.92" y="267.41" width="3.16" height="2.84" fill="#287C8E"/>
<rect x="481.08" y="268.37" width="3.16" height="1.88" fill="#287C8E"/>
<rect x="442.60" y="264.05" width="3.16" height="6.20" fill="#287C8E"/>
<rect x="443.73" y="265.87" width="0.9" height="3.38" fill="#fff" opacity="0.36"/>
<path d="M444.18,264.55 V262.58 M442.83,262.58 H445.53" stroke="#287C8E" stroke-width="1" fill="none"/>
<rect x="458.94" y="266.55" width="3.16" height="3.70" fill="#287C8E"/>
<path d="M460.52,267.05 V264.13 M459.17,264.13 H461.87" stroke="#287C8E" stroke-width="1" fill="none"/>
<rect x="480.84" y="262.55" width="3.16" height="7.70" fill="#287C8E"/>
<rect x="481.97" y="264.89" width="0.9" height="4.36" fill="#fff" opacity="0.36"/>
<path d="M482.42,263.05 V260.47 M481.07,260.47 H483.77" stroke="#287C8E" stroke-width="1" fill="none"/>
</g>
<rect x="320.3" y="230.04999999999998" width="167.5" height="39.2" fill="none" stroke="#7a7a7a" stroke-width="0.9"/>
<line x1="487.8" y1="229.64999999999998" x2="487.8" y2="269.65" stroke="#555" stroke-width="1.3"/>
<rect x="488.40000000000003" y="230.04999999999998" width="16.80" height="39.2" fill="#fff" stroke="#8a8a8a" stroke-width="0.8"/>
<text transform="translate(493.6,249.65) rotate(90)" font-size="9.2" text-anchor="middle" fill="#1a1a1a">50</text>
<line x1="317.3" y1="232.35" x2="320.3" y2="232.35" stroke="#555" stroke-width="0.9"/>
<text x="315.0" y="235.10" font-size="7.8" text-anchor="end" fill="#333">1000</text>
<line x1="317.3" y1="245.15" x2="320.3" y2="245.15" stroke="#555" stroke-width="0.9"/>
<text x="315.0" y="247.90" font-size="7.8" text-anchor="end" fill="#333">100</text>
<line x1="317.3" y1="257.95" x2="320.3" y2="257.95" stroke="#555" stroke-width="0.9"/>
<text x="315.0" y="260.70" font-size="7.8" text-anchor="end" fill="#333">10</text>
<rect x="320.3" y="275.78" width="167.5" height="39.2" fill="#fff"/>
<line x1="328.00" y1="275.78" x2="328.00" y2="314.97999999999996" stroke="#e6e6e6" stroke-width="1"/>
<line x1="356.50" y1="275.78" x2="356.50" y2="314.97999999999996" stroke="#f1f1f1" stroke-width="0.7"/>
<line x1="385.00" y1="275.78" x2="385.00" y2="314.97999999999996" stroke="#e6e6e6" stroke-width="1"/>
<line x1="413.50" y1="275.78" x2="413.50" y2="314.97999999999996" stroke="#f1f1f1" stroke-width="0.7"/>
<line x1="442.00" y1="275.78" x2="442.00" y2="314.97999999999996" stroke="#e6e6e6" stroke-width="1"/>
<line x1="470.50" y1="275.78" x2="470.50" y2="314.97999999999996" stroke="#f1f1f1" stroke-width="0.7"/>
<line x1="320.3" y1="278.08" x2="487.8" y2="278.08" stroke="#e6e6e6" stroke-width="1"/>
<line x1="320.3" y1="284.48" x2="487.8" y2="284.48" stroke="#f1f1f1" stroke-width="0.7"/>
<line x1="320.3" y1="290.88" x2="487.8" y2="290.88" stroke="#e6e6e6" stroke-width="1"/>
<line x1="320.3" y1="297.28" x2="487.8" y2="297.28" stroke="#f1f1f1" stroke-width="0.7"/>
<line x1="320.3" y1="303.68" x2="487.8" y2="303.68" stroke="#e6e6e6" stroke-width="1"/>
<line x1="320.3" y1="310.08" x2="487.8" y2="310.08" stroke="#f1f1f1" stroke-width="0.7"/>
<g clip-path="url(#cp6)">
<rect x="332.52" y="313.98" width="3.16" height="2.00" fill="#21908C"/>
<rect x="335.72" y="289.84" width="3.16" height="26.14" fill="#21908C"/>
<rect x="336.85" y="292.73" width="0.9" height="22.25" fill="#fff" opacity="0.36"/>
<path d="M337.30,290.34 V287.61 M335.95,287.61 H338.65" stroke="#21908C" stroke-width="1" fill="none"/>
<rect x="338.88" y="289.33" width="3.16" height="26.65" fill="#21908C"/>
<rect x="340.01" y="292.81" width="0.9" height="22.17" fill="#fff" opacity="0.36"/>
<path d="M340.46,289.83 V287.65 M339.11,287.65 H341.81" stroke="#21908C" stroke-width="1" fill="none"/>
<rect x="342.04" y="291.08" width="3.16" height="24.90" fill="#21908C"/>
<rect x="343.17" y="293.32" width="0.9" height="21.66" fill="#fff" opacity="0.36"/>
<path d="M343.62,291.58 V289.83 M342.27,289.83 H344.97" stroke="#21908C" stroke-width="1" fill="none"/>
<rect x="345.20" y="292.58" width="3.16" height="23.40" fill="#21908C"/>
<rect x="346.33" y="294.77" width="0.9" height="20.21" fill="#fff" opacity="0.36"/>
<path d="M346.78,293.08 V291.00 M345.43,291.00 H348.13" stroke="#21908C" stroke-width="1" fill="none"/>
<rect x="348.36" y="293.99" width="3.16" height="21.99" fill="#21908C"/>
<rect x="349.49" y="295.74" width="0.9" height="19.24" fill="#fff" opacity="0.36"/>
<path d="M349.94,294.49 V293.04 M348.59,293.04 H351.29" stroke="#21908C" stroke-width="1" fill="none"/>
<rect x="351.52" y="294.94" width="3.16" height="21.04" fill="#21908C"/>
<rect x="352.65" y="297.91" width="0.9" height="17.07" fill="#fff" opacity="0.36"/>
<path d="M353.10,295.44 V293.75 M351.75,293.75 H354.45" stroke="#21908C" stroke-width="1" fill="none"/>
<rect x="354.68" y="296.50" width="3.16" height="19.48" fill="#21908C"/>
<rect x="355.81" y="299.17" width="0.9" height="15.81" fill="#fff" opacity="0.36"/>
<path d="M356.26,297.00 V295.50 M354.91,295.50 H357.61" stroke="#21908C" stroke-width="1" fill="none"/>
<rect x="357.84" y="296.89" width="3.16" height="19.09" fill="#21908C"/>
<rect x="358.97" y="299.08" width="0.9" height="15.90" fill="#fff" opacity="0.36"/>
<path d="M359.42,297.39 V295.23 M358.07,295.23 H360.77" stroke="#21908C" stroke-width="1" fill="none"/>
<rect x="361.00" y="298.72" width="3.16" height="17.26" fill="#21908C"/>
<rect x="362.13" y="301.78" width="0.9" height="13.20" fill="#fff" opacity="0.36"/>
<path d="M362.58,299.22 V296.63 M361.23,296.63 H363.93" stroke="#21908C" stroke-width="1" fill="none"/>
<rect x="364.16" y="299.05" width="3.16" height="16.93" fill="#21908C"/>
<rect x="365.29" y="303.07" width="0.9" height="11.91" fill="#fff" opacity="0.36"/>
<path d="M365.74,299.55 V297.46 M364.39,297.46 H367.09" stroke="#21908C" stroke-width="1" fill="none"/>
<rect x="367.32" y="299.92" width="3.16" height="16.06" fill="#21908C"/>
<rect x="368.45" y="301.81" width="0.9" height="13.17" fill="#fff" opacity="0.36"/>
<path d="M368.90,300.42 V298.98 M367.55,298.98 H370.25" stroke="#21908C" stroke-width="1" fill="none"/>
<rect x="370.48" y="301.79" width="3.16" height="14.19" fill="#21908C"/>
<rect x="371.61" y="304.68" width="0.9" height="10.30" fill="#fff" opacity="0.36"/>
<path d="M372.06,302.29 V300.51 M370.71,300.51 H373.41" stroke="#21908C" stroke-width="1" fill="none"/>
<rect x="373.64" y="301.45" width="3.16" height="14.53" fill="#21908C"/>
<rect x="374.77" y="304.50" width="0.9" height="10.48" fill="#fff" opacity="0.36"/>
<path d="M375.22,301.95 V299.74 M373.87,299.74 H376.57" stroke="#21908C" stroke-width="1" fill="none"/>
<rect x="376.80" y="302.13" width="3.16" height="13.85" fill="#21908C"/>
<rect x="377.93" y="306.15" width="0.9" height="8.83" fill="#fff" opacity="0.36"/>
<path d="M378.38,302.63 V300.17 M377.03,300.17 H379.73" stroke="#21908C" stroke-width="1" fill="none"/>
<rect x="379.96" y="302.85" width="3.16" height="13.13" fill="#21908C"/>
<rect x="381.09" y="305.67" width="0.9" height="9.31" fill="#fff" opacity="0.36"/>
<path d="M381.54,303.35 V301.74 M380.19,301.74 H382.89" stroke="#21908C" stroke-width="1" fill="none"/>
<rect x="383.12" y="302.95" width="3.16" height="13.03" fill="#21908C"/>
<rect x="384.25" y="307.16" width="0.9" height="7.82" fill="#fff" opacity="0.36"/>
<path d="M384.70,303.45 V300.81 M383.35,300.81 H386.05" stroke="#21908C" stroke-width="1" fill="none"/>
<rect x="386.28" y="303.91" width="3.16" height="12.07" fill="#21908C"/>
<rect x="387.41" y="307.72" width="0.9" height="7.26" fill="#fff" opacity="0.36"/>
<path d="M387.86,304.41 V301.67 M386.51,301.67 H389.21" stroke="#21908C" stroke-width="1" fill="none"/>
<rect x="389.44" y="305.45" width="3.16" height="10.53" fill="#21908C"/>
<rect x="390.57" y="308.79" width="0.9" height="6.19" fill="#fff" opacity="0.36"/>
<path d="M391.02,305.95 V302.97 M389.67,302.97 H392.37" stroke="#21908C" stroke-width="1" fill="none"/>
<rect x="392.60" y="306.31" width="3.16" height="9.67" fill="#21908C"/>
<rect x="393.73" y="308.49" width="0.9" height="6.49" fill="#fff" opacity="0.36"/>
<path d="M394.18,306.81 V304.98 M392.83,304.98 H395.53" stroke="#21908C" stroke-width="1" fill="none"/>
<rect x="395.76" y="305.81" width="3.16" height="10.17" fill="#21908C"/>
<rect x="396.89" y="308.75" width="0.9" height="6.23" fill="#fff" opacity="0.36"/>
<path d="M397.34,306.31 V303.52 M395.99,303.52 H398.69" stroke="#21908C" stroke-width="1" fill="none"/>
<rect x="398.92" y="306.88" width="3.16" height="9.10" fill="#21908C"/>
<rect x="400.05" y="309.71" width="0.9" height="5.27" fill="#fff" opacity="0.36"/>
<path d="M400.50,307.38 V305.39 M399.15,305.39 H401.85" stroke="#21908C" stroke-width="1" fill="none"/>
<rect x="402.08" y="307.11" width="3.16" height="8.87" fill="#21908C"/>
<rect x="403.21" y="309.87" width="0.9" height="5.11" fill="#fff" opacity="0.36"/>
<path d="M403.66,307.61 V305.05 M402.31,305.05 H405.01" stroke="#21908C" stroke-width="1" fill="none"/>
<rect x="405.24" y="308.34" width="3.16" height="7.64" fill="#21908C"/>
<rect x="406.37" y="310.66" width="0.9" height="4.32" fill="#fff" opacity="0.36"/>
<path d="M406.82,308.84 V306.43 M405.47,306.43 H408.17" stroke="#21908C" stroke-width="1" fill="none"/>
<rect x="408.40" y="307.55" width="3.16" height="8.43" fill="#21908C"/>
<rect x="409.53" y="310.15" width="0.9" height="4.83" fill="#fff" opacity="0.36"/>
<path d="M409.98,308.05 V306.60 M408.63,306.60 H411.33" stroke="#21908C" stroke-width="1" fill="none"/>
<rect x="411.56" y="308.71" width="3.16" height="7.27" fill="#21908C"/>
<rect x="412.69" y="310.80" width="0.9" height="4.18" fill="#fff" opacity="0.36"/>
<path d="M413.14,309.21 V307.52 M411.79,307.52 H414.49" stroke="#21908C" stroke-width="1" fill="none"/>
<rect x="414.72" y="310.76" width="3.16" height="5.22" fill="#21908C"/>
<rect x="415.85" y="312.24" width="0.9" height="2.74" fill="#fff" opacity="0.36"/>
<path d="M416.30,311.26 V309.77 M414.95,309.77 H417.65" stroke="#21908C" stroke-width="1" fill="none"/>
<rect x="417.88" y="312.22" width="3.16" height="3.76" fill="#21908C"/>
<path d="M419.46,312.72 V309.79 M418.11,309.79 H420.81" stroke="#21908C" stroke-width="1" fill="none"/>
<rect x="421.04" y="310.29" width="3.16" height="5.69" fill="#21908C"/>
<rect x="422.17" y="311.93" width="0.9" height="3.05" fill="#fff" opacity="0.36"/>
<path d="M422.62,310.79 V307.74 M421.27,307.74 H423.97" stroke="#21908C" stroke-width="1" fill="none"/>
<rect x="424.20" y="310.55" width="3.16" height="5.43" fill="#21908C"/>
<rect x="425.33" y="312.10" width="0.9" height="2.88" fill="#fff" opacity="0.36"/>
<path d="M425.78,311.05 V308.28 M424.43,308.28 H427.13" stroke="#21908C" stroke-width="1" fill="none"/>
<rect x="427.36" y="311.39" width="3.16" height="4.59" fill="#21908C"/>
<rect x="428.49" y="312.65" width="0.9" height="2.33" fill="#fff" opacity="0.36"/>
<path d="M428.94,311.89 V308.89 M427.59,308.89 H430.29" stroke="#21908C" stroke-width="1" fill="none"/>
<rect x="430.52" y="310.80" width="3.16" height="5.18" fill="#21908C"/>
<rect x="431.65" y="312.26" width="0.9" height="2.72" fill="#fff" opacity="0.36"/>
<path d="M432.10,311.30 V309.38 M430.75,309.38 H433.45" stroke="#21908C" stroke-width="1" fill="none"/>
<rect x="433.68" y="314.32" width="3.16" height="1.66" fill="#21908C"/>
<path d="M435.26,314.82 V312.88 M433.91,312.88 H436.61" stroke="#21908C" stroke-width="1" fill="none"/>
<rect x="436.84" y="311.91" width="3.16" height="4.07" fill="#21908C"/>
<rect x="437.97" y="312.99" width="0.9" height="1.99" fill="#fff" opacity="0.36"/>
<rect x="440.00" y="313.55" width="3.16" height="2.43" fill="#21908C"/>
<rect x="443.16" y="313.73" width="3.16" height="2.25" fill="#21908C"/>
<rect x="446.32" y="313.18" width="3.16" height="2.80" fill="#21908C"/>
<rect x="449.48" y="312.78" width="3.16" height="3.20" fill="#21908C"/>
<rect x="452.64" y="312.97" width="3.16" height="3.01" fill="#21908C"/>
<rect x="455.80" y="313.67" width="3.16" height="2.31" fill="#21908C"/>
<rect x="458.96" y="312.70" width="3.16" height="3.28" fill="#21908C"/>
<rect x="462.12" y="313.64" width="3.16" height="2.34" fill="#21908C"/>
<path d="M463.70,314.14 V311.94 M462.35,311.94 H465.05" stroke="#21908C" stroke-width="1" fill="none"/>
<rect x="465.28" y="313.54" width="3.16" height="2.44" fill="#21908C"/>
<path d="M466.86,314.04 V312.19 M465.51,312.19 H468.21" stroke="#21908C" stroke-width="1" fill="none"/>
<rect x="468.44" y="313.44" width="3.16" height="2.54" fill="#21908C"/>
<rect x="474.76" y="314.18" width="3.16" height="1.80" fill="#21908C"/>
<rect x="477.92" y="312.65" width="3.16" height="3.33" fill="#21908C"/>
<path d="M479.50,313.15 V311.05 M478.15,311.05 H480.85" stroke="#21908C" stroke-width="1" fill="none"/>
<rect x="455.67" y="310.78" width="3.16" height="5.20" fill="#21908C"/>
<rect x="456.80" y="312.25" width="0.9" height="2.73" fill="#fff" opacity="0.36"/>
<path d="M457.25,311.28 V309.34 M455.90,309.34 H458.60" stroke="#21908C" stroke-width="1" fill="none"/>
<rect x="462.21" y="310.78" width="3.16" height="5.20" fill="#21908C"/>
<rect x="463.34" y="312.25" width="0.9" height="2.73" fill="#fff" opacity="0.36"/>
<path d="M463.79,311.28 V308.74 M462.44,308.74 H465.14" stroke="#21908C" stroke-width="1" fill="none"/>
<rect x="468.75" y="313.28" width="3.16" height="2.70" fill="#21908C"/>
<rect x="480.84" y="306.78" width="3.16" height="9.20" fill="#21908C"/>
<rect x="481.97" y="309.65" width="0.9" height="5.33" fill="#fff" opacity="0.36"/>
<path d="M482.42,307.28 V305.34 M481.07,305.34 H483.77" stroke="#21908C" stroke-width="1" fill="none"/>
</g>
<rect x="320.3" y="275.78" width="167.5" height="39.2" fill="none" stroke="#7a7a7a" stroke-width="0.9"/>
<line x1="487.8" y1="275.38" x2="487.8" y2="315.37999999999994" stroke="#555" stroke-width="1.3"/>
<rect x="488.40000000000003" y="275.78" width="16.80" height="39.2" fill="#fff" stroke="#8a8a8a" stroke-width="0.8"/>
<text transform="translate(493.6,295.38) rotate(90)" font-size="9.2" text-anchor="middle" fill="#1a1a1a">60</text>
<line x1="317.3" y1="278.08" x2="320.3" y2="278.08" stroke="#555" stroke-width="0.9"/>
<text x="315.0" y="280.83" font-size="7.8" text-anchor="end" fill="#333">1000</text>
<line x1="317.3" y1="290.88" x2="320.3" y2="290.88" stroke="#555" stroke-width="0.9"/>
<text x="315.0" y="293.63" font-size="7.8" text-anchor="end" fill="#333">100</text>
<line x1="317.3" y1="303.68" x2="320.3" y2="303.68" stroke="#555" stroke-width="0.9"/>
<text x="315.0" y="306.43" font-size="7.8" text-anchor="end" fill="#333">10</text>
<rect x="320.3" y="321.50999999999993" width="167.5" height="39.2" fill="#fff"/>
<line x1="328.00" y1="321.50999999999993" x2="328.00" y2="360.7099999999999" stroke="#e6e6e6" stroke-width="1"/>
<line x1="356.50" y1="321.50999999999993" x2="356.50" y2="360.7099999999999" stroke="#f1f1f1" stroke-width="0.7"/>
<line x1="385.00" y1="321.50999999999993" x2="385.00" y2="360.7099999999999" stroke="#e6e6e6" stroke-width="1"/>
<line x1="413.50" y1="321.50999999999993" x2="413.50" y2="360.7099999999999" stroke="#f1f1f1" stroke-width="0.7"/>
<line x1="442.00" y1="321.50999999999993" x2="442.00" y2="360.7099999999999" stroke="#e6e6e6" stroke-width="1"/>
<line x1="470.50" y1="321.50999999999993" x2="470.50" y2="360.7099999999999" stroke="#f1f1f1" stroke-width="0.7"/>
<line x1="320.3" y1="323.81" x2="487.8" y2="323.81" stroke="#e6e6e6" stroke-width="1"/>
<line x1="320.3" y1="330.21" x2="487.8" y2="330.21" stroke="#f1f1f1" stroke-width="0.7"/>
<line x1="320.3" y1="336.61" x2="487.8" y2="336.61" stroke="#e6e6e6" stroke-width="1"/>
<line x1="320.3" y1="343.01" x2="487.8" y2="343.01" stroke="#f1f1f1" stroke-width="0.7"/>
<line x1="320.3" y1="349.41" x2="487.8" y2="349.41" stroke="#e6e6e6" stroke-width="1"/>
<line x1="320.3" y1="355.81" x2="487.8" y2="355.81" stroke="#f1f1f1" stroke-width="0.7"/>
<g clip-path="url(#cp7)">
<rect x="332.52" y="359.71" width="3.16" height="2.00" fill="#20A486"/>
<rect x="335.72" y="338.34" width="3.16" height="23.37" fill="#20A486"/>
<rect x="336.85" y="342.11" width="0.9" height="18.60" fill="#fff" opacity="0.36"/>
<path d="M337.30,338.84 V336.41 M335.95,336.41 H338.65" stroke="#20A486" stroke-width="1" fill="none"/>
<rect x="338.88" y="338.33" width="3.16" height="23.38" fill="#20A486"/>
<rect x="340.01" y="341.75" width="0.9" height="18.96" fill="#fff" opacity="0.36"/>
<path d="M340.46,338.83 V337.25 M339.11,337.25 H341.81" stroke="#20A486" stroke-width="1" fill="none"/>
<rect x="342.04" y="340.36" width="3.16" height="21.35" fill="#20A486"/>
<rect x="343.17" y="344.39" width="0.9" height="16.32" fill="#fff" opacity="0.36"/>
<path d="M343.62,340.86 V338.45 M342.27,338.45 H344.97" stroke="#20A486" stroke-width="1" fill="none"/>
<rect x="345.20" y="341.95" width="3.16" height="19.76" fill="#20A486"/>
<rect x="346.33" y="344.20" width="0.9" height="16.51" fill="#fff" opacity="0.36"/>
<path d="M346.78,342.45 V340.70 M345.43,340.70 H348.13" stroke="#20A486" stroke-width="1" fill="none"/>
<rect x="348.36" y="343.03" width="3.16" height="18.68" fill="#20A486"/>
<rect x="349.49" y="345.49" width="0.9" height="15.22" fill="#fff" opacity="0.36"/>
<path d="M349.94,343.53 V341.34 M348.59,341.34 H351.29" stroke="#20A486" stroke-width="1" fill="none"/>
<rect x="351.52" y="343.68" width="3.16" height="18.03" fill="#20A486"/>
<rect x="352.65" y="346.73" width="0.9" height="13.98" fill="#fff" opacity="0.36"/>
<path d="M353.10,344.18 V342.65 M351.75,342.65 H354.45" stroke="#20A486" stroke-width="1" fill="none"/>
<rect x="354.68" y="344.33" width="3.16" height="17.38" fill="#20A486"/>
<rect x="355.81" y="348.13" width="0.9" height="12.58" fill="#fff" opacity="0.36"/>
<path d="M356.26,344.83 V342.60 M354.91,342.60 H357.61" stroke="#20A486" stroke-width="1" fill="none"/>
<rect x="357.84" y="345.58" width="3.16" height="16.13" fill="#20A486"/>
<rect x="358.97" y="348.94" width="0.9" height="11.77" fill="#fff" opacity="0.36"/>
<path d="M359.42,346.08 V343.74 M358.07,343.74 H360.77" stroke="#20A486" stroke-width="1" fill="none"/>
<rect x="361.00" y="347.61" width="3.16" height="14.10" fill="#20A486"/>
<rect x="362.13" y="351.39" width="0.9" height="9.32" fill="#fff" opacity="0.36"/>
<path d="M362.58,348.11 V345.99 M361.23,345.99 H363.93" stroke="#20A486" stroke-width="1" fill="none"/>
<rect x="364.16" y="349.08" width="3.16" height="12.63" fill="#20A486"/>
<rect x="365.29" y="352.61" width="0.9" height="8.10" fill="#fff" opacity="0.36"/>
<path d="M365.74,349.58 V347.15 M364.39,347.15 H367.09" stroke="#20A486" stroke-width="1" fill="none"/>
<rect x="367.32" y="350.53" width="3.16" height="11.18" fill="#20A486"/>
<rect x="368.45" y="353.09" width="0.9" height="7.62" fill="#fff" opacity="0.36"/>
<path d="M368.90,351.03 V349.04 M367.55,349.04 H370.25" stroke="#20A486" stroke-width="1" fill="none"/>
<rect x="370.48" y="351.15" width="3.16" height="10.56" fill="#20A486"/>
<rect x="371.61" y="353.45" width="0.9" height="7.26" fill="#fff" opacity="0.36"/>
<path d="M372.06,351.65 V349.68 M370.71,349.68 H373.41" stroke="#20A486" stroke-width="1" fill="none"/>
<rect x="373.64" y="350.70" width="3.16" height="11.01" fill="#20A486"/>
<rect x="374.77" y="352.28" width="0.9" height="8.43" fill="#fff" opacity="0.36"/>
<path d="M375.22,351.20 V349.66 M373.87,349.66 H376.57" stroke="#20A486" stroke-width="1" fill="none"/>
<rect x="376.80" y="352.08" width="3.16" height="9.63" fill="#20A486"/>
<rect x="377.93" y="355.05" width="0.9" height="5.66" fill="#fff" opacity="0.36"/>
<path d="M378.38,352.58 V350.90 M377.03,350.90 H379.73" stroke="#20A486" stroke-width="1" fill="none"/>
<rect x="379.96" y="353.31" width="3.16" height="8.40" fill="#20A486"/>
<rect x="381.09" y="355.90" width="0.9" height="4.81" fill="#fff" opacity="0.36"/>
<path d="M381.54,353.81 V351.18 M380.19,351.18 H382.89" stroke="#20A486" stroke-width="1" fill="none"/>
<rect x="383.12" y="353.55" width="3.16" height="8.16" fill="#20A486"/>
<rect x="384.25" y="356.06" width="0.9" height="4.65" fill="#fff" opacity="0.36"/>
<path d="M384.70,354.05 V350.98 M383.35,350.98 H386.05" stroke="#20A486" stroke-width="1" fill="none"/>
<rect x="386.28" y="354.22" width="3.16" height="7.49" fill="#20A486"/>
<rect x="387.41" y="356.49" width="0.9" height="4.22" fill="#fff" opacity="0.36"/>
<path d="M387.86,354.72 V351.73 M386.51,351.73 H389.21" stroke="#20A486" stroke-width="1" fill="none"/>
<rect x="389.44" y="354.36" width="3.16" height="7.35" fill="#20A486"/>
<rect x="390.57" y="356.58" width="0.9" height="4.13" fill="#fff" opacity="0.36"/>
<path d="M391.02,354.86 V352.75 M389.67,352.75 H392.37" stroke="#20A486" stroke-width="1" fill="none"/>
<rect x="392.60" y="354.72" width="3.16" height="6.99" fill="#20A486"/>
<rect x="393.73" y="356.82" width="0.9" height="3.89" fill="#fff" opacity="0.36"/>
<path d="M394.18,355.22 V352.29 M392.83,352.29 H395.53" stroke="#20A486" stroke-width="1" fill="none"/>
<rect x="395.76" y="353.70" width="3.16" height="8.01" fill="#20A486"/>
<rect x="396.89" y="356.15" width="0.9" height="4.56" fill="#fff" opacity="0.36"/>
<path d="M397.34,354.20 V351.97 M395.99,351.97 H398.69" stroke="#20A486" stroke-width="1" fill="none"/>
<rect x="398.92" y="354.44" width="3.16" height="7.27" fill="#20A486"/>
<rect x="400.05" y="356.64" width="0.9" height="4.07" fill="#fff" opacity="0.36"/>
<path d="M400.50,354.94 V352.85 M399.15,352.85 H401.85" stroke="#20A486" stroke-width="1" fill="none"/>
<rect x="402.08" y="356.57" width="3.16" height="5.14" fill="#20A486"/>
<rect x="403.21" y="358.02" width="0.9" height="2.69" fill="#fff" opacity="0.36"/>
<path d="M403.66,357.07 V354.10 M402.31,354.10 H405.01" stroke="#20A486" stroke-width="1" fill="none"/>
<rect x="405.24" y="355.19" width="3.16" height="6.52" fill="#20A486"/>
<rect x="406.37" y="357.12" width="0.9" height="3.59" fill="#fff" opacity="0.36"/>
<path d="M406.82,355.69 V352.70 M405.47,352.70 H408.17" stroke="#20A486" stroke-width="1" fill="none"/>
<rect x="408.40" y="355.30" width="3.16" height="6.41" fill="#20A486"/>
<rect x="409.53" y="357.19" width="0.9" height="3.52" fill="#fff" opacity="0.36"/>
<path d="M409.98,355.80 V354.23 M408.63,354.23 H411.33" stroke="#20A486" stroke-width="1" fill="none"/>
<rect x="411.56" y="356.82" width="3.16" height="4.89" fill="#20A486"/>
<rect x="412.69" y="358.18" width="0.9" height="2.53" fill="#fff" opacity="0.36"/>
<path d="M413.14,357.32 V355.42 M411.79,355.42 H414.49" stroke="#20A486" stroke-width="1" fill="none"/>
<rect x="414.72" y="357.25" width="3.16" height="4.46" fill="#20A486"/>
<rect x="415.85" y="358.46" width="0.9" height="2.25" fill="#fff" opacity="0.36"/>
<path d="M416.30,357.75 V355.26 M414.95,355.26 H417.65" stroke="#20A486" stroke-width="1" fill="none"/>
<rect x="417.88" y="357.17" width="3.16" height="4.54" fill="#20A486"/>
<rect x="419.01" y="358.41" width="0.9" height="2.30" fill="#fff" opacity="0.36"/>
<path d="M419.46,357.67 V355.00 M418.11,355.00 H420.81" stroke="#20A486" stroke-width="1" fill="none"/>
<rect x="421.04" y="357.95" width="3.16" height="3.76" fill="#20A486"/>
<path d="M422.62,358.45 V356.32 M421.27,356.32 H423.97" stroke="#20A486" stroke-width="1" fill="none"/>
<rect x="424.20" y="358.21" width="3.16" height="3.50" fill="#20A486"/>
<path d="M425.78,358.71 V356.05 M424.43,356.05 H427.13" stroke="#20A486" stroke-width="1" fill="none"/>
<rect x="427.36" y="358.86" width="3.16" height="2.85" fill="#20A486"/>
<path d="M428.94,359.36 V357.47 M427.59,357.47 H430.29" stroke="#20A486" stroke-width="1" fill="none"/>
<rect x="430.52" y="357.95" width="3.16" height="3.76" fill="#20A486"/>
<path d="M432.10,358.45 V356.55 M430.75,356.55 H433.45" stroke="#20A486" stroke-width="1" fill="none"/>
<rect x="433.68" y="357.53" width="3.16" height="4.18" fill="#20A486"/>
<rect x="434.81" y="358.65" width="0.9" height="2.06" fill="#fff" opacity="0.36"/>
<rect x="436.84" y="359.34" width="3.16" height="2.37" fill="#20A486"/>
<rect x="446.32" y="357.78" width="3.16" height="3.93" fill="#20A486"/>
<rect x="449.48" y="358.84" width="3.16" height="2.87" fill="#20A486"/>
<rect x="452.64" y="359.78" width="3.16" height="1.93" fill="#20A486"/>
<rect x="455.80" y="359.88" width="3.16" height="1.83" fill="#20A486"/>
<rect x="458.96" y="358.01" width="3.16" height="3.70" fill="#20A486"/>
<rect x="462.12" y="357.69" width="3.16" height="4.02" fill="#20A486"/>
<rect x="463.25" y="358.75" width="0.9" height="1.96" fill="#fff" opacity="0.36"/>
<rect x="465.28" y="357.79" width="3.16" height="3.92" fill="#20A486"/>
<path d="M466.86,358.29 V356.48 M465.51,356.48 H468.21" stroke="#20A486" stroke-width="1" fill="none"/>
<rect x="468.44" y="358.66" width="3.16" height="3.05" fill="#20A486"/>
<rect x="471.60" y="360.15" width="3.16" height="1.56" fill="#20A486"/>
<path d="M473.18,360.65 V358.87 M471.83,358.87 H474.53" stroke="#20A486" stroke-width="1" fill="none"/>
<rect x="474.76" y="358.56" width="3.16" height="3.15" fill="#20A486"/>
<rect x="477.92" y="358.89" width="3.16" height="2.82" fill="#20A486"/>
<path d="M479.50,359.39 V357.43 M478.15,357.43 H480.85" stroke="#20A486" stroke-width="1" fill="none"/>
<rect x="481.08" y="359.64" width="3.16" height="2.07" fill="#20A486"/>
<rect x="449.14" y="354.01" width="3.16" height="7.70" fill="#20A486"/>
<rect x="450.27" y="356.35" width="0.9" height="4.36" fill="#fff" opacity="0.36"/>
<path d="M450.72,354.51 V352.37 M449.37,352.37 H452.07" stroke="#20A486" stroke-width="1" fill="none"/>
<rect x="454.04" y="356.01" width="3.16" height="5.70" fill="#20A486"/>
<rect x="455.17" y="357.65" width="0.9" height="3.06" fill="#fff" opacity="0.36"/>
<path d="M455.62,356.51 V354.65 M454.27,354.65 H456.97" stroke="#20A486" stroke-width="1" fill="none"/>
<rect x="462.21" y="356.01" width="3.16" height="5.70" fill="#20A486"/>
<rect x="463.34" y="357.65" width="0.9" height="3.06" fill="#fff" opacity="0.36"/>
<path d="M463.79,356.51 V354.15 M462.44,354.15 H465.14" stroke="#20A486" stroke-width="1" fill="none"/>
<rect x="480.84" y="355.51" width="3.16" height="6.20" fill="#20A486"/>
<rect x="481.97" y="357.33" width="0.9" height="3.38" fill="#fff" opacity="0.36"/>
<path d="M482.42,356.01 V353.39 M481.07,353.39 H483.77" stroke="#20A486" stroke-width="1" fill="none"/>
</g>
<rect x="320.3" y="321.50999999999993" width="167.5" height="39.2" fill="none" stroke="#7a7a7a" stroke-width="0.9"/>
<line x1="487.8" y1="321.10999999999996" x2="487.8" y2="361.1099999999999" stroke="#555" stroke-width="1.3"/>
<rect x="488.40000000000003" y="321.50999999999993" width="16.80" height="39.2" fill="#fff" stroke="#8a8a8a" stroke-width="0.8"/>
<text transform="translate(493.6,341.11) rotate(90)" font-size="9.2" text-anchor="middle" fill="#1a1a1a">70</text>
<line x1="317.3" y1="323.81" x2="320.3" y2="323.81" stroke="#555" stroke-width="0.9"/>
<text x="315.0" y="326.56" font-size="7.8" text-anchor="end" fill="#333">1000</text>
<line x1="317.3" y1="336.61" x2="320.3" y2="336.61" stroke="#555" stroke-width="0.9"/>
<text x="315.0" y="339.36" font-size="7.8" text-anchor="end" fill="#333">100</text>
<line x1="317.3" y1="349.41" x2="320.3" y2="349.41" stroke="#555" stroke-width="0.9"/>
<text x="315.0" y="352.16" font-size="7.8" text-anchor="end" fill="#333">10</text>
<rect x="320.3" y="367.23999999999995" width="167.5" height="39.2" fill="#fff"/>
<line x1="328.00" y1="367.23999999999995" x2="328.00" y2="406.43999999999994" stroke="#e6e6e6" stroke-width="1"/>
<line x1="356.50" y1="367.23999999999995" x2="356.50" y2="406.43999999999994" stroke="#f1f1f1" stroke-width="0.7"/>
<line x1="385.00" y1="367.23999999999995" x2="385.00" y2="406.43999999999994" stroke="#e6e6e6" stroke-width="1"/>
<line x1="413.50" y1="367.23999999999995" x2="413.50" y2="406.43999999999994" stroke="#f1f1f1" stroke-width="0.7"/>
<line x1="442.00" y1="367.23999999999995" x2="442.00" y2="406.43999999999994" stroke="#e6e6e6" stroke-width="1"/>
<line x1="470.50" y1="367.23999999999995" x2="470.50" y2="406.43999999999994" stroke="#f1f1f1" stroke-width="0.7"/>
<line x1="320.3" y1="369.54" x2="487.8" y2="369.54" stroke="#e6e6e6" stroke-width="1"/>
<line x1="320.3" y1="375.94" x2="487.8" y2="375.94" stroke="#f1f1f1" stroke-width="0.7"/>
<line x1="320.3" y1="382.34" x2="487.8" y2="382.34" stroke="#e6e6e6" stroke-width="1"/>
<line x1="320.3" y1="388.74" x2="487.8" y2="388.74" stroke="#f1f1f1" stroke-width="0.7"/>
<line x1="320.3" y1="395.14" x2="487.8" y2="395.14" stroke="#e6e6e6" stroke-width="1"/>
<line x1="320.3" y1="401.54" x2="487.8" y2="401.54" stroke="#f1f1f1" stroke-width="0.7"/>
<g clip-path="url(#cp8)">
<rect x="332.52" y="405.44" width="3.16" height="2.00" fill="#35B779"/>
<rect x="335.72" y="388.02" width="3.16" height="19.42" fill="#35B779"/>
<rect x="336.85" y="391.54" width="0.9" height="14.90" fill="#fff" opacity="0.36"/>
<path d="M337.30,388.52 V386.85 M335.95,386.85 H338.65" stroke="#35B779" stroke-width="1" fill="none"/>
<rect x="338.88" y="386.81" width="3.16" height="20.63" fill="#35B779"/>
<rect x="340.01" y="390.80" width="0.9" height="15.64" fill="#fff" opacity="0.36"/>
<path d="M340.46,387.31 V385.02 M339.11,385.02 H341.81" stroke="#35B779" stroke-width="1" fill="none"/>
<rect x="342.04" y="389.65" width="3.16" height="17.79" fill="#35B779"/>
<rect x="343.17" y="392.86" width="0.9" height="13.58" fill="#fff" opacity="0.36"/>
<path d="M343.62,390.15 V387.31 M342.27,387.31 H344.97" stroke="#35B779" stroke-width="1" fill="none"/>
<rect x="345.20" y="392.06" width="3.16" height="15.38" fill="#35B779"/>
<rect x="346.33" y="396.97" width="0.9" height="9.47" fill="#fff" opacity="0.36"/>
<path d="M346.78,392.56 V389.58 M345.43,389.58 H348.13" stroke="#35B779" stroke-width="1" fill="none"/>
<rect x="348.36" y="393.28" width="3.16" height="14.16" fill="#35B779"/>
<rect x="349.49" y="396.41" width="0.9" height="10.03" fill="#fff" opacity="0.36"/>
<path d="M349.94,393.78 V392.33 M348.59,392.33 H351.29" stroke="#35B779" stroke-width="1" fill="none"/>
<rect x="351.52" y="394.90" width="3.16" height="12.54" fill="#35B779"/>
<rect x="352.65" y="397.57" width="0.9" height="8.87" fill="#fff" opacity="0.36"/>
<path d="M353.10,395.40 V393.07 M351.75,393.07 H354.45" stroke="#35B779" stroke-width="1" fill="none"/>
<rect x="354.68" y="396.06" width="3.16" height="11.38" fill="#35B779"/>
<rect x="355.81" y="398.47" width="0.9" height="7.97" fill="#fff" opacity="0.36"/>
<path d="M356.26,396.56 V394.68 M354.91,394.68 H357.61" stroke="#35B779" stroke-width="1" fill="none"/>
<rect x="357.84" y="397.37" width="3.16" height="10.07" fill="#35B779"/>
<rect x="358.97" y="400.55" width="0.9" height="5.89" fill="#fff" opacity="0.36"/>
<path d="M359.42,397.87 V394.93 M358.07,394.93 H360.77" stroke="#35B779" stroke-width="1" fill="none"/>
<rect x="361.00" y="397.17" width="3.16" height="10.27" fill="#35B779"/>
<rect x="362.13" y="399.81" width="0.9" height="6.63" fill="#fff" opacity="0.36"/>
<path d="M362.58,397.67 V395.13 M361.23,395.13 H363.93" stroke="#35B779" stroke-width="1" fill="none"/>
<rect x="364.16" y="398.29" width="3.16" height="9.15" fill="#35B779"/>
<rect x="365.29" y="401.14" width="0.9" height="5.30" fill="#fff" opacity="0.36"/>
<path d="M365.74,398.79 V396.51 M364.39,396.51 H367.09" stroke="#35B779" stroke-width="1" fill="none"/>
<rect x="367.32" y="399.86" width="3.16" height="7.58" fill="#35B779"/>
<rect x="368.45" y="402.16" width="0.9" height="4.28" fill="#fff" opacity="0.36"/>
<path d="M368.90,400.36 V397.33 M367.55,397.33 H370.25" stroke="#35B779" stroke-width="1" fill="none"/>
<rect x="370.48" y="400.16" width="3.16" height="7.28" fill="#35B779"/>
<rect x="371.61" y="402.36" width="0.9" height="4.08" fill="#fff" opacity="0.36"/>
<path d="M372.06,400.66 V398.93 M370.71,398.93 H373.41" stroke="#35B779" stroke-width="1" fill="none"/>
<rect x="373.64" y="400.93" width="3.16" height="6.51" fill="#35B779"/>
<rect x="374.77" y="402.86" width="0.9" height="3.58" fill="#fff" opacity="0.36"/>
<path d="M375.22,401.43 V399.72 M373.87,399.72 H376.57" stroke="#35B779" stroke-width="1" fill="none"/>
<rect x="376.80" y="400.18" width="3.16" height="7.26" fill="#35B779"/>
<rect x="377.93" y="402.37" width="0.9" height="4.07" fill="#fff" opacity="0.36"/>
<path d="M378.38,400.68 V397.87 M377.03,397.87 H379.73" stroke="#35B779" stroke-width="1" fill="none"/>
<rect x="379.96" y="399.53" width="3.16" height="7.91" fill="#35B779"/>
<rect x="381.09" y="401.95" width="0.9" height="4.49" fill="#fff" opacity="0.36"/>
<path d="M381.54,400.03 V398.17 M380.19,398.17 H382.89" stroke="#35B779" stroke-width="1" fill="none"/>
<rect x="383.12" y="400.35" width="3.16" height="7.09" fill="#35B779"/>
<rect x="384.25" y="402.48" width="0.9" height="3.96" fill="#fff" opacity="0.36"/>
<path d="M384.70,400.85 V397.84 M383.35,397.84 H386.05" stroke="#35B779" stroke-width="1" fill="none"/>
<rect x="386.28" y="400.69" width="3.16" height="6.75" fill="#35B779"/>
<rect x="387.41" y="402.70" width="0.9" height="3.74" fill="#fff" opacity="0.36"/>
<path d="M387.86,401.19 V399.12 M386.51,399.12 H389.21" stroke="#35B779" stroke-width="1" fill="none"/>
<rect x="389.44" y="401.28" width="3.16" height="6.16" fill="#35B779"/>
<rect x="390.57" y="403.08" width="0.9" height="3.36" fill="#fff" opacity="0.36"/>
<path d="M391.02,401.78 V400.15 M389.67,400.15 H392.37" stroke="#35B779" stroke-width="1" fill="none"/>
<rect x="392.60" y="401.59" width="3.16" height="5.85" fill="#35B779"/>
<rect x="393.73" y="403.29" width="0.9" height="3.15" fill="#fff" opacity="0.36"/>
<path d="M394.18,402.09 V399.02 M392.83,399.02 H395.53" stroke="#35B779" stroke-width="1" fill="none"/>
<rect x="395.76" y="401.35" width="3.16" height="6.09" fill="#35B779"/>
<rect x="396.89" y="403.13" width="0.9" height="3.31" fill="#fff" opacity="0.36"/>
<path d="M397.34,401.85 V400.06 M395.99,400.06 H398.69" stroke="#35B779" stroke-width="1" fill="none"/>
<rect x="398.92" y="401.52" width="3.16" height="5.92" fill="#35B779"/>
<rect x="400.05" y="403.24" width="0.9" height="3.20" fill="#fff" opacity="0.36"/>
<path d="M400.50,402.02 V400.48 M399.15,400.48 H401.85" stroke="#35B779" stroke-width="1" fill="none"/>
<rect x="402.08" y="401.98" width="3.16" height="5.46" fill="#35B779"/>
<rect x="403.21" y="403.54" width="0.9" height="2.90" fill="#fff" opacity="0.36"/>
<path d="M403.66,402.48 V399.81 M402.31,399.81 H405.01" stroke="#35B779" stroke-width="1" fill="none"/>
<rect x="405.24" y="402.41" width="3.16" height="5.03" fill="#35B779"/>
<rect x="406.37" y="403.82" width="0.9" height="2.62" fill="#fff" opacity="0.36"/>
<path d="M406.82,402.91 V400.44 M405.47,400.44 H408.17" stroke="#35B779" stroke-width="1" fill="none"/>
<rect x="408.40" y="402.38" width="3.16" height="5.06" fill="#35B779"/>
<rect x="409.53" y="403.80" width="0.9" height="2.64" fill="#fff" opacity="0.36"/>
<path d="M409.98,402.88 V401.48 M408.63,401.48 H411.33" stroke="#35B779" stroke-width="1" fill="none"/>
<rect x="411.56" y="401.63" width="3.16" height="5.81" fill="#35B779"/>
<rect x="412.69" y="403.32" width="0.9" height="3.12" fill="#fff" opacity="0.36"/>
<path d="M413.14,402.13 V399.10 M411.79,399.10 H414.49" stroke="#35B779" stroke-width="1" fill="none"/>
<rect x="414.72" y="400.24" width="3.16" height="7.20" fill="#35B779"/>
<rect x="415.85" y="402.41" width="0.9" height="4.03" fill="#fff" opacity="0.36"/>
<path d="M416.30,400.74 V398.89 M414.95,398.89 H417.65" stroke="#35B779" stroke-width="1" fill="none"/>
<rect x="417.88" y="401.09" width="3.16" height="6.35" fill="#35B779"/>
<rect x="419.01" y="402.96" width="0.9" height="3.48" fill="#fff" opacity="0.36"/>
<path d="M419.46,401.59 V399.73 M418.11,399.73 H420.81" stroke="#35B779" stroke-width="1" fill="none"/>
<rect x="421.04" y="403.11" width="3.16" height="4.33" fill="#35B779"/>
<rect x="422.17" y="404.27" width="0.9" height="2.17" fill="#fff" opacity="0.36"/>
<path d="M422.62,403.61 V402.13 M421.27,402.13 H423.97" stroke="#35B779" stroke-width="1" fill="none"/>
<rect x="424.20" y="403.45" width="3.16" height="3.99" fill="#35B779"/>
<path d="M425.78,403.95 V400.92 M424.43,400.92 H427.13" stroke="#35B779" stroke-width="1" fill="none"/>
<rect x="427.36" y="403.74" width="3.16" height="3.70" fill="#35B779"/>
<path d="M428.94,404.24 V401.30 M427.59,401.30 H430.29" stroke="#35B779" stroke-width="1" fill="none"/>
<rect x="430.52" y="403.79" width="3.16" height="3.65" fill="#35B779"/>
<path d="M432.10,404.29 V401.20 M430.75,401.20 H433.45" stroke="#35B779" stroke-width="1" fill="none"/>
<rect x="433.68" y="404.92" width="3.16" height="2.52" fill="#35B779"/>
<rect x="436.84" y="405.24" width="3.16" height="2.20" fill="#35B779"/>
<rect x="440.00" y="405.43" width="3.16" height="2.01" fill="#35B779"/>
<rect x="443.16" y="405.83" width="3.16" height="1.61" fill="#35B779"/>
<rect x="446.32" y="403.35" width="3.16" height="4.09" fill="#35B779"/>
<rect x="447.45" y="404.43" width="0.9" height="2.01" fill="#fff" opacity="0.36"/>
<rect x="452.64" y="403.42" width="3.16" height="4.02" fill="#35B779"/>
<rect x="453.77" y="404.48" width="0.9" height="1.96" fill="#fff" opacity="0.36"/>
<rect x="455.80" y="404.06" width="3.16" height="3.38" fill="#35B779"/>
<rect x="458.96" y="403.60" width="3.16" height="3.84" fill="#35B779"/>
<rect x="468.44" y="404.07" width="3.16" height="3.37" fill="#35B779"/>
<rect x="471.60" y="405.08" width="3.16" height="2.36" fill="#35B779"/>
<rect x="474.76" y="404.04" width="3.16" height="3.40" fill="#35B779"/>
<rect x="477.92" y="404.69" width="3.16" height="2.75" fill="#35B779"/>
<rect x="481.08" y="404.32" width="3.16" height="3.12" fill="#35B779"/>
<rect x="414.83" y="400.24" width="3.16" height="7.20" fill="#35B779"/>
<rect x="415.96" y="402.41" width="0.9" height="4.03" fill="#fff" opacity="0.36"/>
<path d="M416.41,400.74 V397.86 M415.06,397.86 H417.76" stroke="#35B779" stroke-width="1" fill="none"/>
<rect x="458.94" y="402.24" width="3.16" height="5.20" fill="#35B779"/>
<rect x="460.07" y="403.71" width="0.9" height="2.73" fill="#fff" opacity="0.36"/>
<path d="M460.52,402.74 V400.68 M459.17,400.68 H461.87" stroke="#35B779" stroke-width="1" fill="none"/>
<rect x="480.84" y="398.74" width="3.16" height="8.70" fill="#35B779"/>
<rect x="481.97" y="401.43" width="0.9" height="5.00" fill="#fff" opacity="0.36"/>
<path d="M482.42,399.24 V396.67 M481.07,396.67 H483.77" stroke="#35B779" stroke-width="1" fill="none"/>
</g>
<rect x="320.3" y="367.23999999999995" width="167.5" height="39.2" fill="none" stroke="#7a7a7a" stroke-width="0.9"/>
<line x1="487.8" y1="366.84" x2="487.8" y2="406.8399999999999" stroke="#555" stroke-width="1.3"/>
<rect x="488.40000000000003" y="367.23999999999995" width="16.80" height="39.2" fill="#fff" stroke="#8a8a8a" stroke-width="0.8"/>
<text transform="translate(493.6,386.84) rotate(90)" font-size="9.2" text-anchor="middle" fill="#1a1a1a">80</text>
<line x1="317.3" y1="369.54" x2="320.3" y2="369.54" stroke="#555" stroke-width="0.9"/>
<text x="315.0" y="372.29" font-size="7.8" text-anchor="end" fill="#333">1000</text>
<line x1="317.3" y1="382.34" x2="320.3" y2="382.34" stroke="#555" stroke-width="0.9"/>
<text x="315.0" y="385.09" font-size="7.8" text-anchor="end" fill="#333">100</text>
<line x1="317.3" y1="395.14" x2="320.3" y2="395.14" stroke="#555" stroke-width="0.9"/>
<text x="315.0" y="397.89" font-size="7.8" text-anchor="end" fill="#333">10</text>
<rect x="320.3" y="412.96999999999997" width="167.5" height="39.2" fill="#fff"/>
<line x1="328.00" y1="412.96999999999997" x2="328.00" y2="452.16999999999996" stroke="#e6e6e6" stroke-width="1"/>
<line x1="356.50" y1="412.96999999999997" x2="356.50" y2="452.16999999999996" stroke="#f1f1f1" stroke-width="0.7"/>
<line x1="385.00" y1="412.96999999999997" x2="385.00" y2="452.16999999999996" stroke="#e6e6e6" stroke-width="1"/>
<line x1="413.50" y1="412.96999999999997" x2="413.50" y2="452.16999999999996" stroke="#f1f1f1" stroke-width="0.7"/>
<line x1="442.00" y1="412.96999999999997" x2="442.00" y2="452.16999999999996" stroke="#e6e6e6" stroke-width="1"/>
<line x1="470.50" y1="412.96999999999997" x2="470.50" y2="452.16999999999996" stroke="#f1f1f1" stroke-width="0.7"/>
<line x1="320.3" y1="415.27" x2="487.8" y2="415.27" stroke="#e6e6e6" stroke-width="1"/>
<line x1="320.3" y1="421.67" x2="487.8" y2="421.67" stroke="#f1f1f1" stroke-width="0.7"/>
<line x1="320.3" y1="428.07" x2="487.8" y2="428.07" stroke="#e6e6e6" stroke-width="1"/>
<line x1="320.3" y1="434.47" x2="487.8" y2="434.47" stroke="#f1f1f1" stroke-width="0.7"/>
<line x1="320.3" y1="440.87" x2="487.8" y2="440.87" stroke="#e6e6e6" stroke-width="1"/>
<line x1="320.3" y1="447.27" x2="487.8" y2="447.27" stroke="#f1f1f1" stroke-width="0.7"/>
<g clip-path="url(#cp9)">
<rect x="332.52" y="451.17" width="3.16" height="2.00" fill="#5DC863"/>
<rect x="335.72" y="436.25" width="3.16" height="16.92" fill="#5DC863"/>
<rect x="336.85" y="439.64" width="0.9" height="12.53" fill="#fff" opacity="0.36"/>
<path d="M337.30,436.75 V433.93 M335.95,433.93 H338.65" stroke="#5DC863" stroke-width="1" fill="none"/>
<rect x="338.88" y="435.13" width="3.16" height="18.04" fill="#5DC863"/>
<rect x="340.01" y="440.15" width="0.9" height="12.02" fill="#fff" opacity="0.36"/>
<path d="M340.46,435.63 V432.57 M339.11,432.57 H341.81" stroke="#5DC863" stroke-width="1" fill="none"/>
<rect x="342.04" y="437.17" width="3.16" height="16.00" fill="#5DC863"/>
<rect x="343.17" y="440.10" width="0.9" height="12.07" fill="#fff" opacity="0.36"/>
<path d="M343.62,437.67 V436.06 M342.27,436.06 H344.97" stroke="#5DC863" stroke-width="1" fill="none"/>
<rect x="345.20" y="439.32" width="3.16" height="13.85" fill="#5DC863"/>
<rect x="346.33" y="443.02" width="0.9" height="9.15" fill="#fff" opacity="0.36"/>
<path d="M346.78,439.82 V437.18 M345.43,437.18 H348.13" stroke="#5DC863" stroke-width="1" fill="none"/>
<rect x="348.36" y="440.78" width="3.16" height="12.39" fill="#5DC863"/>
<rect x="349.49" y="443.69" width="0.9" height="8.48" fill="#fff" opacity="0.36"/>
<path d="M349.94,441.28 V438.79 M348.59,438.79 H351.29" stroke="#5DC863" stroke-width="1" fill="none"/>
<rect x="351.52" y="442.12" width="3.16" height="11.05" fill="#5DC863"/>
<rect x="352.65" y="445.64" width="0.9" height="6.53" fill="#fff" opacity="0.36"/>
<path d="M353.10,442.62 V439.58 M351.75,439.58 H354.45" stroke="#5DC863" stroke-width="1" fill="none"/>
<rect x="354.68" y="443.58" width="3.16" height="9.59" fill="#5DC863"/>
<rect x="355.81" y="446.59" width="0.9" height="5.58" fill="#fff" opacity="0.36"/>
<path d="M356.26,444.08 V441.87 M354.91,441.87 H357.61" stroke="#5DC863" stroke-width="1" fill="none"/>
<rect x="357.84" y="444.78" width="3.16" height="8.39" fill="#5DC863"/>
<rect x="358.97" y="447.37" width="0.9" height="4.80" fill="#fff" opacity="0.36"/>
<path d="M359.42,445.28 V442.39 M358.07,442.39 H360.77" stroke="#5DC863" stroke-width="1" fill="none"/>
<rect x="361.00" y="446.45" width="3.16" height="6.72" fill="#5DC863"/>
<rect x="362.13" y="448.45" width="0.9" height="3.72" fill="#fff" opacity="0.36"/>
<path d="M362.58,446.95 V444.65 M361.23,444.65 H363.93" stroke="#5DC863" stroke-width="1" fill="none"/>
<rect x="364.16" y="446.19" width="3.16" height="6.98" fill="#5DC863"/>
<rect x="365.29" y="448.28" width="0.9" height="3.89" fill="#fff" opacity="0.36"/>
<path d="M365.74,446.69 V444.24 M364.39,444.24 H367.09" stroke="#5DC863" stroke-width="1" fill="none"/>
<rect x="367.32" y="445.67" width="3.16" height="7.50" fill="#5DC863"/>
<rect x="368.45" y="447.94" width="0.9" height="4.23" fill="#fff" opacity="0.36"/>
<path d="M368.90,446.17 V444.04 M367.55,444.04 H370.25" stroke="#5DC863" stroke-width="1" fill="none"/>
<rect x="370.48" y="447.81" width="3.16" height="5.36" fill="#5DC863"/>
<rect x="371.61" y="449.34" width="0.9" height="2.83" fill="#fff" opacity="0.36"/>
<path d="M372.06,448.31 V445.59 M370.71,445.59 H373.41" stroke="#5DC863" stroke-width="1" fill="none"/>
<rect x="373.64" y="447.19" width="3.16" height="5.98" fill="#5DC863"/>
<rect x="374.77" y="448.94" width="0.9" height="3.23" fill="#fff" opacity="0.36"/>
<path d="M375.22,447.69 V444.84 M373.87,444.84 H376.57" stroke="#5DC863" stroke-width="1" fill="none"/>
<rect x="376.80" y="447.26" width="3.16" height="5.91" fill="#5DC863"/>
<rect x="377.93" y="448.98" width="0.9" height="3.19" fill="#fff" opacity="0.36"/>
<path d="M378.38,447.76 V444.69 M377.03,444.69 H379.73" stroke="#5DC863" stroke-width="1" fill="none"/>
<rect x="379.96" y="446.57" width="3.16" height="6.60" fill="#5DC863"/>
<rect x="381.09" y="448.53" width="0.9" height="3.64" fill="#fff" opacity="0.36"/>
<path d="M381.54,447.07 V445.31 M380.19,445.31 H382.89" stroke="#5DC863" stroke-width="1" fill="none"/>
<rect x="383.12" y="446.54" width="3.16" height="6.63" fill="#5DC863"/>
<rect x="384.25" y="448.51" width="0.9" height="3.66" fill="#fff" opacity="0.36"/>
<path d="M384.70,447.04 V444.13 M383.35,444.13 H386.05" stroke="#5DC863" stroke-width="1" fill="none"/>
<rect x="386.28" y="447.02" width="3.16" height="6.15" fill="#5DC863"/>
<rect x="387.41" y="448.82" width="0.9" height="3.35" fill="#fff" opacity="0.36"/>
<path d="M387.86,447.52 V444.64 M386.51,444.64 H389.21" stroke="#5DC863" stroke-width="1" fill="none"/>
<rect x="389.44" y="447.57" width="3.16" height="5.60" fill="#5DC863"/>
<rect x="390.57" y="449.18" width="0.9" height="2.99" fill="#fff" opacity="0.36"/>
<path d="M391.02,448.07 V446.05 M389.67,446.05 H392.37" stroke="#5DC863" stroke-width="1" fill="none"/>
<rect x="392.60" y="446.75" width="3.16" height="6.42" fill="#5DC863"/>
<rect x="393.73" y="448.65" width="0.9" height="3.52" fill="#fff" opacity="0.36"/>
<path d="M394.18,447.25 V444.99 M392.83,444.99 H395.53" stroke="#5DC863" stroke-width="1" fill="none"/>
<rect x="395.76" y="445.73" width="3.16" height="7.44" fill="#5DC863"/>
<rect x="396.89" y="447.98" width="0.9" height="4.19" fill="#fff" opacity="0.36"/>
<path d="M397.34,446.23 V444.20 M395.99,444.20 H398.69" stroke="#5DC863" stroke-width="1" fill="none"/>
<rect x="398.92" y="447.79" width="3.16" height="5.38" fill="#5DC863"/>
<rect x="400.05" y="449.32" width="0.9" height="2.85" fill="#fff" opacity="0.36"/>
<path d="M400.50,448.29 V445.40 M399.15,445.40 H401.85" stroke="#5DC863" stroke-width="1" fill="none"/>
<rect x="402.08" y="450.59" width="3.16" height="2.58" fill="#5DC863"/>
<path d="M403.66,451.09 V449.44 M402.31,449.44 H405.01" stroke="#5DC863" stroke-width="1" fill="none"/>
<rect x="405.24" y="450.08" width="3.16" height="3.09" fill="#5DC863"/>
<path d="M406.82,450.58 V448.55 M405.47,448.55 H408.17" stroke="#5DC863" stroke-width="1" fill="none"/>
<rect x="408.40" y="450.63" width="3.16" height="2.54" fill="#5DC863"/>
<path d="M409.98,451.13 V449.49 M408.63,449.49 H411.33" stroke="#5DC863" stroke-width="1" fill="none"/>
<rect x="411.56" y="449.88" width="3.16" height="3.29" fill="#5DC863"/>
<path d="M413.14,450.38 V448.44 M411.79,448.44 H414.49" stroke="#5DC863" stroke-width="1" fill="none"/>
<rect x="414.72" y="450.17" width="3.16" height="3.00" fill="#5DC863"/>
<path d="M416.30,450.67 V449.22 M414.95,449.22 H417.65" stroke="#5DC863" stroke-width="1" fill="none"/>
<rect x="417.88" y="450.52" width="3.16" height="2.65" fill="#5DC863"/>
<path d="M419.46,451.02 V448.06 M418.11,448.06 H420.81" stroke="#5DC863" stroke-width="1" fill="none"/>
<rect x="421.04" y="450.52" width="3.16" height="2.65" fill="#5DC863"/>
<path d="M422.62,451.02 V448.36 M421.27,448.36 H423.97" stroke="#5DC863" stroke-width="1" fill="none"/>
<rect x="424.20" y="450.93" width="3.16" height="2.24" fill="#5DC863"/>
<path d="M425.78,451.43 V448.61 M424.43,448.61 H427.13" stroke="#5DC863" stroke-width="1" fill="none"/>
<rect x="427.36" y="451.05" width="3.16" height="2.12" fill="#5DC863"/>
<path d="M428.94,451.55 V449.40 M427.59,449.40 H430.29" stroke="#5DC863" stroke-width="1" fill="none"/>
<rect x="430.52" y="450.73" width="3.16" height="2.44" fill="#5DC863"/>
<path d="M432.10,451.23 V449.62 M430.75,449.62 H433.45" stroke="#5DC863" stroke-width="1" fill="none"/>
<rect x="436.84" y="450.15" width="3.16" height="3.02" fill="#5DC863"/>
<rect x="440.00" y="449.32" width="3.16" height="3.85" fill="#5DC863"/>
<rect x="443.16" y="449.02" width="3.16" height="4.15" fill="#5DC863"/>
<rect x="444.29" y="450.12" width="0.9" height="2.05" fill="#fff" opacity="0.36"/>
<path d="M444.74,449.52 V447.49 M443.39,447.49 H446.09" stroke="#5DC863" stroke-width="1" fill="none"/>
<rect x="446.32" y="451.18" width="3.16" height="1.99" fill="#5DC863"/>
<rect x="449.48" y="449.90" width="3.16" height="3.27" fill="#5DC863"/>
<rect x="452.64" y="450.59" width="3.16" height="2.58" fill="#5DC863"/>
<rect x="455.80" y="449.05" width="3.16" height="4.12" fill="#5DC863"/>
<rect x="456.93" y="450.14" width="0.9" height="2.03" fill="#fff" opacity="0.36"/>
<rect x="458.96" y="449.01" width="3.16" height="4.16" fill="#5DC863"/>
<rect x="460.09" y="450.12" width="0.9" height="2.05" fill="#fff" opacity="0.36"/>
<rect x="462.12" y="451.65" width="3.16" height="1.52" fill="#5DC863"/>
<path d="M463.70,452.15 V450.63 M462.35,450.63 H465.05" stroke="#5DC863" stroke-width="1" fill="none"/>
<rect x="465.28" y="449.99" width="3.16" height="3.18" fill="#5DC863"/>
<rect x="468.44" y="449.73" width="3.16" height="3.44" fill="#5DC863"/>
<rect x="471.60" y="451.33" width="3.16" height="1.84" fill="#5DC863"/>
<rect x="474.76" y="449.03" width="3.16" height="4.14" fill="#5DC863"/>
<rect x="475.89" y="449.77" width="0.9" height="2.40" fill="#fff" opacity="0.36"/>
<rect x="477.92" y="451.48" width="3.16" height="1.69" fill="#5DC863"/>
<rect x="481.08" y="449.02" width="3.16" height="4.15" fill="#5DC863"/>
<rect x="482.21" y="450.12" width="0.9" height="2.05" fill="#fff" opacity="0.36"/>
<rect x="395.22" y="444.97" width="3.16" height="8.20" fill="#5DC863"/>
<rect x="396.35" y="447.49" width="0.9" height="4.68" fill="#fff" opacity="0.36"/>
<path d="M396.80,445.47 V443.06 M395.45,443.06 H398.15" stroke="#5DC863" stroke-width="1" fill="none"/>
<rect x="442.60" y="446.97" width="3.16" height="6.20" fill="#5DC863"/>
<rect x="443.73" y="448.79" width="0.9" height="3.38" fill="#fff" opacity="0.36"/>
<path d="M444.18,447.47 V444.56 M442.83,444.56 H445.53" stroke="#5DC863" stroke-width="1" fill="none"/>
<rect x="480.84" y="445.97" width="3.16" height="7.20" fill="#5DC863"/>
<rect x="481.97" y="448.14" width="0.9" height="4.03" fill="#fff" opacity="0.36"/>
<path d="M482.42,446.47 V443.97 M481.07,443.97 H483.77" stroke="#5DC863" stroke-width="1" fill="none"/>
</g>
<rect x="320.3" y="412.96999999999997" width="167.5" height="39.2" fill="none" stroke="#7a7a7a" stroke-width="0.9"/>
<line x1="487.8" y1="412.57" x2="487.8" y2="452.56999999999994" stroke="#555" stroke-width="1.3"/>
<rect x="488.40000000000003" y="412.96999999999997" width="16.80" height="39.2" fill="#fff" stroke="#8a8a8a" stroke-width="0.8"/>
<text transform="translate(493.6,432.57) rotate(90)" font-size="9.2" text-anchor="middle" fill="#1a1a1a">90</text>
<line x1="317.3" y1="415.27" x2="320.3" y2="415.27" stroke="#555" stroke-width="0.9"/>
<text x="315.0" y="418.02" font-size="7.8" text-anchor="end" fill="#333">1000</text>
<line x1="317.3" y1="428.07" x2="320.3" y2="428.07" stroke="#555" stroke-width="0.9"/>
<text x="315.0" y="430.82" font-size="7.8" text-anchor="end" fill="#333">100</text>
<line x1="317.3" y1="440.87" x2="320.3" y2="440.87" stroke="#555" stroke-width="0.9"/>
<text x="315.0" y="443.62" font-size="7.8" text-anchor="end" fill="#333">10</text>
<rect x="320.3" y="458.69999999999993" width="167.5" height="39.2" fill="#fff"/>
<line x1="328.00" y1="458.69999999999993" x2="328.00" y2="497.8999999999999" stroke="#e6e6e6" stroke-width="1"/>
<line x1="356.50" y1="458.69999999999993" x2="356.50" y2="497.8999999999999" stroke="#f1f1f1" stroke-width="0.7"/>
<line x1="385.00" y1="458.69999999999993" x2="385.00" y2="497.8999999999999" stroke="#e6e6e6" stroke-width="1"/>
<line x1="413.50" y1="458.69999999999993" x2="413.50" y2="497.8999999999999" stroke="#f1f1f1" stroke-width="0.7"/>
<line x1="442.00" y1="458.69999999999993" x2="442.00" y2="497.8999999999999" stroke="#e6e6e6" stroke-width="1"/>
<line x1="470.50" y1="458.69999999999993" x2="470.50" y2="497.8999999999999" stroke="#f1f1f1" stroke-width="0.7"/>
<line x1="320.3" y1="461.00" x2="487.8" y2="461.00" stroke="#e6e6e6" stroke-width="1"/>
<line x1="320.3" y1="467.40" x2="487.8" y2="467.40" stroke="#f1f1f1" stroke-width="0.7"/>
<line x1="320.3" y1="473.80" x2="487.8" y2="473.80" stroke="#e6e6e6" stroke-width="1"/>
<line x1="320.3" y1="480.20" x2="487.8" y2="480.20" stroke="#f1f1f1" stroke-width="0.7"/>
<line x1="320.3" y1="486.60" x2="487.8" y2="486.60" stroke="#e6e6e6" stroke-width="1"/>
<line x1="320.3" y1="493.00" x2="487.8" y2="493.00" stroke="#f1f1f1" stroke-width="0.7"/>
<g clip-path="url(#cp10)">
<rect x="335.72" y="484.77" width="3.16" height="14.13" fill="#8FD744"/>
<rect x="336.85" y="487.81" width="0.9" height="10.09" fill="#fff" opacity="0.36"/>
<path d="M337.30,485.27 V483.02 M335.95,483.02 H338.65" stroke="#8FD744" stroke-width="1" fill="none"/>
<rect x="338.88" y="484.39" width="3.16" height="14.51" fill="#8FD744"/>
<rect x="340.01" y="487.37" width="0.9" height="10.53" fill="#fff" opacity="0.36"/>
<path d="M340.46,484.89 V482.04 M339.11,482.04 H341.81" stroke="#8FD744" stroke-width="1" fill="none"/>
<rect x="342.04" y="485.76" width="3.16" height="13.14" fill="#8FD744"/>
<rect x="343.17" y="487.80" width="0.9" height="10.10" fill="#fff" opacity="0.36"/>
<path d="M343.62,486.26 V484.76 M342.27,484.76 H344.97" stroke="#8FD744" stroke-width="1" fill="none"/>
<rect x="345.20" y="487.44" width="3.16" height="11.46" fill="#8FD744"/>
<rect x="346.33" y="490.13" width="0.9" height="7.77" fill="#fff" opacity="0.36"/>
<path d="M346.78,487.94 V485.88 M345.43,485.88 H348.13" stroke="#8FD744" stroke-width="1" fill="none"/>
<rect x="348.36" y="489.21" width="3.16" height="9.69" fill="#8FD744"/>
<rect x="349.49" y="492.25" width="0.9" height="5.65" fill="#fff" opacity="0.36"/>
<path d="M349.94,489.71 V487.88 M348.59,487.88 H351.29" stroke="#8FD744" stroke-width="1" fill="none"/>
<rect x="351.52" y="490.74" width="3.16" height="8.16" fill="#8FD744"/>
<rect x="352.65" y="493.24" width="0.9" height="4.66" fill="#fff" opacity="0.36"/>
<path d="M353.10,491.24 V488.66 M351.75,488.66 H354.45" stroke="#8FD744" stroke-width="1" fill="none"/>
<rect x="354.68" y="491.79" width="3.16" height="7.11" fill="#8FD744"/>
<rect x="355.81" y="493.93" width="0.9" height="3.97" fill="#fff" opacity="0.36"/>
<path d="M356.26,492.29 V490.70 M354.91,490.70 H357.61" stroke="#8FD744" stroke-width="1" fill="none"/>
<rect x="357.84" y="492.52" width="3.16" height="6.38" fill="#8FD744"/>
<rect x="358.97" y="494.40" width="0.9" height="3.50" fill="#fff" opacity="0.36"/>
<path d="M359.42,493.02 V490.87 M358.07,490.87 H360.77" stroke="#8FD744" stroke-width="1" fill="none"/>
<rect x="361.00" y="494.32" width="3.16" height="4.58" fill="#8FD744"/>
<rect x="362.13" y="495.57" width="0.9" height="2.33" fill="#fff" opacity="0.36"/>
<path d="M362.58,494.82 V493.00 M361.23,493.00 H363.93" stroke="#8FD744" stroke-width="1" fill="none"/>
<rect x="364.16" y="494.65" width="3.16" height="4.25" fill="#8FD744"/>
<rect x="365.29" y="495.79" width="0.9" height="2.11" fill="#fff" opacity="0.36"/>
<path d="M365.74,495.15 V493.38 M364.39,493.38 H367.09" stroke="#8FD744" stroke-width="1" fill="none"/>
<rect x="367.32" y="494.75" width="3.16" height="4.15" fill="#8FD744"/>
<rect x="368.45" y="495.85" width="0.9" height="2.05" fill="#fff" opacity="0.36"/>
<path d="M368.90,495.25 V492.82 M367.55,492.82 H370.25" stroke="#8FD744" stroke-width="1" fill="none"/>
<rect x="370.48" y="494.20" width="3.16" height="4.70" fill="#8FD744"/>
<rect x="371.61" y="495.50" width="0.9" height="2.40" fill="#fff" opacity="0.36"/>
<path d="M372.06,494.70 V492.03 M370.71,492.03 H373.41" stroke="#8FD744" stroke-width="1" fill="none"/>
<rect x="373.64" y="495.07" width="3.16" height="3.83" fill="#8FD744"/>
<path d="M375.22,495.57 V493.25 M373.87,493.25 H376.57" stroke="#8FD744" stroke-width="1" fill="none"/>
<rect x="376.80" y="494.16" width="3.16" height="4.74" fill="#8FD744"/>
<rect x="377.93" y="495.47" width="0.9" height="2.43" fill="#fff" opacity="0.36"/>
<path d="M378.38,494.66 V492.19 M377.03,492.19 H379.73" stroke="#8FD744" stroke-width="1" fill="none"/>
<rect x="379.96" y="494.45" width="3.16" height="4.45" fill="#8FD744"/>
<rect x="381.09" y="495.66" width="0.9" height="2.24" fill="#fff" opacity="0.36"/>
<path d="M381.54,494.95 V493.45 M380.19,493.45 H382.89" stroke="#8FD744" stroke-width="1" fill="none"/>
<rect x="383.12" y="494.38" width="3.16" height="4.52" fill="#8FD744"/>
<rect x="384.25" y="495.62" width="0.9" height="2.28" fill="#fff" opacity="0.36"/>
<path d="M384.70,494.88 V492.02 M383.35,492.02 H386.05" stroke="#8FD744" stroke-width="1" fill="none"/>
<rect x="386.28" y="494.81" width="3.16" height="4.09" fill="#8FD744"/>
<rect x="387.41" y="495.89" width="0.9" height="2.01" fill="#fff" opacity="0.36"/>
<path d="M387.86,495.31 V492.92 M386.51,492.92 H389.21" stroke="#8FD744" stroke-width="1" fill="none"/>
<rect x="389.44" y="495.35" width="3.16" height="3.55" fill="#8FD744"/>
<path d="M391.02,495.85 V492.92 M389.67,492.92 H392.37" stroke="#8FD744" stroke-width="1" fill="none"/>
<rect x="392.60" y="494.77" width="3.16" height="4.13" fill="#8FD744"/>
<rect x="393.73" y="495.87" width="0.9" height="2.03" fill="#fff" opacity="0.36"/>
<path d="M394.18,495.27 V493.50 M392.83,493.50 H395.53" stroke="#8FD744" stroke-width="1" fill="none"/>
<rect x="395.76" y="496.36" width="3.16" height="2.54" fill="#8FD744"/>
<path d="M397.34,496.86 V493.78 M395.99,493.78 H398.69" stroke="#8FD744" stroke-width="1" fill="none"/>
<rect x="398.92" y="493.90" width="3.16" height="5.00" fill="#8FD744"/>
<rect x="400.05" y="495.30" width="0.9" height="2.60" fill="#fff" opacity="0.36"/>
<path d="M400.50,494.40 V491.31 M399.15,491.31 H401.85" stroke="#8FD744" stroke-width="1" fill="none"/>
<rect x="402.08" y="496.22" width="3.16" height="2.68" fill="#8FD744"/>
<path d="M403.66,496.72 V495.02 M402.31,495.02 H405.01" stroke="#8FD744" stroke-width="1" fill="none"/>
<rect x="408.40" y="497.02" width="3.16" height="1.88" fill="#8FD744"/>
<rect x="411.56" y="496.65" width="3.16" height="2.25" fill="#8FD744"/>
<rect x="424.20" y="496.59" width="3.16" height="2.31" fill="#8FD744"/>
<rect x="430.52" y="495.87" width="3.16" height="3.03" fill="#8FD744"/>
<rect x="436.84" y="497.31" width="3.16" height="1.59" fill="#8FD744"/>
<rect x="452.64" y="495.72" width="3.16" height="3.18" fill="#8FD744"/>
<rect x="458.96" y="496.56" width="3.16" height="2.34" fill="#8FD744"/>
<rect x="462.12" y="496.96" width="3.16" height="1.94" fill="#8FD744"/>
<rect x="465.28" y="495.90" width="3.16" height="3.00" fill="#8FD744"/>
<rect x="468.44" y="497.00" width="3.16" height="1.90" fill="#8FD744"/>
<rect x="471.60" y="496.05" width="3.16" height="2.85" fill="#8FD744"/>
<rect x="477.92" y="495.80" width="3.16" height="3.10" fill="#8FD744"/>
<rect x="481.08" y="496.61" width="3.16" height="2.29" fill="#8FD744"/>
<rect x="413.19" y="495.70" width="3.16" height="3.20" fill="#8FD744"/>
<path d="M414.77,496.20 V494.27 M413.42,494.27 H416.12" stroke="#8FD744" stroke-width="1" fill="none"/>
<rect x="431.17" y="495.70" width="3.16" height="3.20" fill="#8FD744"/>
<path d="M432.75,496.20 V493.70 M431.40,493.70 H434.10" stroke="#8FD744" stroke-width="1" fill="none"/>
<rect x="455.67" y="495.70" width="3.16" height="3.20" fill="#8FD744"/>
<path d="M457.25,496.20 V493.20 M455.90,493.20 H458.60" stroke="#8FD744" stroke-width="1" fill="none"/>
<rect x="468.75" y="495.70" width="3.16" height="3.20" fill="#8FD744"/>
<path d="M470.33,496.20 V493.27 M468.98,493.27 H471.68" stroke="#8FD744" stroke-width="1" fill="none"/>
<rect x="480.84" y="495.70" width="3.16" height="3.20" fill="#8FD744"/>
<path d="M482.42,496.20 V493.73 M481.07,493.73 H483.77" stroke="#8FD744" stroke-width="1" fill="none"/>
</g>
<rect x="320.3" y="458.69999999999993" width="167.5" height="39.2" fill="none" stroke="#7a7a7a" stroke-width="0.9"/>
<line x1="487.8" y1="458.29999999999995" x2="487.8" y2="498.2999999999999" stroke="#555" stroke-width="1.3"/>
<rect x="488.40000000000003" y="458.69999999999993" width="16.80" height="39.2" fill="#fff" stroke="#8a8a8a" stroke-width="0.8"/>
<text transform="translate(493.6,478.30) rotate(90)" font-size="9.2" text-anchor="middle" fill="#1a1a1a">100</text>
<line x1="317.3" y1="461.00" x2="320.3" y2="461.00" stroke="#555" stroke-width="0.9"/>
<text x="315.0" y="463.75" font-size="7.8" text-anchor="end" fill="#333">1000</text>
<line x1="317.3" y1="473.80" x2="320.3" y2="473.80" stroke="#555" stroke-width="0.9"/>
<text x="315.0" y="476.55" font-size="7.8" text-anchor="end" fill="#333">100</text>
<line x1="317.3" y1="486.60" x2="320.3" y2="486.60" stroke="#555" stroke-width="0.9"/>
<text x="315.0" y="489.35" font-size="7.8" text-anchor="end" fill="#333">10</text>
<rect x="320.3" y="504.42999999999995" width="167.5" height="39.2" fill="#fff"/>
<line x1="328.00" y1="504.42999999999995" x2="328.00" y2="543.63" stroke="#e6e6e6" stroke-width="1"/>
<line x1="356.50" y1="504.42999999999995" x2="356.50" y2="543.63" stroke="#f1f1f1" stroke-width="0.7"/>
<line x1="385.00" y1="504.42999999999995" x2="385.00" y2="543.63" stroke="#e6e6e6" stroke-width="1"/>
<line x1="413.50" y1="504.42999999999995" x2="413.50" y2="543.63" stroke="#f1f1f1" stroke-width="0.7"/>
<line x1="442.00" y1="504.42999999999995" x2="442.00" y2="543.63" stroke="#e6e6e6" stroke-width="1"/>
<line x1="470.50" y1="504.42999999999995" x2="470.50" y2="543.63" stroke="#f1f1f1" stroke-width="0.7"/>
<line x1="320.3" y1="506.73" x2="487.8" y2="506.73" stroke="#e6e6e6" stroke-width="1"/>
<line x1="320.3" y1="513.13" x2="487.8" y2="513.13" stroke="#f1f1f1" stroke-width="0.7"/>
<line x1="320.3" y1="519.53" x2="487.8" y2="519.53" stroke="#e6e6e6" stroke-width="1"/>
<line x1="320.3" y1="525.93" x2="487.8" y2="525.93" stroke="#f1f1f1" stroke-width="0.7"/>
<line x1="320.3" y1="532.33" x2="487.8" y2="532.33" stroke="#e6e6e6" stroke-width="1"/>
<line x1="320.3" y1="538.73" x2="487.8" y2="538.73" stroke="#f1f1f1" stroke-width="0.7"/>
<g clip-path="url(#cp11)">
<rect x="335.72" y="531.71" width="3.16" height="12.92" fill="#C7E020"/>
<rect x="336.85" y="535.26" width="0.9" height="8.37" fill="#fff" opacity="0.36"/>
<path d="M337.30,532.21 V529.28 M335.95,529.28 H338.65" stroke="#C7E020" stroke-width="1" fill="none"/>
<rect x="338.88" y="528.94" width="3.16" height="15.69" fill="#C7E020"/>
<rect x="340.01" y="531.66" width="0.9" height="11.97" fill="#fff" opacity="0.36"/>
<path d="M340.46,529.44 V526.85 M339.11,526.85 H341.81" stroke="#C7E020" stroke-width="1" fill="none"/>
<rect x="342.04" y="529.60" width="3.16" height="15.03" fill="#C7E020"/>
<rect x="343.17" y="532.97" width="0.9" height="10.66" fill="#fff" opacity="0.36"/>
<path d="M343.62,530.10 V528.32 M342.27,528.32 H344.97" stroke="#C7E020" stroke-width="1" fill="none"/>
<rect x="345.20" y="530.61" width="3.16" height="14.02" fill="#C7E020"/>
<rect x="346.33" y="534.67" width="0.9" height="8.96" fill="#fff" opacity="0.36"/>
<path d="M346.78,531.11 V528.06 M345.43,528.06 H348.13" stroke="#C7E020" stroke-width="1" fill="none"/>
<rect x="348.36" y="532.15" width="3.16" height="12.48" fill="#C7E020"/>
<rect x="349.49" y="535.05" width="0.9" height="8.58" fill="#fff" opacity="0.36"/>
<path d="M349.94,532.65 V529.96 M348.59,529.96 H351.29" stroke="#C7E020" stroke-width="1" fill="none"/>
<rect x="351.52" y="533.04" width="3.16" height="11.59" fill="#C7E020"/>
<rect x="352.65" y="536.75" width="0.9" height="6.88" fill="#fff" opacity="0.36"/>
<path d="M353.10,533.54 V531.01 M351.75,531.01 H354.45" stroke="#C7E020" stroke-width="1" fill="none"/>
<rect x="354.68" y="535.84" width="3.16" height="8.79" fill="#C7E020"/>
<rect x="355.81" y="538.57" width="0.9" height="5.06" fill="#fff" opacity="0.36"/>
<path d="M356.26,536.34 V534.08 M354.91,534.08 H357.61" stroke="#C7E020" stroke-width="1" fill="none"/>
<rect x="357.84" y="539.33" width="3.16" height="5.30" fill="#C7E020"/>
<rect x="358.97" y="540.83" width="0.9" height="2.80" fill="#fff" opacity="0.36"/>
<path d="M359.42,539.83 V536.95 M358.07,536.95 H360.77" stroke="#C7E020" stroke-width="1" fill="none"/>
<rect x="361.00" y="541.65" width="3.16" height="2.98" fill="#C7E020"/>
<path d="M362.58,542.15 V539.89 M361.23,539.89 H363.93" stroke="#C7E020" stroke-width="1" fill="none"/>
<rect x="364.16" y="540.27" width="3.16" height="4.36" fill="#C7E020"/>
<rect x="365.29" y="541.44" width="0.9" height="2.19" fill="#fff" opacity="0.36"/>
<path d="M365.74,540.77 V538.64 M364.39,538.64 H367.09" stroke="#C7E020" stroke-width="1" fill="none"/>
<rect x="367.32" y="542.98" width="3.16" height="1.65" fill="#C7E020"/>
<path d="M368.90,543.48 V541.64 M367.55,541.64 H370.25" stroke="#C7E020" stroke-width="1" fill="none"/>
<rect x="370.48" y="542.82" width="3.16" height="1.81" fill="#C7E020"/>
<path d="M372.06,543.32 V540.93 M370.71,540.93 H373.41" stroke="#C7E020" stroke-width="1" fill="none"/>
<rect x="373.64" y="538.99" width="3.16" height="5.64" fill="#C7E020"/>
<rect x="374.77" y="540.62" width="0.9" height="3.01" fill="#fff" opacity="0.36"/>
<path d="M375.22,539.49 V538.01 M373.87,538.01 H376.57" stroke="#C7E020" stroke-width="1" fill="none"/>
<rect x="376.80" y="538.70" width="3.16" height="5.93" fill="#C7E020"/>
<rect x="377.93" y="540.42" width="0.9" height="3.21" fill="#fff" opacity="0.36"/>
<path d="M378.38,539.20 V536.71 M377.03,536.71 H379.73" stroke="#C7E020" stroke-width="1" fill="none"/>
<rect x="379.96" y="538.68" width="3.16" height="5.95" fill="#C7E020"/>
<rect x="381.09" y="540.41" width="0.9" height="3.22" fill="#fff" opacity="0.36"/>
<path d="M381.54,539.18 V536.49 M380.19,536.49 H382.89" stroke="#C7E020" stroke-width="1" fill="none"/>
<rect x="383.12" y="540.11" width="3.16" height="4.52" fill="#C7E020"/>
<rect x="384.25" y="541.34" width="0.9" height="2.29" fill="#fff" opacity="0.36"/>
<path d="M384.70,540.61 V537.59 M383.35,537.59 H386.05" stroke="#C7E020" stroke-width="1" fill="none"/>
<rect x="386.28" y="541.34" width="3.16" height="3.29" fill="#C7E020"/>
<path d="M387.86,541.84 V539.20 M386.51,539.20 H389.21" stroke="#C7E020" stroke-width="1" fill="none"/>
<rect x="389.44" y="541.51" width="3.16" height="3.12" fill="#C7E020"/>
<rect x="398.92" y="541.72" width="3.16" height="2.91" fill="#C7E020"/>
<rect x="411.56" y="542.41" width="3.16" height="2.22" fill="#C7E020"/>
<rect x="417.88" y="541.68" width="3.16" height="2.95" fill="#C7E020"/>
<rect x="424.20" y="541.44" width="3.16" height="3.19" fill="#C7E020"/>
<path d="M425.78,541.94 V539.26 M424.43,539.26 H427.13" stroke="#C7E020" stroke-width="1" fill="none"/>
<rect x="427.36" y="542.25" width="3.16" height="2.38" fill="#C7E020"/>
<rect x="433.68" y="542.69" width="3.16" height="1.94" fill="#C7E020"/>
<path d="M435.26,543.19 V541.27 M433.91,541.27 H436.61" stroke="#C7E020" stroke-width="1" fill="none"/>
<rect x="440.00" y="541.49" width="3.16" height="3.14" fill="#C7E020"/>
<rect x="443.16" y="543.13" width="3.16" height="1.50" fill="#C7E020"/>
<path d="M444.74,543.63 V540.93 M443.39,540.93 H446.09" stroke="#C7E020" stroke-width="1" fill="none"/>
<rect x="446.32" y="542.88" width="3.16" height="1.75" fill="#C7E020"/>
<rect x="452.64" y="541.83" width="3.16" height="2.80" fill="#C7E020"/>
<rect x="458.96" y="541.84" width="3.16" height="2.79" fill="#C7E020"/>
<rect x="462.12" y="542.00" width="3.16" height="2.63" fill="#C7E020"/>
<rect x="471.60" y="541.47" width="3.16" height="3.16" fill="#C7E020"/>
<path d="M473.18,541.97 V539.97 M471.83,539.97 H474.53" stroke="#C7E020" stroke-width="1" fill="none"/>
<rect x="474.76" y="542.45" width="3.16" height="2.18" fill="#C7E020"/>
<rect x="431.17" y="540.43" width="3.16" height="4.20" fill="#C7E020"/>
<rect x="432.30" y="541.55" width="0.9" height="2.08" fill="#fff" opacity="0.36"/>
<path d="M432.75,540.93 V538.27 M431.40,538.27 H434.10" stroke="#C7E020" stroke-width="1" fill="none"/>
<rect x="445.87" y="541.43" width="3.16" height="3.20" fill="#C7E020"/>
<path d="M447.45,541.93 V539.17 M446.10,539.17 H448.80" stroke="#C7E020" stroke-width="1" fill="none"/>
<rect x="458.94" y="539.93" width="3.16" height="4.70" fill="#C7E020"/>
<rect x="460.07" y="541.22" width="0.9" height="2.41" fill="#fff" opacity="0.36"/>
<path d="M460.52,540.43 V537.95 M459.17,537.95 H461.87" stroke="#C7E020" stroke-width="1" fill="none"/>
<rect x="473.65" y="541.43" width="3.16" height="3.20" fill="#C7E020"/>
<path d="M475.23,541.93 V539.58 M473.88,539.58 H476.58" stroke="#C7E020" stroke-width="1" fill="none"/>
<rect x="480.18" y="542.63" width="3.16" height="2.00" fill="#C7E020"/>
</g>
<rect x="320.3" y="504.42999999999995" width="167.5" height="39.2" fill="none" stroke="#7a7a7a" stroke-width="0.9"/>
<line x1="487.8" y1="504.03" x2="487.8" y2="544.03" stroke="#555" stroke-width="1.3"/>
<rect x="488.40000000000003" y="504.42999999999995" width="16.80" height="39.2" fill="#fff" stroke="#8a8a8a" stroke-width="0.8"/>
<text transform="translate(493.6,524.03) rotate(90)" font-size="9.2" text-anchor="middle" fill="#1a1a1a">110</text>
<line x1="317.3" y1="506.73" x2="320.3" y2="506.73" stroke="#555" stroke-width="0.9"/>
<text x="315.0" y="509.48" font-size="7.8" text-anchor="end" fill="#333">1000</text>
<line x1="317.3" y1="519.53" x2="320.3" y2="519.53" stroke="#555" stroke-width="0.9"/>
<text x="315.0" y="522.28" font-size="7.8" text-anchor="end" fill="#333">100</text>
<line x1="317.3" y1="532.33" x2="320.3" y2="532.33" stroke="#555" stroke-width="0.9"/>
<text x="315.0" y="535.08" font-size="7.8" text-anchor="end" fill="#333">10</text>
<rect x="320.3" y="550.16" width="167.5" height="39.2" fill="#fff"/>
<line x1="328.00" y1="550.16" x2="328.00" y2="589.36" stroke="#e6e6e6" stroke-width="1"/>
<line x1="356.50" y1="550.16" x2="356.50" y2="589.36" stroke="#f1f1f1" stroke-width="0.7"/>
<line x1="385.00" y1="550.16" x2="385.00" y2="589.36" stroke="#e6e6e6" stroke-width="1"/>
<line x1="413.50" y1="550.16" x2="413.50" y2="589.36" stroke="#f1f1f1" stroke-width="0.7"/>
<line x1="442.00" y1="550.16" x2="442.00" y2="589.36" stroke="#e6e6e6" stroke-width="1"/>
<line x1="470.50" y1="550.16" x2="470.50" y2="589.36" stroke="#f1f1f1" stroke-width="0.7"/>
<line x1="320.3" y1="552.46" x2="487.8" y2="552.46" stroke="#e6e6e6" stroke-width="1"/>
<line x1="320.3" y1="558.86" x2="487.8" y2="558.86" stroke="#f1f1f1" stroke-width="0.7"/>
<line x1="320.3" y1="565.26" x2="487.8" y2="565.26" stroke="#e6e6e6" stroke-width="1"/>
<line x1="320.3" y1="571.66" x2="487.8" y2="571.66" stroke="#f1f1f1" stroke-width="0.7"/>
<line x1="320.3" y1="578.06" x2="487.8" y2="578.06" stroke="#e6e6e6" stroke-width="1"/>
<line x1="320.3" y1="584.46" x2="487.8" y2="584.46" stroke="#f1f1f1" stroke-width="0.7"/>
<g clip-path="url(#cp12)">
<rect x="335.72" y="579.37" width="3.16" height="10.99" fill="#FDE725"/>
<rect x="336.85" y="582.86" width="0.9" height="6.50" fill="#fff" opacity="0.36"/>
<path d="M337.30,579.87 V576.41 M335.95,576.41 H338.65" stroke="#FDE725" stroke-width="1" fill="none"/>
<rect x="338.88" y="578.93" width="3.16" height="11.43" fill="#FDE725"/>
<rect x="340.01" y="582.58" width="0.9" height="6.78" fill="#fff" opacity="0.36"/>
<path d="M340.46,579.43 V575.08 M339.11,575.08 H341.81" stroke="#FDE725" stroke-width="1" fill="none"/>
<rect x="342.04" y="580.26" width="3.16" height="10.10" fill="#FDE725"/>
<rect x="343.17" y="583.45" width="0.9" height="5.91" fill="#fff" opacity="0.36"/>
<path d="M343.62,580.76 V578.24 M342.27,578.24 H344.97" stroke="#FDE725" stroke-width="1" fill="none"/>
<rect x="345.20" y="581.72" width="3.16" height="8.64" fill="#FDE725"/>
<rect x="346.33" y="584.39" width="0.9" height="4.97" fill="#fff" opacity="0.36"/>
<path d="M346.78,582.22 V579.71 M345.43,579.71 H348.13" stroke="#FDE725" stroke-width="1" fill="none"/>
<rect x="348.36" y="582.78" width="3.16" height="7.58" fill="#FDE725"/>
<rect x="349.49" y="585.08" width="0.9" height="4.28" fill="#fff" opacity="0.36"/>
<path d="M349.94,583.28 V579.04 M348.59,579.04 H351.29" stroke="#FDE725" stroke-width="1" fill="none"/>
<rect x="351.52" y="583.58" width="3.16" height="6.78" fill="#FDE725"/>
<rect x="352.65" y="585.60" width="0.9" height="3.76" fill="#fff" opacity="0.36"/>
<path d="M353.10,584.08 V581.48 M351.75,581.48 H354.45" stroke="#FDE725" stroke-width="1" fill="none"/>
<rect x="354.68" y="583.56" width="3.16" height="6.80" fill="#FDE725"/>
<rect x="355.81" y="585.59" width="0.9" height="3.77" fill="#fff" opacity="0.36"/>
<path d="M356.26,584.06 V580.95 M354.91,580.95 H357.61" stroke="#FDE725" stroke-width="1" fill="none"/>
<rect x="357.84" y="583.97" width="3.16" height="6.39" fill="#FDE725"/>
<rect x="358.97" y="585.85" width="0.9" height="3.51" fill="#fff" opacity="0.36"/>
<path d="M359.42,584.47 V581.37 M358.07,581.37 H360.77" stroke="#FDE725" stroke-width="1" fill="none"/>
<rect x="361.00" y="584.99" width="3.16" height="5.37" fill="#FDE725"/>
<rect x="362.13" y="586.52" width="0.9" height="2.84" fill="#fff" opacity="0.36"/>
<path d="M362.58,585.49 V582.73 M361.23,582.73 H363.93" stroke="#FDE725" stroke-width="1" fill="none"/>
<rect x="364.16" y="586.48" width="3.16" height="3.88" fill="#FDE725"/>
<path d="M365.74,586.98 V584.30 M364.39,584.30 H367.09" stroke="#FDE725" stroke-width="1" fill="none"/>
<rect x="367.32" y="587.50" width="3.16" height="2.86" fill="#FDE725"/>
<path d="M368.90,588.00 V585.41 M367.55,585.41 H370.25" stroke="#FDE725" stroke-width="1" fill="none"/>
<rect x="370.48" y="587.81" width="3.16" height="2.55" fill="#FDE725"/>
<path d="M372.06,588.31 V585.43 M370.71,585.43 H373.41" stroke="#FDE725" stroke-width="1" fill="none"/>
<rect x="373.64" y="586.68" width="3.16" height="3.68" fill="#FDE725"/>
<path d="M375.22,587.18 V583.19 M373.87,583.19 H376.57" stroke="#FDE725" stroke-width="1" fill="none"/>
<rect x="376.80" y="587.40" width="3.16" height="2.96" fill="#FDE725"/>
<path d="M378.38,587.90 V583.87 M377.03,583.87 H379.73" stroke="#FDE725" stroke-width="1" fill="none"/>
<rect x="379.96" y="587.37" width="3.16" height="2.99" fill="#FDE725"/>
<path d="M381.54,587.87 V584.11 M380.19,584.11 H382.89" stroke="#FDE725" stroke-width="1" fill="none"/>
<rect x="383.12" y="588.37" width="3.16" height="1.99" fill="#FDE725"/>
<rect x="389.44" y="587.28" width="3.16" height="3.08" fill="#FDE725"/>
<rect x="395.76" y="588.44" width="3.16" height="1.92" fill="#FDE725"/>
<rect x="398.92" y="588.00" width="3.16" height="2.36" fill="#FDE725"/>
<rect x="402.08" y="587.71" width="3.16" height="2.65" fill="#FDE725"/>
<rect x="405.24" y="588.01" width="3.16" height="2.35" fill="#FDE725"/>
<rect x="408.40" y="588.33" width="3.16" height="2.03" fill="#FDE725"/>
<rect x="417.88" y="587.77" width="3.16" height="2.59" fill="#FDE725"/>
<path d="M419.46,588.27 V586.41 M418.11,586.41 H420.81" stroke="#FDE725" stroke-width="1" fill="none"/>
<rect x="427.36" y="587.49" width="3.16" height="2.87" fill="#FDE725"/>
<path d="M428.94,587.99 V586.22 M427.59,586.22 H430.29" stroke="#FDE725" stroke-width="1" fill="none"/>
<rect x="433.68" y="588.75" width="3.16" height="1.61" fill="#FDE725"/>
<rect x="436.84" y="587.94" width="3.16" height="2.42" fill="#FDE725"/>
<path d="M438.42,588.44 V585.84 M437.07,585.84 H439.77" stroke="#FDE725" stroke-width="1" fill="none"/>
<rect x="443.16" y="588.47" width="3.16" height="1.89" fill="#FDE725"/>
<rect x="446.32" y="587.57" width="3.16" height="2.79" fill="#FDE725"/>
<rect x="458.96" y="588.54" width="3.16" height="1.82" fill="#FDE725"/>
<rect x="462.12" y="588.07" width="3.16" height="2.29" fill="#FDE725"/>
<rect x="465.28" y="587.87" width="3.16" height="2.49" fill="#FDE725"/>
<rect x="474.76" y="588.76" width="3.16" height="1.60" fill="#FDE725"/>
<rect x="391.95" y="586.66" width="3.16" height="3.70" fill="#FDE725"/>
<path d="M393.53,587.16 V585.18 M392.18,585.18 H394.88" stroke="#FDE725" stroke-width="1" fill="none"/>
<rect x="403.71" y="587.16" width="3.16" height="3.20" fill="#FDE725"/>
<path d="M405.29,587.66 V584.85 M403.94,584.85 H406.64" stroke="#FDE725" stroke-width="1" fill="none"/>
<rect x="416.46" y="586.96" width="3.16" height="3.40" fill="#FDE725"/>
<path d="M418.04,587.46 V584.49 M416.69,584.49 H419.39" stroke="#FDE725" stroke-width="1" fill="none"/>
<rect x="429.53" y="586.66" width="3.16" height="3.70" fill="#FDE725"/>
<path d="M431.11,587.16 V585.20 M429.76,585.20 H432.46" stroke="#FDE725" stroke-width="1" fill="none"/>
<rect x="439.34" y="587.66" width="3.16" height="2.70" fill="#FDE725"/>
<rect x="458.94" y="587.16" width="3.16" height="3.20" fill="#FDE725"/>
<path d="M460.52,587.66 V585.09 M459.17,585.09 H461.87" stroke="#FDE725" stroke-width="1" fill="none"/>
<rect x="480.84" y="587.66" width="3.16" height="2.70" fill="#FDE725"/>
</g>
<rect x="320.3" y="550.16" width="167.5" height="39.2" fill="none" stroke="#7a7a7a" stroke-width="0.9"/>
<line x1="487.8" y1="549.76" x2="487.8" y2="589.76" stroke="#555" stroke-width="1.3"/>
<rect x="488.40000000000003" y="550.16" width="16.80" height="39.2" fill="#fff" stroke="#8a8a8a" stroke-width="0.8"/>
<text transform="translate(493.6,569.76) rotate(90)" font-size="9.2" text-anchor="middle" fill="#1a1a1a">120</text>
<line x1="317.3" y1="552.46" x2="320.3" y2="552.46" stroke="#555" stroke-width="0.9"/>
<text x="315.0" y="555.21" font-size="7.8" text-anchor="end" fill="#333">1000</text>
<line x1="317.3" y1="565.26" x2="320.3" y2="565.26" stroke="#555" stroke-width="0.9"/>
<text x="315.0" y="568.01" font-size="7.8" text-anchor="end" fill="#333">100</text>
<line x1="317.3" y1="578.06" x2="320.3" y2="578.06" stroke="#555" stroke-width="0.9"/>
<text x="315.0" y="580.81" font-size="7.8" text-anchor="end" fill="#333">10</text>
<line x1="328.0" y1="589.36" x2="328.0" y2="591.66" stroke="#555" stroke-width="0.9"/>
<text x="328.0" y="600.9" font-size="7.8" text-anchor="middle" fill="#333">0</text>
<line x1="385.0" y1="589.36" x2="385.0" y2="591.66" stroke="#555" stroke-width="0.9"/>
<text x="385.0" y="600.9" font-size="7.8" text-anchor="middle" fill="#333">1000</text>
<line x1="442.0" y1="589.36" x2="442.0" y2="591.66" stroke="#555" stroke-width="0.9"/>
<text x="442.0" y="600.9" font-size="7.8" text-anchor="middle" fill="#333">2000</text>
<text x="401.5" y="612.9" font-size="9.8" text-anchor="middle">Maximum intensity (photons)</text>
<text transform="translate(292.0,295.8) rotate(-90) scale(1.05,1)" font-size="9.5" text-anchor="middle">Number of spirosomes</text>
<text transform="translate(512.1,299.6) rotate(90)" font-size="10.2" text-anchor="middle">Time (min)</text>
</svg></body></html>
